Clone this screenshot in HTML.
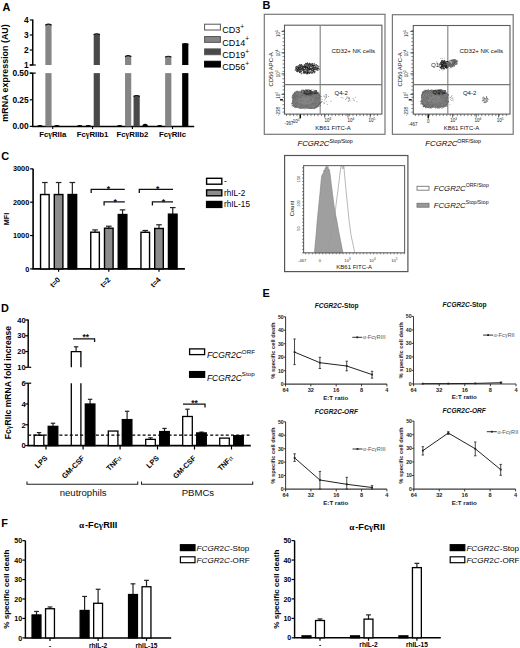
<!DOCTYPE html>
<html><head><meta charset="utf-8"><style>
html,body{margin:0;padding:0;background:#fff;}
svg{display:block;font-family:"Liberation Sans",sans-serif;}
</style></head><body>
<svg width="520" height="648" viewBox="0 0 520 648">
<defs><filter id="bl" x="-20%" y="-20%" width="140%" height="140%"><feGaussianBlur stdDeviation="0.6"/></filter></defs>
<rect width="520" height="648" fill="#fff"/>
<text x="2.4" y="10.6" font-size="10.9" font-weight="bold" font-style="normal" text-anchor="start" fill="#000" >A</text>
<text x="262.4" y="8.9" font-size="10.9" font-weight="bold" font-style="normal" text-anchor="start" fill="#000" >B</text>
<text x="1.2" y="159.8" font-size="10.9" font-weight="bold" font-style="normal" text-anchor="start" fill="#000" >C</text>
<text x="1" y="311.6" font-size="10.9" font-weight="bold" font-style="normal" text-anchor="start" fill="#000" >D</text>
<text x="262.5" y="296.6" font-size="10.9" font-weight="bold" font-style="normal" text-anchor="start" fill="#000" >E</text>
<text x="1.3" y="526.7" font-size="10.9" font-weight="bold" font-style="normal" text-anchor="start" fill="#000" >F</text>
<line x1="32.75" y1="19.5" x2="32.75" y2="65" stroke="#000" stroke-width="1.45" />
<line x1="32.75" y1="73.1" x2="32.75" y2="126.4" stroke="#000" stroke-width="1.45" />
<line x1="32.05" y1="126.4" x2="194.2" y2="126.4" stroke="#000" stroke-width="1.45" />
<line x1="29.75" y1="20" x2="32.75" y2="20" stroke="#000" stroke-width="1.2" />
<text x="28.7" y="23" font-size="8.4" font-weight="bold" font-style="normal" text-anchor="end" fill="#000" >4</text>
<line x1="29.75" y1="35" x2="32.75" y2="35" stroke="#000" stroke-width="1.2" />
<text x="28.7" y="38" font-size="8.4" font-weight="bold" font-style="normal" text-anchor="end" fill="#000" >3</text>
<line x1="29.75" y1="50" x2="32.75" y2="50" stroke="#000" stroke-width="1.2" />
<text x="28.7" y="53" font-size="8.4" font-weight="bold" font-style="normal" text-anchor="end" fill="#000" >2</text>
<line x1="29.75" y1="65" x2="32.75" y2="65" stroke="#000" stroke-width="1.2" />
<text x="28.7" y="68" font-size="8.4" font-weight="bold" font-style="normal" text-anchor="end" fill="#000" >1</text>
<line x1="29.75" y1="73.2" x2="32.75" y2="73.2" stroke="#000" stroke-width="1.2" />
<text x="28.7" y="76.2" font-size="8.4" font-weight="bold" font-style="normal" text-anchor="end" fill="#000" >0.50</text>
<line x1="29.75" y1="99.8" x2="32.75" y2="99.8" stroke="#000" stroke-width="1.2" />
<text x="28.7" y="102.8" font-size="8.4" font-weight="bold" font-style="normal" text-anchor="end" fill="#000" >0.25</text>
<line x1="29.75" y1="126.4" x2="32.75" y2="126.4" stroke="#000" stroke-width="1.2" />
<text x="28.7" y="129.4" font-size="8.4" font-weight="bold" font-style="normal" text-anchor="end" fill="#000" >0.00</text>
<line x1="29.75" y1="65" x2="35.75" y2="65" stroke="#000" stroke-width="1.2" />
<line x1="29.75" y1="73.1" x2="35.75" y2="73.1" stroke="#000" stroke-width="1.2" />
<line x1="52.7" y1="126.4" x2="52.7" y2="129" stroke="#000" stroke-width="1.1" />
<path d="M37.15,126.4 Q37.15,125.1 39.95,125.1 Q42.75,125.1 42.75,126.4 Z" fill="#000"/>
<rect x="45.35" y="24.2" width="6.2" height="40.8" fill="#858585" stroke="none" stroke-width="0" />
<rect x="45.35" y="73.1" width="6.2" height="53.3" fill="#858585" stroke="none" stroke-width="0" />
<path d="M45.35,25.2 Q48.45,23 51.55,25.2" stroke="#111" stroke-width="1.1" fill="none"/>
<path d="M54.15,126.4 Q54.15,125.1 56.95,125.1 Q59.75,125.1 59.75,126.4 Z" fill="#000"/>
<line x1="92.55" y1="126.4" x2="92.55" y2="129" stroke="#000" stroke-width="1.1" />
<path d="M77,126.4 Q77,125.1 79.8,125.1 Q82.6,125.1 82.6,126.4 Z" fill="#000"/>
<path d="M85.5,126.4 Q85.5,125.1 88.3,125.1 Q91.1,125.1 91.1,126.4 Z" fill="#000"/>
<rect x="93.7" y="33.8" width="6.2" height="31.2" fill="#494949" stroke="none" stroke-width="0" />
<rect x="93.7" y="73.1" width="6.2" height="53.3" fill="#494949" stroke="none" stroke-width="0" />
<path d="M93.7,34.8 Q96.8,32.6 99.9,34.8" stroke="#111" stroke-width="1.1" fill="none"/>
<line x1="132.4" y1="126.4" x2="132.4" y2="129" stroke="#000" stroke-width="1.1" />
<path d="M116.85,126.4 Q116.85,125.1 119.65,125.1 Q122.45,125.1 122.45,126.4 Z" fill="#000"/>
<rect x="125.05" y="55.7" width="6.2" height="9.3" fill="#858585" stroke="none" stroke-width="0" />
<rect x="125.05" y="73.1" width="6.2" height="53.3" fill="#858585" stroke="none" stroke-width="0" />
<path d="M125.05,56.7 Q128.15,54.5 131.25,56.7" stroke="#111" stroke-width="1.1" fill="none"/>
<rect x="133.55" y="95.54" width="6.2" height="30.86" fill="#494949" stroke="none" stroke-width="0" />
<path d="M133.55,96.54 Q136.65,94.34 139.75,96.54" stroke="#111" stroke-width="1.1" fill="none"/>
<path d="M142.35,126.4 Q142.35,123.67 145.15,123.67 Q147.95,123.67 147.95,126.4 Z" fill="#000"/>
<line x1="172.5" y1="126.4" x2="172.5" y2="129" stroke="#000" stroke-width="1.1" />
<path d="M156.95,126.4 Q156.95,125.1 159.75,125.1 Q162.55,125.1 162.55,126.4 Z" fill="#000"/>
<rect x="165.15" y="56.3" width="6.2" height="8.7" fill="#858585" stroke="none" stroke-width="0" />
<rect x="165.15" y="73.1" width="6.2" height="53.3" fill="#858585" stroke="none" stroke-width="0" />
<path d="M165.15,57.3 Q168.25,55.1 171.35,57.3" stroke="#111" stroke-width="1.1" fill="none"/>
<rect x="182.15" y="43.55" width="6.2" height="21.45" fill="#000" stroke="none" stroke-width="0" />
<rect x="182.15" y="73.1" width="6.2" height="53.3" fill="#000" stroke="none" stroke-width="0" />
<path d="M182.15,44.55 Q185.25,42.35 188.35,44.55" stroke="#111" stroke-width="1.1" fill="none"/>
<text x="52.7" y="137.2" font-size="7.8" font-weight="bold" font-style="normal" text-anchor="middle" fill="#000" >Fc<tspan font-family="Liberation Serif">&#947;</tspan>RIIa</text>
<text x="92.55" y="137.2" font-size="7.8" font-weight="bold" font-style="normal" text-anchor="middle" fill="#000" >Fc<tspan font-family="Liberation Serif">&#947;</tspan>RIIb1</text>
<text x="132.4" y="137.2" font-size="7.8" font-weight="bold" font-style="normal" text-anchor="middle" fill="#000" >Fc<tspan font-family="Liberation Serif">&#947;</tspan>RIIb2</text>
<text x="172.5" y="137.2" font-size="7.8" font-weight="bold" font-style="normal" text-anchor="middle" fill="#000" >Fc<tspan font-family="Liberation Serif">&#947;</tspan>RIIc</text>
<text x="0" y="0" font-size="8.9" font-weight="bold" font-style="normal" text-anchor="middle" fill="#000" transform="translate(8.2,73) rotate(-90)">mRNA expression (AU)</text>
<rect x="204.6" y="24.2" width="15.8" height="5.8" fill="#fff" stroke="#555" stroke-width="1.0" />
<text x="222.3" y="33.2" font-size="9.0" font-weight="normal" font-style="normal" text-anchor="start" fill="#000" >CD3<tspan font-size="6.6" dy="-4.4">+</tspan></text>
<rect x="204.6" y="36.55" width="15.8" height="5.8" fill="#858585" stroke="#555" stroke-width="1.0" />
<text x="222.3" y="45.55" font-size="9.0" font-weight="normal" font-style="normal" text-anchor="start" fill="#000" >CD14<tspan font-size="6.6" dy="-4.4">+</tspan></text>
<rect x="204.6" y="48.9" width="15.8" height="5.8" fill="#494949" stroke="#555" stroke-width="1.0" />
<text x="222.3" y="57.9" font-size="9.0" font-weight="normal" font-style="normal" text-anchor="start" fill="#000" >CD19<tspan font-size="6.6" dy="-4.4">+</tspan></text>
<rect x="204.6" y="61.25" width="15.8" height="5.8" fill="#000" stroke="#000" stroke-width="1.0" />
<text x="222.3" y="70.25" font-size="9.0" font-weight="normal" font-style="normal" text-anchor="start" fill="#000" >CD56<tspan font-size="6.6" dy="-4.4">+</tspan></text>
<rect x="264.3" y="14.3" width="120.7" height="120" fill="none" stroke="#777" stroke-width="1.2" />
<rect x="284.5" y="25.2" width="97.4" height="88.9" fill="none" stroke="#5c5c5c" stroke-width="1.1" />
<line x1="320.2" y1="25.2" x2="320.2" y2="114.1" stroke="#8a8a8a" stroke-width="1.2" />
<line x1="284.5" y1="84.6" x2="381.9" y2="84.6" stroke="#777" stroke-width="1.1" />
<line x1="282.5" y1="112.1" x2="284.5" y2="112.1" stroke="#333" stroke-width="0.6" />
<line x1="282.5" y1="108.4" x2="284.5" y2="108.4" stroke="#333" stroke-width="0.6" />
<line x1="282.5" y1="104.7" x2="284.5" y2="104.7" stroke="#333" stroke-width="0.6" />
<line x1="282.5" y1="101" x2="284.5" y2="101" stroke="#333" stroke-width="0.6" />
<line x1="282.5" y1="97.3" x2="284.5" y2="97.3" stroke="#333" stroke-width="0.6" />
<line x1="282.5" y1="93.6" x2="284.5" y2="93.6" stroke="#333" stroke-width="0.6" />
<line x1="282.5" y1="89.9" x2="284.5" y2="89.9" stroke="#333" stroke-width="0.6" />
<line x1="282.5" y1="86.2" x2="284.5" y2="86.2" stroke="#333" stroke-width="0.6" />
<line x1="282.5" y1="82.5" x2="284.5" y2="82.5" stroke="#333" stroke-width="0.6" />
<line x1="282.5" y1="78.8" x2="284.5" y2="78.8" stroke="#333" stroke-width="0.6" />
<line x1="282.5" y1="75.1" x2="284.5" y2="75.1" stroke="#333" stroke-width="0.6" />
<line x1="282.5" y1="71.4" x2="284.5" y2="71.4" stroke="#333" stroke-width="0.6" />
<line x1="282.5" y1="67.7" x2="284.5" y2="67.7" stroke="#333" stroke-width="0.6" />
<line x1="282.5" y1="64" x2="284.5" y2="64" stroke="#333" stroke-width="0.6" />
<line x1="282.5" y1="60.3" x2="284.5" y2="60.3" stroke="#333" stroke-width="0.6" />
<line x1="282.5" y1="56.6" x2="284.5" y2="56.6" stroke="#333" stroke-width="0.6" />
<line x1="282.5" y1="52.9" x2="284.5" y2="52.9" stroke="#333" stroke-width="0.6" />
<line x1="282.5" y1="49.2" x2="284.5" y2="49.2" stroke="#333" stroke-width="0.6" />
<line x1="282.5" y1="45.5" x2="284.5" y2="45.5" stroke="#333" stroke-width="0.6" />
<line x1="282.5" y1="41.8" x2="284.5" y2="41.8" stroke="#333" stroke-width="0.6" />
<line x1="282.5" y1="38.1" x2="284.5" y2="38.1" stroke="#333" stroke-width="0.6" />
<line x1="282.5" y1="34.4" x2="284.5" y2="34.4" stroke="#333" stroke-width="0.6" />
<line x1="282.5" y1="30.7" x2="284.5" y2="30.7" stroke="#333" stroke-width="0.6" />
<line x1="286.5" y1="114.1" x2="286.5" y2="116.1" stroke="#333" stroke-width="0.6" />
<line x1="290" y1="114.1" x2="290" y2="116.1" stroke="#333" stroke-width="0.6" />
<line x1="293.5" y1="114.1" x2="293.5" y2="116.1" stroke="#333" stroke-width="0.6" />
<line x1="297" y1="114.1" x2="297" y2="116.1" stroke="#333" stroke-width="0.6" />
<line x1="300.5" y1="114.1" x2="300.5" y2="116.1" stroke="#333" stroke-width="0.6" />
<line x1="304" y1="114.1" x2="304" y2="116.1" stroke="#333" stroke-width="0.6" />
<line x1="307.5" y1="114.1" x2="307.5" y2="116.1" stroke="#333" stroke-width="0.6" />
<line x1="311" y1="114.1" x2="311" y2="116.1" stroke="#333" stroke-width="0.6" />
<line x1="314.5" y1="114.1" x2="314.5" y2="116.1" stroke="#333" stroke-width="0.6" />
<line x1="318" y1="114.1" x2="318" y2="116.1" stroke="#333" stroke-width="0.6" />
<line x1="321.5" y1="114.1" x2="321.5" y2="116.1" stroke="#333" stroke-width="0.6" />
<line x1="325" y1="114.1" x2="325" y2="116.1" stroke="#333" stroke-width="0.6" />
<line x1="328.5" y1="114.1" x2="328.5" y2="116.1" stroke="#333" stroke-width="0.6" />
<line x1="332" y1="114.1" x2="332" y2="116.1" stroke="#333" stroke-width="0.6" />
<line x1="335.5" y1="114.1" x2="335.5" y2="116.1" stroke="#333" stroke-width="0.6" />
<line x1="339" y1="114.1" x2="339" y2="116.1" stroke="#333" stroke-width="0.6" />
<line x1="342.5" y1="114.1" x2="342.5" y2="116.1" stroke="#333" stroke-width="0.6" />
<line x1="346" y1="114.1" x2="346" y2="116.1" stroke="#333" stroke-width="0.6" />
<line x1="349.5" y1="114.1" x2="349.5" y2="116.1" stroke="#333" stroke-width="0.6" />
<line x1="353" y1="114.1" x2="353" y2="116.1" stroke="#333" stroke-width="0.6" />
<line x1="356.5" y1="114.1" x2="356.5" y2="116.1" stroke="#333" stroke-width="0.6" />
<line x1="360" y1="114.1" x2="360" y2="116.1" stroke="#333" stroke-width="0.6" />
<line x1="363.5" y1="114.1" x2="363.5" y2="116.1" stroke="#333" stroke-width="0.6" />
<line x1="367" y1="114.1" x2="367" y2="116.1" stroke="#333" stroke-width="0.6" />
<line x1="370.5" y1="114.1" x2="370.5" y2="116.1" stroke="#333" stroke-width="0.6" />
<line x1="374" y1="114.1" x2="374" y2="116.1" stroke="#333" stroke-width="0.6" />
<line x1="377.5" y1="114.1" x2="377.5" y2="116.1" stroke="#333" stroke-width="0.6" />
<rect x="392.4" y="14.7" width="120.8" height="119.6" fill="none" stroke="#777" stroke-width="1.2" />
<rect x="413.3" y="25.5" width="96.7" height="88.6" fill="none" stroke="#5c5c5c" stroke-width="1.1" />
<line x1="447.8" y1="25.5" x2="447.8" y2="114.1" stroke="#8a8a8a" stroke-width="1.2" />
<line x1="413.3" y1="84.6" x2="510" y2="84.6" stroke="#777" stroke-width="1.1" />
<line x1="411.3" y1="112.1" x2="413.3" y2="112.1" stroke="#333" stroke-width="0.6" />
<line x1="411.3" y1="108.4" x2="413.3" y2="108.4" stroke="#333" stroke-width="0.6" />
<line x1="411.3" y1="104.7" x2="413.3" y2="104.7" stroke="#333" stroke-width="0.6" />
<line x1="411.3" y1="101" x2="413.3" y2="101" stroke="#333" stroke-width="0.6" />
<line x1="411.3" y1="97.3" x2="413.3" y2="97.3" stroke="#333" stroke-width="0.6" />
<line x1="411.3" y1="93.6" x2="413.3" y2="93.6" stroke="#333" stroke-width="0.6" />
<line x1="411.3" y1="89.9" x2="413.3" y2="89.9" stroke="#333" stroke-width="0.6" />
<line x1="411.3" y1="86.2" x2="413.3" y2="86.2" stroke="#333" stroke-width="0.6" />
<line x1="411.3" y1="82.5" x2="413.3" y2="82.5" stroke="#333" stroke-width="0.6" />
<line x1="411.3" y1="78.8" x2="413.3" y2="78.8" stroke="#333" stroke-width="0.6" />
<line x1="411.3" y1="75.1" x2="413.3" y2="75.1" stroke="#333" stroke-width="0.6" />
<line x1="411.3" y1="71.4" x2="413.3" y2="71.4" stroke="#333" stroke-width="0.6" />
<line x1="411.3" y1="67.7" x2="413.3" y2="67.7" stroke="#333" stroke-width="0.6" />
<line x1="411.3" y1="64" x2="413.3" y2="64" stroke="#333" stroke-width="0.6" />
<line x1="411.3" y1="60.3" x2="413.3" y2="60.3" stroke="#333" stroke-width="0.6" />
<line x1="411.3" y1="56.6" x2="413.3" y2="56.6" stroke="#333" stroke-width="0.6" />
<line x1="411.3" y1="52.9" x2="413.3" y2="52.9" stroke="#333" stroke-width="0.6" />
<line x1="411.3" y1="49.2" x2="413.3" y2="49.2" stroke="#333" stroke-width="0.6" />
<line x1="411.3" y1="45.5" x2="413.3" y2="45.5" stroke="#333" stroke-width="0.6" />
<line x1="411.3" y1="41.8" x2="413.3" y2="41.8" stroke="#333" stroke-width="0.6" />
<line x1="411.3" y1="38.1" x2="413.3" y2="38.1" stroke="#333" stroke-width="0.6" />
<line x1="411.3" y1="34.4" x2="413.3" y2="34.4" stroke="#333" stroke-width="0.6" />
<line x1="411.3" y1="30.7" x2="413.3" y2="30.7" stroke="#333" stroke-width="0.6" />
<line x1="415.3" y1="114.1" x2="415.3" y2="116.1" stroke="#333" stroke-width="0.6" />
<line x1="418.8" y1="114.1" x2="418.8" y2="116.1" stroke="#333" stroke-width="0.6" />
<line x1="422.3" y1="114.1" x2="422.3" y2="116.1" stroke="#333" stroke-width="0.6" />
<line x1="425.8" y1="114.1" x2="425.8" y2="116.1" stroke="#333" stroke-width="0.6" />
<line x1="429.3" y1="114.1" x2="429.3" y2="116.1" stroke="#333" stroke-width="0.6" />
<line x1="432.8" y1="114.1" x2="432.8" y2="116.1" stroke="#333" stroke-width="0.6" />
<line x1="436.3" y1="114.1" x2="436.3" y2="116.1" stroke="#333" stroke-width="0.6" />
<line x1="439.8" y1="114.1" x2="439.8" y2="116.1" stroke="#333" stroke-width="0.6" />
<line x1="443.3" y1="114.1" x2="443.3" y2="116.1" stroke="#333" stroke-width="0.6" />
<line x1="446.8" y1="114.1" x2="446.8" y2="116.1" stroke="#333" stroke-width="0.6" />
<line x1="450.3" y1="114.1" x2="450.3" y2="116.1" stroke="#333" stroke-width="0.6" />
<line x1="453.8" y1="114.1" x2="453.8" y2="116.1" stroke="#333" stroke-width="0.6" />
<line x1="457.3" y1="114.1" x2="457.3" y2="116.1" stroke="#333" stroke-width="0.6" />
<line x1="460.8" y1="114.1" x2="460.8" y2="116.1" stroke="#333" stroke-width="0.6" />
<line x1="464.3" y1="114.1" x2="464.3" y2="116.1" stroke="#333" stroke-width="0.6" />
<line x1="467.8" y1="114.1" x2="467.8" y2="116.1" stroke="#333" stroke-width="0.6" />
<line x1="471.3" y1="114.1" x2="471.3" y2="116.1" stroke="#333" stroke-width="0.6" />
<line x1="474.8" y1="114.1" x2="474.8" y2="116.1" stroke="#333" stroke-width="0.6" />
<line x1="478.3" y1="114.1" x2="478.3" y2="116.1" stroke="#333" stroke-width="0.6" />
<line x1="481.8" y1="114.1" x2="481.8" y2="116.1" stroke="#333" stroke-width="0.6" />
<line x1="485.3" y1="114.1" x2="485.3" y2="116.1" stroke="#333" stroke-width="0.6" />
<line x1="488.8" y1="114.1" x2="488.8" y2="116.1" stroke="#333" stroke-width="0.6" />
<line x1="492.3" y1="114.1" x2="492.3" y2="116.1" stroke="#333" stroke-width="0.6" />
<line x1="495.8" y1="114.1" x2="495.8" y2="116.1" stroke="#333" stroke-width="0.6" />
<line x1="499.3" y1="114.1" x2="499.3" y2="116.1" stroke="#333" stroke-width="0.6" />
<line x1="502.8" y1="114.1" x2="502.8" y2="116.1" stroke="#333" stroke-width="0.6" />
<line x1="506.3" y1="114.1" x2="506.3" y2="116.1" stroke="#333" stroke-width="0.6" />
<circle cx="303.8" cy="66.5" r="0.55" fill="#111"/>
<circle cx="299.1" cy="66.8" r="0.55" fill="#666"/>
<circle cx="303.3" cy="69.6" r="0.55" fill="#222"/>
<circle cx="309.0" cy="67.0" r="0.55" fill="#111"/>
<circle cx="296.9" cy="66.4" r="0.55" fill="#111"/>
<circle cx="316.0" cy="67.4" r="0.55" fill="#111"/>
<circle cx="300.6" cy="70.4" r="0.55" fill="#666"/>
<circle cx="308.9" cy="66.8" r="0.55" fill="#222"/>
<circle cx="309.0" cy="69.8" r="0.55" fill="#111"/>
<circle cx="314.6" cy="69.2" r="0.55" fill="#222"/>
<circle cx="308.7" cy="64.8" r="0.55" fill="#444"/>
<circle cx="304.8" cy="72.1" r="0.55" fill="#222"/>
<circle cx="299.1" cy="67.1" r="0.55" fill="#666"/>
<circle cx="299.9" cy="69.8" r="0.55" fill="#666"/>
<circle cx="298.4" cy="71.0" r="0.55" fill="#333"/>
<circle cx="311.9" cy="68.6" r="0.55" fill="#111"/>
<circle cx="314.8" cy="64.9" r="0.55" fill="#333"/>
<circle cx="300.8" cy="68.8" r="0.55" fill="#444"/>
<circle cx="307.1" cy="69.6" r="0.55" fill="#111"/>
<circle cx="305.5" cy="67.5" r="0.55" fill="#444"/>
<circle cx="304.3" cy="66.3" r="0.55" fill="#111"/>
<circle cx="298.8" cy="65.8" r="0.55" fill="#444"/>
<circle cx="309.6" cy="69.2" r="0.55" fill="#222"/>
<circle cx="299.0" cy="68.9" r="0.55" fill="#222"/>
<circle cx="313.3" cy="65.8" r="0.55" fill="#444"/>
<circle cx="298.6" cy="71.0" r="0.55" fill="#333"/>
<circle cx="308.7" cy="72.3" r="0.55" fill="#111"/>
<circle cx="308.0" cy="70.3" r="0.55" fill="#444"/>
<circle cx="305.6" cy="72.5" r="0.55" fill="#222"/>
<circle cx="300.6" cy="67.5" r="0.55" fill="#222"/>
<circle cx="299.9" cy="66.0" r="0.55" fill="#111"/>
<circle cx="315.9" cy="66.9" r="0.55" fill="#666"/>
<circle cx="313.2" cy="69.9" r="0.55" fill="#444"/>
<circle cx="308.1" cy="69.4" r="0.55" fill="#222"/>
<circle cx="310.7" cy="69.3" r="0.55" fill="#666"/>
<circle cx="304.8" cy="69.8" r="0.55" fill="#111"/>
<circle cx="305.4" cy="69.4" r="0.55" fill="#333"/>
<circle cx="295.6" cy="69.8" r="0.55" fill="#111"/>
<circle cx="295.2" cy="70.1" r="0.55" fill="#444"/>
<circle cx="307.3" cy="65.9" r="0.55" fill="#333"/>
<circle cx="298.7" cy="68.5" r="0.55" fill="#222"/>
<circle cx="314.7" cy="72.0" r="0.55" fill="#666"/>
<circle cx="304.0" cy="73.5" r="0.55" fill="#111"/>
<circle cx="301.4" cy="71.6" r="0.55" fill="#222"/>
<circle cx="301.1" cy="68.0" r="0.55" fill="#666"/>
<circle cx="309.6" cy="65.8" r="0.55" fill="#222"/>
<circle cx="306.4" cy="63.5" r="0.55" fill="#222"/>
<circle cx="306.7" cy="66.2" r="0.55" fill="#111"/>
<circle cx="311.2" cy="72.3" r="0.55" fill="#666"/>
<circle cx="317.9" cy="66.0" r="0.55" fill="#333"/>
<circle cx="309.7" cy="72.9" r="0.55" fill="#222"/>
<circle cx="299.7" cy="69.1" r="0.55" fill="#666"/>
<circle cx="301.0" cy="65.0" r="0.55" fill="#111"/>
<circle cx="300.2" cy="71.4" r="0.55" fill="#222"/>
<circle cx="309.1" cy="65.3" r="0.55" fill="#333"/>
<circle cx="306.6" cy="66.8" r="0.55" fill="#444"/>
<circle cx="305.9" cy="64.9" r="0.55" fill="#222"/>
<circle cx="298.7" cy="66.5" r="0.55" fill="#444"/>
<circle cx="311.6" cy="64.6" r="0.55" fill="#444"/>
<circle cx="298.6" cy="67.7" r="0.55" fill="#222"/>
<circle cx="307.1" cy="67.6" r="0.55" fill="#111"/>
<circle cx="298.6" cy="70.5" r="0.55" fill="#222"/>
<circle cx="307.5" cy="72.6" r="0.55" fill="#333"/>
<circle cx="303.4" cy="72.0" r="0.55" fill="#666"/>
<circle cx="313.1" cy="66.6" r="0.55" fill="#333"/>
<circle cx="311.9" cy="63.6" r="0.55" fill="#666"/>
<circle cx="298.7" cy="68.8" r="0.55" fill="#666"/>
<circle cx="310.6" cy="66.8" r="0.55" fill="#222"/>
<circle cx="313.5" cy="71.5" r="0.55" fill="#222"/>
<circle cx="299.1" cy="67.5" r="0.55" fill="#333"/>
<circle cx="297.6" cy="69.3" r="0.55" fill="#111"/>
<circle cx="311.1" cy="72.0" r="0.55" fill="#111"/>
<circle cx="297.6" cy="67.2" r="0.55" fill="#111"/>
<circle cx="299.2" cy="68.7" r="0.55" fill="#666"/>
<circle cx="302.4" cy="68.5" r="0.55" fill="#444"/>
<circle cx="299.6" cy="68.3" r="0.55" fill="#333"/>
<circle cx="311.4" cy="73.3" r="0.55" fill="#444"/>
<circle cx="303.8" cy="69.2" r="0.55" fill="#111"/>
<circle cx="309.8" cy="72.2" r="0.55" fill="#333"/>
<circle cx="314.3" cy="72.1" r="0.55" fill="#333"/>
<circle cx="312.3" cy="67.7" r="0.55" fill="#222"/>
<circle cx="314.0" cy="65.6" r="0.55" fill="#222"/>
<circle cx="314.5" cy="72.7" r="0.55" fill="#444"/>
<circle cx="297.4" cy="71.2" r="0.55" fill="#333"/>
<circle cx="314.5" cy="68.4" r="0.55" fill="#666"/>
<circle cx="301.1" cy="71.1" r="0.55" fill="#666"/>
<circle cx="316.1" cy="69.5" r="0.55" fill="#222"/>
<circle cx="306.6" cy="72.8" r="0.55" fill="#111"/>
<circle cx="307.6" cy="64.1" r="0.55" fill="#444"/>
<circle cx="318.2" cy="66.2" r="0.55" fill="#444"/>
<circle cx="302.7" cy="67.7" r="0.55" fill="#333"/>
<circle cx="306.2" cy="67.3" r="0.55" fill="#444"/>
<circle cx="317.8" cy="68.3" r="0.55" fill="#111"/>
<circle cx="313.0" cy="65.0" r="0.55" fill="#111"/>
<circle cx="312.8" cy="68.3" r="0.55" fill="#666"/>
<circle cx="301.0" cy="66.2" r="0.55" fill="#111"/>
<circle cx="313.6" cy="70.2" r="0.55" fill="#222"/>
<circle cx="312.4" cy="67.2" r="0.55" fill="#333"/>
<circle cx="300.0" cy="69.9" r="0.55" fill="#222"/>
<circle cx="314.1" cy="68.0" r="0.55" fill="#111"/>
<circle cx="305.9" cy="68.3" r="0.55" fill="#222"/>
<circle cx="300.0" cy="69.9" r="0.55" fill="#444"/>
<circle cx="314.7" cy="65.4" r="0.55" fill="#666"/>
<circle cx="308.3" cy="70.9" r="0.55" fill="#222"/>
<circle cx="299.7" cy="65.1" r="0.55" fill="#444"/>
<circle cx="314.2" cy="63.2" r="0.55" fill="#111"/>
<circle cx="307.4" cy="69.8" r="0.55" fill="#222"/>
<circle cx="305.3" cy="69.3" r="0.55" fill="#666"/>
<circle cx="308.0" cy="72.2" r="0.55" fill="#333"/>
<circle cx="307.2" cy="69.4" r="0.55" fill="#111"/>
<circle cx="314.2" cy="67.6" r="0.55" fill="#666"/>
<circle cx="311.6" cy="66.5" r="0.55" fill="#222"/>
<circle cx="303.0" cy="70.3" r="0.55" fill="#444"/>
<circle cx="307.6" cy="71.2" r="0.55" fill="#111"/>
<circle cx="309.9" cy="69.6" r="0.55" fill="#666"/>
<circle cx="306.7" cy="69.3" r="0.55" fill="#222"/>
<circle cx="309.7" cy="67.0" r="0.55" fill="#222"/>
<circle cx="314.7" cy="65.1" r="0.55" fill="#444"/>
<circle cx="296.3" cy="69.1" r="0.55" fill="#333"/>
<circle cx="317.6" cy="69.1" r="0.55" fill="#666"/>
<circle cx="311.0" cy="64.3" r="0.55" fill="#222"/>
<circle cx="296.2" cy="66.8" r="0.55" fill="#111"/>
<circle cx="315.9" cy="65.1" r="0.55" fill="#222"/>
<circle cx="305.4" cy="67.5" r="0.55" fill="#111"/>
<circle cx="314.3" cy="69.0" r="0.55" fill="#111"/>
<circle cx="297.5" cy="69.2" r="0.55" fill="#111"/>
<circle cx="313.7" cy="66.9" r="0.55" fill="#666"/>
<circle cx="307.2" cy="66.9" r="0.55" fill="#444"/>
<circle cx="307.0" cy="70.6" r="0.55" fill="#222"/>
<circle cx="301.6" cy="69.3" r="0.55" fill="#444"/>
<circle cx="306.6" cy="70.0" r="0.55" fill="#111"/>
<circle cx="316.1" cy="69.9" r="0.55" fill="#222"/>
<circle cx="304.7" cy="65.7" r="0.55" fill="#666"/>
<circle cx="314.6" cy="69.2" r="0.55" fill="#333"/>
<circle cx="309.7" cy="72.5" r="0.55" fill="#444"/>
<circle cx="301.1" cy="69.3" r="0.55" fill="#444"/>
<circle cx="295.9" cy="67.4" r="0.55" fill="#333"/>
<circle cx="316.0" cy="67.2" r="0.55" fill="#444"/>
<circle cx="317.2" cy="65.5" r="0.55" fill="#222"/>
<circle cx="307.3" cy="67.2" r="0.55" fill="#333"/>
<circle cx="311.6" cy="64.3" r="0.55" fill="#666"/>
<circle cx="303.8" cy="70.3" r="0.55" fill="#444"/>
<circle cx="318.5" cy="68.6" r="0.55" fill="#111"/>
<circle cx="297.4" cy="71.8" r="0.55" fill="#222"/>
<circle cx="312.9" cy="70.3" r="0.55" fill="#333"/>
<circle cx="307.7" cy="68.2" r="0.55" fill="#111"/>
<circle cx="317.9" cy="68.2" r="0.55" fill="#333"/>
<circle cx="303.5" cy="70.0" r="0.55" fill="#666"/>
<circle cx="307.5" cy="66.8" r="0.55" fill="#111"/>
<circle cx="304.4" cy="66.6" r="0.55" fill="#222"/>
<circle cx="301.9" cy="68.5" r="0.55" fill="#222"/>
<circle cx="297.3" cy="71.0" r="0.55" fill="#111"/>
<circle cx="316.8" cy="65.5" r="0.55" fill="#666"/>
<circle cx="316.4" cy="69.2" r="0.55" fill="#444"/>
<circle cx="302.0" cy="65.8" r="0.55" fill="#333"/>
<circle cx="298.5" cy="67.6" r="0.55" fill="#222"/>
<circle cx="305.3" cy="71.6" r="0.55" fill="#333"/>
<circle cx="300.5" cy="69.1" r="0.55" fill="#444"/>
<circle cx="311.3" cy="69.0" r="0.55" fill="#666"/>
<circle cx="309.7" cy="73.0" r="0.55" fill="#333"/>
<circle cx="315.1" cy="71.8" r="0.55" fill="#222"/>
<circle cx="302.4" cy="67.9" r="0.55" fill="#333"/>
<circle cx="302.5" cy="67.7" r="0.55" fill="#111"/>
<circle cx="298.9" cy="71.0" r="0.55" fill="#666"/>
<circle cx="307.4" cy="66.3" r="0.55" fill="#444"/>
<circle cx="312.5" cy="70.3" r="0.55" fill="#666"/>
<circle cx="312.7" cy="64.9" r="0.55" fill="#111"/>
<circle cx="302.8" cy="70.0" r="0.55" fill="#444"/>
<circle cx="310.2" cy="65.4" r="0.55" fill="#111"/>
<circle cx="307.7" cy="66.6" r="0.55" fill="#444"/>
<circle cx="318.0" cy="70.0" r="0.55" fill="#666"/>
<circle cx="307.8" cy="73.7" r="0.55" fill="#111"/>
<circle cx="312.3" cy="67.8" r="0.55" fill="#111"/>
<circle cx="299.8" cy="64.6" r="0.55" fill="#444"/>
<circle cx="311.2" cy="68.2" r="0.55" fill="#222"/>
<circle cx="303.4" cy="66.4" r="0.55" fill="#333"/>
<circle cx="295.4" cy="68.1" r="0.55" fill="#444"/>
<circle cx="315.4" cy="69.6" r="0.55" fill="#666"/>
<circle cx="306.9" cy="72.8" r="0.55" fill="#666"/>
<circle cx="307.8" cy="68.4" r="0.55" fill="#333"/>
<circle cx="316.3" cy="64.5" r="0.55" fill="#444"/>
<circle cx="316.0" cy="68.6" r="0.55" fill="#444"/>
<circle cx="316.7" cy="68.5" r="0.55" fill="#444"/>
<circle cx="317.7" cy="70.3" r="0.55" fill="#222"/>
<circle cx="309.2" cy="72.9" r="0.55" fill="#111"/>
<circle cx="300.7" cy="72.1" r="0.55" fill="#444"/>
<circle cx="306.9" cy="66.0" r="0.55" fill="#666"/>
<circle cx="308.4" cy="69.6" r="0.55" fill="#222"/>
<circle cx="307.6" cy="66.2" r="0.55" fill="#333"/>
<circle cx="304.2" cy="67.5" r="0.55" fill="#222"/>
<circle cx="316.2" cy="69.3" r="0.55" fill="#666"/>
<circle cx="308.5" cy="70.1" r="0.55" fill="#666"/>
<circle cx="311.0" cy="68.8" r="0.55" fill="#444"/>
<circle cx="304.2" cy="71.8" r="0.55" fill="#111"/>
<circle cx="301.2" cy="73.7" r="0.55" fill="#222"/>
<circle cx="298.0" cy="69.7" r="0.55" fill="#333"/>
<circle cx="301.0" cy="71.5" r="0.55" fill="#333"/>
<circle cx="313.6" cy="69.5" r="0.55" fill="#111"/>
<circle cx="313.2" cy="70.5" r="0.55" fill="#222"/>
<circle cx="304.7" cy="71.6" r="0.55" fill="#444"/>
<circle cx="308.7" cy="69.8" r="0.55" fill="#666"/>
<circle cx="300.8" cy="72.0" r="0.55" fill="#444"/>
<circle cx="308.1" cy="67.6" r="0.55" fill="#444"/>
<circle cx="309.3" cy="68.6" r="0.55" fill="#111"/>
<circle cx="312.5" cy="66.5" r="0.55" fill="#333"/>
<circle cx="313.9" cy="67.3" r="0.55" fill="#111"/>
<circle cx="304.9" cy="71.0" r="0.55" fill="#333"/>
<circle cx="301.6" cy="67.0" r="0.55" fill="#111"/>
<circle cx="305.7" cy="68.6" r="0.55" fill="#444"/>
<circle cx="307.6" cy="73.1" r="0.55" fill="#444"/>
<circle cx="297.9" cy="69.0" r="0.55" fill="#111"/>
<circle cx="312.2" cy="63.8" r="0.55" fill="#222"/>
<circle cx="303.9" cy="71.9" r="0.55" fill="#333"/>
<circle cx="296.6" cy="68.6" r="0.55" fill="#444"/>
<circle cx="316.2" cy="69.5" r="0.55" fill="#111"/>
<circle cx="312.0" cy="71.2" r="0.55" fill="#444"/>
<circle cx="306.5" cy="73.8" r="0.55" fill="#111"/>
<circle cx="312.7" cy="68.0" r="0.55" fill="#444"/>
<circle cx="303.2" cy="69.1" r="0.55" fill="#222"/>
<circle cx="301.4" cy="64.6" r="0.55" fill="#111"/>
<circle cx="305.8" cy="72.6" r="0.55" fill="#333"/>
<circle cx="310.0" cy="71.4" r="0.55" fill="#222"/>
<circle cx="306.6" cy="70.4" r="0.55" fill="#666"/>
<circle cx="307.4" cy="70.3" r="0.55" fill="#222"/>
<circle cx="310.0" cy="65.2" r="0.55" fill="#444"/>
<circle cx="297.1" cy="69.6" r="0.55" fill="#222"/>
<circle cx="319.3" cy="69.1" r="0.55" fill="#333"/>
<circle cx="303.3" cy="67.4" r="0.55" fill="#666"/>
<circle cx="302.8" cy="68.5" r="0.55" fill="#222"/>
<circle cx="308.5" cy="65.3" r="0.55" fill="#111"/>
<circle cx="304.4" cy="67.4" r="0.55" fill="#222"/>
<circle cx="309.5" cy="68.5" r="0.55" fill="#333"/>
<circle cx="309.5" cy="67.8" r="0.55" fill="#111"/>
<circle cx="300.3" cy="71.9" r="0.55" fill="#666"/>
<circle cx="309.0" cy="65.9" r="0.55" fill="#666"/>
<circle cx="309.5" cy="65.0" r="0.55" fill="#666"/>
<circle cx="304.6" cy="66.9" r="0.55" fill="#444"/>
<circle cx="305.6" cy="72.5" r="0.55" fill="#333"/>
<circle cx="307.1" cy="65.6" r="0.55" fill="#333"/>
<circle cx="307.9" cy="65.6" r="0.55" fill="#333"/>
<circle cx="299.9" cy="71.0" r="0.55" fill="#111"/>
<circle cx="312.8" cy="70.1" r="0.55" fill="#111"/>
<circle cx="299.3" cy="69.7" r="0.55" fill="#222"/>
<circle cx="309.8" cy="69.5" r="0.55" fill="#444"/>
<circle cx="304.9" cy="69.6" r="0.55" fill="#666"/>
<circle cx="310.0" cy="70.0" r="0.55" fill="#222"/>
<circle cx="297.3" cy="69.2" r="0.55" fill="#222"/>
<circle cx="314.4" cy="68.9" r="0.55" fill="#444"/>
<circle cx="302.8" cy="66.4" r="0.55" fill="#111"/>
<circle cx="312.5" cy="63.7" r="0.55" fill="#222"/>
<circle cx="299.6" cy="65.7" r="0.55" fill="#666"/>
<circle cx="312.5" cy="72.8" r="0.55" fill="#222"/>
<circle cx="309.0" cy="69.3" r="0.55" fill="#333"/>
<circle cx="306.7" cy="66.8" r="0.55" fill="#222"/>
<circle cx="307.5" cy="67.4" r="0.55" fill="#111"/>
<circle cx="300.4" cy="71.2" r="0.55" fill="#444"/>
<circle cx="304.4" cy="72.2" r="0.55" fill="#444"/>
<circle cx="302.8" cy="70.3" r="0.55" fill="#333"/>
<circle cx="315.1" cy="68.5" r="0.55" fill="#666"/>
<circle cx="296.4" cy="70.6" r="0.55" fill="#666"/>
<circle cx="312.0" cy="72.1" r="0.55" fill="#444"/>
<circle cx="303.4" cy="70.7" r="0.55" fill="#333"/>
<circle cx="303.9" cy="68.5" r="0.55" fill="#111"/>
<circle cx="309.3" cy="67.9" r="0.55" fill="#333"/>
<circle cx="317.4" cy="69.4" r="0.55" fill="#666"/>
<circle cx="309.7" cy="63.4" r="0.55" fill="#111"/>
<circle cx="305.7" cy="63.2" r="0.55" fill="#111"/>
<circle cx="301.4" cy="68.8" r="0.55" fill="#222"/>
<circle cx="309.5" cy="72.6" r="0.55" fill="#333"/>
<circle cx="303.7" cy="71.8" r="0.55" fill="#666"/>
<circle cx="311.7" cy="70.4" r="0.55" fill="#666"/>
<circle cx="297.5" cy="66.2" r="0.55" fill="#666"/>
<circle cx="315.2" cy="68.8" r="0.55" fill="#222"/>
<circle cx="306.2" cy="71.7" r="0.55" fill="#333"/>
<circle cx="309.4" cy="64.1" r="0.55" fill="#111"/>
<circle cx="312.9" cy="65.2" r="0.55" fill="#444"/>
<circle cx="314.0" cy="65.5" r="0.55" fill="#111"/>
<circle cx="311.0" cy="66.2" r="0.55" fill="#333"/>
<circle cx="301.1" cy="67.3" r="0.55" fill="#333"/>
<circle cx="308.3" cy="70.9" r="0.55" fill="#666"/>
<circle cx="311.0" cy="64.8" r="0.55" fill="#333"/>
<circle cx="312.5" cy="65.8" r="0.55" fill="#333"/>
<circle cx="309.6" cy="72.8" r="0.55" fill="#333"/>
<circle cx="298.3" cy="68.6" r="0.55" fill="#111"/>
<circle cx="305.1" cy="67.1" r="0.55" fill="#111"/>
<circle cx="306.5" cy="69.6" r="0.55" fill="#666"/>
<circle cx="301.7" cy="67.3" r="0.55" fill="#666"/>
<circle cx="309.3" cy="66.8" r="0.55" fill="#222"/>
<circle cx="307.7" cy="70.5" r="0.55" fill="#222"/>
<circle cx="311.8" cy="70.5" r="0.55" fill="#333"/>
<circle cx="314.4" cy="68.3" r="0.55" fill="#666"/>
<circle cx="297.1" cy="66.6" r="0.55" fill="#666"/>
<circle cx="307.8" cy="73.6" r="0.55" fill="#111"/>
<circle cx="305.3" cy="69.1" r="0.55" fill="#222"/>
<circle cx="311.7" cy="69.6" r="0.55" fill="#666"/>
<circle cx="313.8" cy="71.4" r="0.55" fill="#222"/>
<circle cx="301.9" cy="65.7" r="0.55" fill="#444"/>
<circle cx="304.1" cy="72.4" r="0.55" fill="#333"/>
<circle cx="305.4" cy="64.0" r="0.55" fill="#444"/>
<circle cx="312.0" cy="65.2" r="0.55" fill="#444"/>
<circle cx="309.1" cy="69.6" r="0.55" fill="#111"/>
<circle cx="312.0" cy="70.0" r="0.55" fill="#333"/>
<circle cx="298.5" cy="67.5" r="0.55" fill="#444"/>
<circle cx="318.3" cy="67.0" r="0.55" fill="#333"/>
<circle cx="309.9" cy="72.8" r="0.55" fill="#666"/>
<circle cx="307.5" cy="69.0" r="0.55" fill="#222"/>
<circle cx="301.9" cy="73.3" r="0.55" fill="#444"/>
<circle cx="312.6" cy="66.7" r="0.55" fill="#666"/>
<circle cx="304.3" cy="65.0" r="0.55" fill="#111"/>
<circle cx="299.7" cy="67.3" r="0.55" fill="#333"/>
<circle cx="298.5" cy="66.6" r="0.55" fill="#666"/>
<circle cx="317.4" cy="68.6" r="0.55" fill="#111"/>
<circle cx="315.7" cy="67.5" r="0.55" fill="#111"/>
<circle cx="306.2" cy="67.8" r="0.55" fill="#111"/>
<circle cx="317.2" cy="69.7" r="0.55" fill="#666"/>
<circle cx="316.4" cy="66.8" r="0.55" fill="#666"/>
<circle cx="313.8" cy="65.0" r="0.55" fill="#444"/>
<circle cx="310.2" cy="69.2" r="0.55" fill="#111"/>
<circle cx="307.4" cy="62.9" r="0.55" fill="#111"/>
<circle cx="305.0" cy="73.1" r="0.55" fill="#111"/>
<circle cx="304.5" cy="67.0" r="0.55" fill="#333"/>
<circle cx="313.9" cy="68.4" r="0.55" fill="#333"/>
<circle cx="307.8" cy="64.2" r="0.55" fill="#333"/>
<circle cx="296.8" cy="69.6" r="0.55" fill="#333"/>
<circle cx="300.6" cy="70.5" r="0.55" fill="#444"/>
<circle cx="300.0" cy="69.4" r="0.55" fill="#111"/>
<circle cx="312.4" cy="65.6" r="0.55" fill="#111"/>
<circle cx="299.7" cy="70.2" r="0.55" fill="#666"/>
<circle cx="313.1" cy="67.8" r="0.55" fill="#111"/>
<circle cx="305.2" cy="66.1" r="0.55" fill="#222"/>
<circle cx="318.9" cy="66.5" r="0.55" fill="#666"/>
<circle cx="306.1" cy="71.3" r="0.55" fill="#222"/>
<circle cx="312.9" cy="72.0" r="0.55" fill="#111"/>
<circle cx="298.5" cy="67.3" r="0.55" fill="#111"/>
<circle cx="300.2" cy="71.0" r="0.55" fill="#444"/>
<circle cx="296.9" cy="71.3" r="0.55" fill="#111"/>
<circle cx="301.3" cy="70.0" r="0.55" fill="#666"/>
<circle cx="313.3" cy="65.8" r="0.55" fill="#222"/>
<circle cx="298.8" cy="66.4" r="0.55" fill="#666"/>
<circle cx="303.3" cy="72.0" r="0.55" fill="#222"/>
<circle cx="297.0" cy="67.4" r="0.55" fill="#333"/>
<circle cx="308.0" cy="66.4" r="0.55" fill="#666"/>
<circle cx="303.9" cy="66.8" r="0.55" fill="#222"/>
<circle cx="307.5" cy="65.1" r="0.55" fill="#666"/>
<circle cx="307.6" cy="70.2" r="0.55" fill="#333"/>
<circle cx="308.3" cy="72.0" r="0.55" fill="#222"/>
<circle cx="314.3" cy="68.0" r="0.55" fill="#222"/>
<circle cx="299.9" cy="71.7" r="0.55" fill="#222"/>
<circle cx="297.1" cy="70.8" r="0.55" fill="#222"/>
<circle cx="306.6" cy="70.3" r="0.55" fill="#444"/>
<circle cx="311.5" cy="65.9" r="0.55" fill="#444"/>
<circle cx="300.6" cy="65.7" r="0.55" fill="#444"/>
<circle cx="307.2" cy="67.7" r="0.55" fill="#111"/>
<circle cx="297.1" cy="71.0" r="0.55" fill="#666"/>
<circle cx="312.6" cy="64.8" r="0.55" fill="#666"/>
<circle cx="299.9" cy="65.0" r="0.55" fill="#444"/>
<circle cx="305.0" cy="65.6" r="0.55" fill="#444"/>
<circle cx="306.0" cy="66.1" r="0.55" fill="#222"/>
<circle cx="301.9" cy="69.4" r="0.55" fill="#666"/>
<circle cx="301.3" cy="64.7" r="0.55" fill="#222"/>
<circle cx="318.1" cy="68.2" r="0.55" fill="#444"/>
<circle cx="307.5" cy="72.6" r="0.55" fill="#222"/>
<circle cx="312.2" cy="67.4" r="0.55" fill="#666"/>
<circle cx="300.0" cy="69.6" r="0.55" fill="#222"/>
<circle cx="300.8" cy="65.5" r="0.55" fill="#333"/>
<circle cx="315.3" cy="66.9" r="0.55" fill="#222"/>
<circle cx="296.7" cy="68.5" r="0.55" fill="#111"/>
<circle cx="300.4" cy="65.4" r="0.55" fill="#333"/>
<circle cx="313.4" cy="68.3" r="0.55" fill="#444"/>
<circle cx="301.8" cy="64.2" r="0.55" fill="#666"/>
<circle cx="307.0" cy="66.1" r="0.55" fill="#666"/>
<circle cx="313.9" cy="66.8" r="0.55" fill="#111"/>
<circle cx="296.5" cy="69.8" r="0.55" fill="#666"/>
<circle cx="314.3" cy="71.8" r="0.55" fill="#444"/>
<circle cx="300.1" cy="67.8" r="0.55" fill="#222"/>
<circle cx="309.4" cy="64.0" r="0.55" fill="#222"/>
<circle cx="307.4" cy="70.9" r="0.55" fill="#444"/>
<circle cx="310.5" cy="64.4" r="0.55" fill="#333"/>
<circle cx="304.4" cy="71.4" r="0.55" fill="#444"/>
<circle cx="302.9" cy="65.8" r="0.55" fill="#333"/>
<circle cx="304.2" cy="69.8" r="0.55" fill="#111"/>
<circle cx="309.7" cy="63.3" r="0.55" fill="#222"/>
<circle cx="300.1" cy="67.0" r="0.55" fill="#111"/>
<circle cx="306.2" cy="70.4" r="0.55" fill="#666"/>
<circle cx="307.8" cy="69.8" r="0.55" fill="#444"/>
<circle cx="312.5" cy="66.6" r="0.55" fill="#666"/>
<circle cx="303.1" cy="67.2" r="0.55" fill="#111"/>
<circle cx="309.8" cy="63.8" r="0.55" fill="#333"/>
<circle cx="301.9" cy="68.2" r="0.55" fill="#444"/>
<circle cx="313.9" cy="70.5" r="0.55" fill="#444"/>
<circle cx="302.3" cy="68.8" r="0.55" fill="#111"/>
<circle cx="304.4" cy="64.8" r="0.55" fill="#222"/>
<circle cx="312.8" cy="65.4" r="0.55" fill="#111"/>
<circle cx="305.8" cy="66.7" r="0.55" fill="#444"/>
<circle cx="300.0" cy="72.0" r="0.55" fill="#444"/>
<circle cx="312.9" cy="72.9" r="0.55" fill="#333"/>
<circle cx="301.0" cy="66.5" r="0.55" fill="#333"/>
<circle cx="298.1" cy="69.3" r="0.55" fill="#222"/>
<circle cx="305.7" cy="67.8" r="0.55" fill="#333"/>
<circle cx="305.4" cy="69.9" r="0.55" fill="#666"/>
<circle cx="305.5" cy="72.6" r="0.55" fill="#333"/>
<circle cx="310.9" cy="65.3" r="0.55" fill="#333"/>
<circle cx="304.0" cy="71.1" r="0.55" fill="#333"/>
<circle cx="310.7" cy="72.5" r="0.55" fill="#444"/>
<circle cx="303.5" cy="72.5" r="0.55" fill="#333"/>
<circle cx="311.6" cy="69.3" r="0.55" fill="#111"/>
<circle cx="301.2" cy="70.5" r="0.55" fill="#666"/>
<circle cx="309.9" cy="68.3" r="0.55" fill="#222"/>
<circle cx="308.2" cy="63.9" r="0.55" fill="#111"/>
<circle cx="298.2" cy="65.6" r="0.55" fill="#666"/>
<circle cx="305.5" cy="66.6" r="0.55" fill="#111"/>
<circle cx="301.9" cy="69.3" r="0.55" fill="#222"/>
<circle cx="310.7" cy="68.6" r="0.55" fill="#111"/>
<circle cx="299.5" cy="72.5" r="0.55" fill="#222"/>
<circle cx="307.1" cy="72.9" r="0.55" fill="#333"/>
<circle cx="311.8" cy="68.4" r="0.55" fill="#666"/>
<circle cx="317.6" cy="69.4" r="0.55" fill="#666"/>
<circle cx="308.6" cy="64.4" r="0.55" fill="#444"/>
<circle cx="297.9" cy="70.3" r="0.55" fill="#111"/>
<circle cx="317.5" cy="67.7" r="0.55" fill="#222"/>
<circle cx="313.9" cy="70.1" r="0.55" fill="#444"/>
<circle cx="312.3" cy="68.4" r="0.55" fill="#111"/>
<circle cx="308.6" cy="68.3" r="0.55" fill="#111"/>
<circle cx="302.6" cy="69.0" r="0.55" fill="#333"/>
<circle cx="306.2" cy="64.6" r="0.55" fill="#222"/>
<circle cx="307.0" cy="63.8" r="0.55" fill="#222"/>
<circle cx="301.1" cy="66.0" r="0.55" fill="#444"/>
<circle cx="307.4" cy="72.2" r="0.55" fill="#111"/>
<g filter="url(#bl)"><polygon points="320.5,99.8 320.1,101.8 320.5,102.8 320.0,103.7 319.7,104.5 319.7,104.8 319.3,105.6 318.9,106.1 318.3,106.6 317.9,106.9 317.4,107.2 316.6,107.7 316.1,107.9 315.1,107.9 314.0,108.5 313.1,108.5 311.6,108.5 310.1,108.7 306.3,108.4 302.6,108.7 300.9,108.5 299.6,108.6 298.4,108.1 297.7,107.9 296.7,107.8 295.8,107.7 295.4,107.4 294.5,107.0 294.1,106.4 293.5,106.2 293.2,105.7 293.0,104.8 292.6,104.5 292.6,103.7 292.1,102.8 292.2,101.8 292.2,99.8 292.4,97.8 292.2,96.8 292.7,95.9 292.5,95.3 292.9,94.5 293.1,94.1 293.7,93.5 294.3,93.3 294.8,92.6 295.3,92.4 296.0,92.1 296.8,92.1 297.3,91.7 298.6,91.3 299.5,91.5 300.9,91.3 302.6,91.4 306.3,90.8 310.0,91.1 311.7,91.3 313.1,91.3 314.3,91.3 315.2,91.3 315.8,92.1 316.6,92.3 317.2,92.6 318.0,92.6 318.5,92.9 319.1,93.8 319.4,94.1 319.5,94.4 319.8,95.2 320.2,95.8 320.4,96.8 320.3,97.8" fill="#787878"/>
<ellipse cx="306.3" cy="100.6" rx="7.8" ry="3.9" fill="#848484"/></g>
<circle cx="298.5" cy="91.8" r="0.5" fill="#6e6e6e"/>
<circle cx="307.8" cy="91.6" r="0.5" fill="#666"/>
<circle cx="299.5" cy="100.0" r="0.5" fill="#8a8a8a"/>
<circle cx="310.4" cy="108.2" r="0.5" fill="#666"/>
<circle cx="295.0" cy="96.6" r="0.5" fill="#666"/>
<circle cx="318.7" cy="102.9" r="0.5" fill="#6e6e6e"/>
<circle cx="308.8" cy="98.8" r="0.5" fill="#8a8a8a"/>
<circle cx="295.2" cy="96.7" r="0.5" fill="#6e6e6e"/>
<circle cx="303.2" cy="97.6" r="0.5" fill="#6e6e6e"/>
<circle cx="297.0" cy="95.2" r="0.5" fill="#666"/>
<circle cx="318.0" cy="106.6" r="0.5" fill="#6e6e6e"/>
<circle cx="312.4" cy="94.5" r="0.5" fill="#666"/>
<circle cx="296.6" cy="105.6" r="0.5" fill="#666"/>
<circle cx="318.5" cy="106.2" r="0.5" fill="#8a8a8a"/>
<circle cx="296.1" cy="98.9" r="0.5" fill="#666"/>
<circle cx="318.3" cy="97.8" r="0.5" fill="#666"/>
<circle cx="309.9" cy="99.0" r="0.5" fill="#6e6e6e"/>
<circle cx="301.3" cy="95.2" r="0.5" fill="#666"/>
<circle cx="309.9" cy="93.6" r="0.5" fill="#666"/>
<circle cx="313.0" cy="94.2" r="0.5" fill="#6e6e6e"/>
<circle cx="307.8" cy="93.6" r="0.5" fill="#666"/>
<circle cx="299.7" cy="98.3" r="0.5" fill="#666"/>
<circle cx="292.9" cy="101.0" r="0.5" fill="#6e6e6e"/>
<circle cx="301.6" cy="94.0" r="0.5" fill="#6e6e6e"/>
<circle cx="295.3" cy="99.0" r="0.5" fill="#6e6e6e"/>
<circle cx="311.0" cy="94.8" r="0.5" fill="#6e6e6e"/>
<circle cx="315.8" cy="93.2" r="0.5" fill="#666"/>
<circle cx="319.6" cy="98.6" r="0.5" fill="#6e6e6e"/>
<circle cx="295.0" cy="96.1" r="0.5" fill="#666"/>
<circle cx="293.8" cy="103.7" r="0.5" fill="#6e6e6e"/>
<circle cx="296.3" cy="102.2" r="0.5" fill="#6e6e6e"/>
<circle cx="315.0" cy="97.0" r="0.5" fill="#666"/>
<circle cx="304.7" cy="104.8" r="0.5" fill="#8a8a8a"/>
<circle cx="300.3" cy="97.4" r="0.5" fill="#666"/>
<circle cx="317.9" cy="94.9" r="0.5" fill="#8a8a8a"/>
<circle cx="297.3" cy="105.8" r="0.5" fill="#8a8a8a"/>
<circle cx="313.9" cy="103.5" r="0.5" fill="#666"/>
<circle cx="309.1" cy="105.5" r="0.5" fill="#8a8a8a"/>
<circle cx="312.8" cy="104.3" r="0.5" fill="#666"/>
<circle cx="298.0" cy="101.8" r="0.5" fill="#8a8a8a"/>
<circle cx="309.9" cy="94.4" r="0.5" fill="#6e6e6e"/>
<circle cx="297.9" cy="92.2" r="0.5" fill="#8a8a8a"/>
<circle cx="306.9" cy="105.7" r="0.5" fill="#666"/>
<circle cx="306.8" cy="97.1" r="0.5" fill="#6e6e6e"/>
<circle cx="315.9" cy="106.1" r="0.5" fill="#6e6e6e"/>
<circle cx="294.7" cy="98.2" r="0.5" fill="#6e6e6e"/>
<circle cx="296.0" cy="102.7" r="0.5" fill="#666"/>
<circle cx="297.4" cy="105.6" r="0.5" fill="#6e6e6e"/>
<circle cx="293.2" cy="103.3" r="0.5" fill="#8a8a8a"/>
<circle cx="309.0" cy="91.2" r="0.5" fill="#8a8a8a"/>
<circle cx="294.2" cy="97.3" r="0.5" fill="#666"/>
<circle cx="315.2" cy="106.2" r="0.5" fill="#6e6e6e"/>
<circle cx="314.2" cy="106.2" r="0.5" fill="#8a8a8a"/>
<circle cx="313.4" cy="92.2" r="0.5" fill="#666"/>
<circle cx="319.1" cy="99.7" r="0.5" fill="#8a8a8a"/>
<circle cx="296.0" cy="95.3" r="0.5" fill="#666"/>
<circle cx="298.5" cy="94.3" r="0.5" fill="#666"/>
<circle cx="301.0" cy="100.8" r="0.5" fill="#666"/>
<circle cx="313.0" cy="95.6" r="0.5" fill="#8a8a8a"/>
<circle cx="310.2" cy="99.2" r="0.5" fill="#666"/>
<circle cx="312.0" cy="92.9" r="0.5" fill="#666"/>
<circle cx="312.4" cy="91.9" r="0.5" fill="#666"/>
<circle cx="305.3" cy="101.3" r="0.5" fill="#6e6e6e"/>
<circle cx="295.3" cy="93.2" r="0.5" fill="#666"/>
<circle cx="307.5" cy="95.1" r="0.5" fill="#666"/>
<circle cx="296.4" cy="101.1" r="0.5" fill="#8a8a8a"/>
<circle cx="303.4" cy="107.6" r="0.5" fill="#666"/>
<circle cx="318.6" cy="97.9" r="0.5" fill="#6e6e6e"/>
<circle cx="309.0" cy="101.6" r="0.5" fill="#666"/>
<circle cx="303.4" cy="107.5" r="0.5" fill="#6e6e6e"/>
<circle cx="301.7" cy="95.3" r="0.5" fill="#6e6e6e"/>
<circle cx="312.4" cy="105.8" r="0.5" fill="#8a8a8a"/>
<circle cx="314.9" cy="107.0" r="0.5" fill="#6e6e6e"/>
<circle cx="316.1" cy="92.0" r="0.5" fill="#8a8a8a"/>
<circle cx="296.3" cy="102.9" r="0.5" fill="#6e6e6e"/>
<circle cx="299.2" cy="98.4" r="0.5" fill="#8a8a8a"/>
<circle cx="297.5" cy="96.7" r="0.5" fill="#666"/>
<circle cx="306.4" cy="91.5" r="0.5" fill="#666"/>
<circle cx="304.1" cy="98.0" r="0.5" fill="#6e6e6e"/>
<circle cx="310.1" cy="105.2" r="0.5" fill="#666"/>
<circle cx="293.2" cy="102.3" r="0.5" fill="#6e6e6e"/>
<circle cx="318.1" cy="101.9" r="0.5" fill="#8a8a8a"/>
<circle cx="307.5" cy="107.2" r="0.5" fill="#8a8a8a"/>
<circle cx="295.0" cy="93.2" r="0.5" fill="#666"/>
<circle cx="304.4" cy="107.6" r="0.5" fill="#6e6e6e"/>
<circle cx="295.4" cy="97.1" r="0.5" fill="#666"/>
<circle cx="295.6" cy="101.4" r="0.5" fill="#8a8a8a"/>
<circle cx="317.6" cy="92.6" r="0.5" fill="#8a8a8a"/>
<circle cx="307.3" cy="93.7" r="0.5" fill="#666"/>
<circle cx="306.6" cy="106.5" r="0.5" fill="#6e6e6e"/>
<circle cx="308.5" cy="95.9" r="0.5" fill="#8a8a8a"/>
<circle cx="294.7" cy="100.6" r="0.5" fill="#6e6e6e"/>
<circle cx="309.4" cy="101.0" r="0.5" fill="#8a8a8a"/>
<circle cx="303.1" cy="100.6" r="0.5" fill="#6e6e6e"/>
<circle cx="305.2" cy="100.6" r="0.5" fill="#8a8a8a"/>
<circle cx="305.7" cy="105.3" r="0.5" fill="#666"/>
<circle cx="299.0" cy="95.0" r="0.5" fill="#8a8a8a"/>
<circle cx="307.6" cy="108.0" r="0.5" fill="#6e6e6e"/>
<circle cx="292.5" cy="97.2" r="0.5" fill="#666"/>
<circle cx="301.3" cy="96.8" r="0.5" fill="#6e6e6e"/>
<circle cx="300.2" cy="108.3" r="0.5" fill="#6e6e6e"/>
<circle cx="307.7" cy="101.6" r="0.5" fill="#6e6e6e"/>
<circle cx="304.6" cy="92.2" r="0.5" fill="#6e6e6e"/>
<circle cx="315.7" cy="97.3" r="0.5" fill="#666"/>
<circle cx="306.9" cy="108.3" r="0.5" fill="#8a8a8a"/>
<circle cx="313.0" cy="93.8" r="0.5" fill="#6e6e6e"/>
<circle cx="311.0" cy="93.5" r="0.5" fill="#666"/>
<circle cx="309.6" cy="105.9" r="0.5" fill="#8a8a8a"/>
<circle cx="294.9" cy="106.0" r="0.5" fill="#6e6e6e"/>
<circle cx="299.8" cy="102.1" r="0.5" fill="#8a8a8a"/>
<circle cx="318.0" cy="93.3" r="0.5" fill="#666"/>
<circle cx="308.7" cy="99.8" r="0.5" fill="#8a8a8a"/>
<circle cx="296.4" cy="105.9" r="0.5" fill="#6e6e6e"/>
<circle cx="316.8" cy="101.7" r="0.5" fill="#6e6e6e"/>
<circle cx="316.2" cy="103.2" r="0.5" fill="#6e6e6e"/>
<circle cx="312.6" cy="96.2" r="0.5" fill="#6e6e6e"/>
<circle cx="307.0" cy="101.5" r="0.5" fill="#8a8a8a"/>
<circle cx="301.3" cy="104.8" r="0.5" fill="#6e6e6e"/>
<circle cx="302.9" cy="96.3" r="0.5" fill="#8a8a8a"/>
<circle cx="300.8" cy="93.6" r="0.5" fill="#8a8a8a"/>
<circle cx="302.8" cy="95.1" r="0.5" fill="#6e6e6e"/>
<circle cx="301.3" cy="105.8" r="0.5" fill="#666"/>
<circle cx="319.2" cy="94.7" r="0.5" fill="#6e6e6e"/>
<circle cx="292.9" cy="95.6" r="0.5" fill="#6e6e6e"/>
<circle cx="300.7" cy="100.4" r="0.5" fill="#6e6e6e"/>
<circle cx="307.4" cy="108.5" r="0.5" fill="#8a8a8a"/>
<circle cx="315.5" cy="103.8" r="0.5" fill="#6e6e6e"/>
<circle cx="303.2" cy="97.3" r="0.5" fill="#8a8a8a"/>
<circle cx="311.3" cy="99.0" r="0.5" fill="#666"/>
<circle cx="311.3" cy="100.2" r="0.5" fill="#666"/>
<circle cx="303.7" cy="99.8" r="0.5" fill="#8a8a8a"/>
<circle cx="308.0" cy="101.1" r="0.5" fill="#666"/>
<circle cx="319.4" cy="99.6" r="0.5" fill="#6e6e6e"/>
<circle cx="313.8" cy="106.7" r="0.5" fill="#8a8a8a"/>
<circle cx="301.9" cy="100.3" r="0.5" fill="#666"/>
<circle cx="297.0" cy="96.6" r="0.5" fill="#666"/>
<circle cx="315.5" cy="100.0" r="0.5" fill="#666"/>
<circle cx="310.7" cy="96.2" r="0.5" fill="#6e6e6e"/>
<circle cx="317.2" cy="98.4" r="0.5" fill="#666"/>
<circle cx="307.0" cy="105.3" r="0.5" fill="#666"/>
<circle cx="306.4" cy="94.4" r="0.5" fill="#666"/>
<circle cx="293.9" cy="100.9" r="0.5" fill="#666"/>
<circle cx="302.2" cy="108.4" r="0.5" fill="#8a8a8a"/>
<circle cx="312.6" cy="103.1" r="0.5" fill="#666"/>
<circle cx="314.4" cy="96.4" r="0.5" fill="#8a8a8a"/>
<circle cx="307.8" cy="107.1" r="0.5" fill="#6e6e6e"/>
<circle cx="315.9" cy="101.3" r="0.5" fill="#8a8a8a"/>
<circle cx="319.5" cy="102.8" r="0.45" fill="#5a5a5a"/>
<circle cx="310.7" cy="91.1" r="0.45" fill="#5a5a5a"/>
<circle cx="318.4" cy="92.2" r="0.45" fill="#5a5a5a"/>
<circle cx="293.1" cy="97.9" r="0.45" fill="#5a5a5a"/>
<circle cx="313.9" cy="108.3" r="0.45" fill="#5a5a5a"/>
<circle cx="317.0" cy="107.3" r="0.45" fill="#5a5a5a"/>
<circle cx="293.3" cy="98.3" r="0.45" fill="#5a5a5a"/>
<circle cx="320.3" cy="105.6" r="0.45" fill="#5a5a5a"/>
<circle cx="292.4" cy="101.4" r="0.45" fill="#5a5a5a"/>
<circle cx="292.4" cy="105.2" r="0.45" fill="#5a5a5a"/>
<circle cx="295.5" cy="92.0" r="0.45" fill="#5a5a5a"/>
<circle cx="293.9" cy="94.6" r="0.45" fill="#5a5a5a"/>
<circle cx="309.5" cy="108.1" r="0.45" fill="#5a5a5a"/>
<circle cx="320.4" cy="103.2" r="0.45" fill="#5a5a5a"/>
<circle cx="318.0" cy="91.9" r="0.45" fill="#5a5a5a"/>
<circle cx="319.1" cy="104.5" r="0.45" fill="#5a5a5a"/>
<circle cx="295.5" cy="93.3" r="0.45" fill="#5a5a5a"/>
<circle cx="311.8" cy="108.2" r="0.45" fill="#5a5a5a"/>
<circle cx="309.7" cy="91.8" r="0.45" fill="#5a5a5a"/>
<circle cx="319.3" cy="104.1" r="0.45" fill="#5a5a5a"/>
<circle cx="311.3" cy="107.9" r="0.45" fill="#5a5a5a"/>
<circle cx="294.1" cy="94.2" r="0.45" fill="#5a5a5a"/>
<circle cx="321.1" cy="101.1" r="0.45" fill="#5a5a5a"/>
<circle cx="292.7" cy="103.8" r="0.45" fill="#5a5a5a"/>
<circle cx="305.0" cy="109.0" r="0.45" fill="#5a5a5a"/>
<circle cx="319.4" cy="97.4" r="0.45" fill="#5a5a5a"/>
<circle cx="297.1" cy="91.5" r="0.45" fill="#5a5a5a"/>
<circle cx="293.5" cy="94.1" r="0.45" fill="#5a5a5a"/>
<circle cx="293.5" cy="106.3" r="0.45" fill="#5a5a5a"/>
<circle cx="321.0" cy="102.6" r="0.45" fill="#5a5a5a"/>
<circle cx="318.5" cy="105.4" r="0.45" fill="#5a5a5a"/>
<circle cx="295.4" cy="106.2" r="0.45" fill="#5a5a5a"/>
<circle cx="318.0" cy="93.1" r="0.45" fill="#5a5a5a"/>
<circle cx="295.5" cy="107.0" r="0.45" fill="#5a5a5a"/>
<circle cx="317.5" cy="92.9" r="0.45" fill="#5a5a5a"/>
<circle cx="295.2" cy="91.6" r="0.45" fill="#5a5a5a"/>
<circle cx="292.4" cy="105.6" r="0.45" fill="#5a5a5a"/>
<circle cx="292.9" cy="95.4" r="0.45" fill="#5a5a5a"/>
<circle cx="292.8" cy="103.1" r="0.45" fill="#5a5a5a"/>
<circle cx="293.4" cy="104.6" r="0.45" fill="#5a5a5a"/>
<circle cx="320.9" cy="102.8" r="0.45" fill="#5a5a5a"/>
<circle cx="308.9" cy="108.0" r="0.45" fill="#5a5a5a"/>
<circle cx="314.0" cy="108.2" r="0.45" fill="#5a5a5a"/>
<circle cx="312.7" cy="91.2" r="0.45" fill="#5a5a5a"/>
<circle cx="291.8" cy="103.3" r="0.45" fill="#5a5a5a"/>
<circle cx="309.3" cy="108.3" r="0.45" fill="#5a5a5a"/>
<circle cx="312.1" cy="108.2" r="0.45" fill="#5a5a5a"/>
<circle cx="294.7" cy="92.6" r="0.45" fill="#5a5a5a"/>
<circle cx="299.2" cy="108.2" r="0.45" fill="#5a5a5a"/>
<circle cx="313.7" cy="108.7" r="0.45" fill="#5a5a5a"/>
<circle cx="296.6" cy="91.2" r="0.45" fill="#5a5a5a"/>
<circle cx="320.5" cy="99.1" r="0.45" fill="#5a5a5a"/>
<circle cx="291.8" cy="104.9" r="0.45" fill="#5a5a5a"/>
<circle cx="292.7" cy="96.4" r="0.45" fill="#5a5a5a"/>
<circle cx="293.1" cy="98.2" r="0.45" fill="#5a5a5a"/>
<circle cx="307.0" cy="90.9" r="0.45" fill="#5a5a5a"/>
<circle cx="319.7" cy="106.1" r="0.45" fill="#5a5a5a"/>
<circle cx="302.5" cy="90.8" r="0.45" fill="#5a5a5a"/>
<circle cx="320.7" cy="103.0" r="0.45" fill="#5a5a5a"/>
<circle cx="316.2" cy="106.8" r="0.45" fill="#5a5a5a"/>
<circle cx="299.6" cy="91.1" r="0.45" fill="#5a5a5a"/>
<circle cx="311.3" cy="91.6" r="0.45" fill="#5a5a5a"/>
<circle cx="315.0" cy="108.6" r="0.45" fill="#5a5a5a"/>
<circle cx="320.5" cy="105.2" r="0.45" fill="#5a5a5a"/>
<circle cx="314.4" cy="91.1" r="0.45" fill="#5a5a5a"/>
<circle cx="314.5" cy="108.4" r="0.45" fill="#5a5a5a"/>
<circle cx="318.7" cy="105.5" r="0.45" fill="#5a5a5a"/>
<circle cx="314.7" cy="91.7" r="0.45" fill="#5a5a5a"/>
<circle cx="295.0" cy="107.7" r="0.45" fill="#5a5a5a"/>
<circle cx="292.2" cy="103.4" r="0.45" fill="#5a5a5a"/>
<circle cx="294.2" cy="92.3" r="0.45" fill="#5a5a5a"/>
<circle cx="319.1" cy="95.1" r="0.45" fill="#5a5a5a"/>
<circle cx="294.5" cy="107.4" r="0.45" fill="#5a5a5a"/>
<circle cx="297.8" cy="91.0" r="0.45" fill="#5a5a5a"/>
<circle cx="320.7" cy="102.7" r="0.45" fill="#5a5a5a"/>
<circle cx="291.4" cy="103.7" r="0.45" fill="#5a5a5a"/>
<circle cx="293.0" cy="106.5" r="0.45" fill="#5a5a5a"/>
<circle cx="318.5" cy="105.8" r="0.45" fill="#5a5a5a"/>
<circle cx="301.6" cy="108.6" r="0.45" fill="#5a5a5a"/>
<circle cx="312.1" cy="108.6" r="0.45" fill="#5a5a5a"/>
<circle cx="293.5" cy="106.0" r="0.45" fill="#5a5a5a"/>
<circle cx="292.5" cy="105.2" r="0.45" fill="#5a5a5a"/>
<circle cx="316.8" cy="107.8" r="0.45" fill="#5a5a5a"/>
<circle cx="292.4" cy="95.3" r="0.45" fill="#5a5a5a"/>
<circle cx="319.9" cy="95.1" r="0.45" fill="#5a5a5a"/>
<circle cx="311.1" cy="108.4" r="0.45" fill="#5a5a5a"/>
<circle cx="291.4" cy="97.1" r="0.45" fill="#5a5a5a"/>
<circle cx="296.8" cy="91.7" r="0.45" fill="#5a5a5a"/>
<circle cx="318.9" cy="95.1" r="0.45" fill="#5a5a5a"/>
<circle cx="310.0" cy="91.0" r="0.45" fill="#5a5a5a"/>
<circle cx="319.5" cy="93.2" r="0.45" fill="#5a5a5a"/>
<circle cx="293.0" cy="93.9" r="0.45" fill="#5a5a5a"/>
<circle cx="320.6" cy="96.8" r="0.45" fill="#5a5a5a"/>
<circle cx="319.7" cy="103.3" r="0.45" fill="#5a5a5a"/>
<circle cx="311.5" cy="91.4" r="0.45" fill="#5a5a5a"/>
<circle cx="319.0" cy="94.1" r="0.45" fill="#5a5a5a"/>
<circle cx="303.8" cy="90.5" r="0.45" fill="#5a5a5a"/>
<circle cx="294.8" cy="93.3" r="0.45" fill="#5a5a5a"/>
<circle cx="292.7" cy="96.9" r="0.45" fill="#5a5a5a"/>
<circle cx="319.8" cy="95.5" r="0.45" fill="#5a5a5a"/>
<circle cx="296.3" cy="107.6" r="0.45" fill="#5a5a5a"/>
<circle cx="297.7" cy="91.1" r="0.45" fill="#5a5a5a"/>
<circle cx="294.7" cy="92.7" r="0.45" fill="#5a5a5a"/>
<circle cx="297.7" cy="92.1" r="0.45" fill="#5a5a5a"/>
<circle cx="296.6" cy="91.3" r="0.45" fill="#5a5a5a"/>
<circle cx="311.7" cy="91.2" r="0.45" fill="#5a5a5a"/>
<circle cx="315.0" cy="108.6" r="0.45" fill="#5a5a5a"/>
<circle cx="315.5" cy="91.7" r="0.45" fill="#5a5a5a"/>
<circle cx="315.0" cy="107.5" r="0.45" fill="#5a5a5a"/>
<circle cx="311.7" cy="91.6" r="0.45" fill="#5a5a5a"/>
<circle cx="311.7" cy="93.6" r="0.45" fill="#444"/>
<circle cx="306.9" cy="93.7" r="0.45" fill="#555"/>
<circle cx="301.2" cy="92.4" r="0.45" fill="#555"/>
<circle cx="309.5" cy="92.4" r="0.45" fill="#444"/>
<circle cx="307.1" cy="90.2" r="0.45" fill="#555"/>
<circle cx="303.3" cy="91.7" r="0.45" fill="#555"/>
<circle cx="315.9" cy="91.9" r="0.45" fill="#666"/>
<circle cx="307.1" cy="94.4" r="0.45" fill="#444"/>
<circle cx="313.5" cy="91.2" r="0.45" fill="#444"/>
<circle cx="304.8" cy="92.6" r="0.45" fill="#333"/>
<circle cx="305.6" cy="91.7" r="0.45" fill="#444"/>
<circle cx="312.4" cy="92.3" r="0.45" fill="#666"/>
<circle cx="311.9" cy="92.1" r="0.45" fill="#444"/>
<circle cx="306.1" cy="92.6" r="0.45" fill="#555"/>
<circle cx="304.0" cy="94.0" r="0.45" fill="#333"/>
<circle cx="316.3" cy="91.3" r="0.45" fill="#444"/>
<circle cx="308.9" cy="90.2" r="0.45" fill="#333"/>
<circle cx="306.4" cy="94.8" r="0.45" fill="#555"/>
<circle cx="316.4" cy="90.5" r="0.45" fill="#555"/>
<circle cx="307.8" cy="93.1" r="0.45" fill="#444"/>
<circle cx="305.2" cy="93.6" r="0.45" fill="#555"/>
<circle cx="305.0" cy="93.5" r="0.45" fill="#444"/>
<circle cx="305.3" cy="91.7" r="0.45" fill="#666"/>
<circle cx="298.8" cy="92.3" r="0.45" fill="#666"/>
<circle cx="301.5" cy="90.5" r="0.45" fill="#333"/>
<circle cx="311.1" cy="92.9" r="0.45" fill="#666"/>
<circle cx="306.7" cy="92.5" r="0.45" fill="#555"/>
<circle cx="313.2" cy="92.5" r="0.45" fill="#666"/>
<circle cx="311.9" cy="92.5" r="0.45" fill="#666"/>
<circle cx="316.8" cy="92.3" r="0.45" fill="#555"/>
<circle cx="306.7" cy="94.5" r="0.45" fill="#666"/>
<circle cx="300.8" cy="91.1" r="0.45" fill="#666"/>
<circle cx="306.5" cy="92.4" r="0.45" fill="#555"/>
<circle cx="301.2" cy="90.0" r="0.45" fill="#333"/>
<circle cx="304.8" cy="90.3" r="0.45" fill="#666"/>
<circle cx="303.5" cy="90.0" r="0.45" fill="#444"/>
<circle cx="303.1" cy="90.2" r="0.45" fill="#555"/>
<circle cx="307.3" cy="90.9" r="0.45" fill="#555"/>
<circle cx="302.5" cy="91.1" r="0.45" fill="#666"/>
<circle cx="304.1" cy="92.8" r="0.45" fill="#444"/>
<circle cx="311.2" cy="91.7" r="0.45" fill="#333"/>
<circle cx="306.1" cy="91.0" r="0.45" fill="#555"/>
<circle cx="302.6" cy="92.3" r="0.45" fill="#666"/>
<circle cx="312.5" cy="93.1" r="0.45" fill="#333"/>
<circle cx="311.9" cy="89.6" r="0.45" fill="#555"/>
<circle cx="307.0" cy="89.6" r="0.45" fill="#333"/>
<circle cx="300.5" cy="92.0" r="0.45" fill="#666"/>
<circle cx="313.0" cy="94.4" r="0.45" fill="#555"/>
<circle cx="314.0" cy="93.9" r="0.45" fill="#333"/>
<circle cx="314.0" cy="92.6" r="0.45" fill="#555"/>
<circle cx="312.8" cy="93.5" r="0.45" fill="#333"/>
<circle cx="301.3" cy="91.3" r="0.45" fill="#444"/>
<circle cx="306.7" cy="93.2" r="0.45" fill="#333"/>
<circle cx="303.7" cy="93.8" r="0.45" fill="#444"/>
<circle cx="303.5" cy="91.0" r="0.45" fill="#333"/>
<circle cx="304.7" cy="91.2" r="0.45" fill="#333"/>
<circle cx="308.7" cy="95.0" r="0.45" fill="#555"/>
<circle cx="315.8" cy="92.1" r="0.45" fill="#666"/>
<circle cx="311.1" cy="92.7" r="0.45" fill="#444"/>
<circle cx="308.0" cy="93.4" r="0.45" fill="#666"/>
<circle cx="309.0" cy="94.8" r="0.45" fill="#444"/>
<circle cx="304.7" cy="94.1" r="0.45" fill="#555"/>
<circle cx="315.5" cy="92.6" r="0.45" fill="#333"/>
<circle cx="307.3" cy="91.6" r="0.45" fill="#666"/>
<circle cx="305.5" cy="89.5" r="0.45" fill="#666"/>
<circle cx="303.9" cy="90.9" r="0.45" fill="#333"/>
<circle cx="306.8" cy="93.8" r="0.45" fill="#555"/>
<circle cx="312.0" cy="93.8" r="0.45" fill="#444"/>
<circle cx="301.5" cy="92.6" r="0.45" fill="#444"/>
<circle cx="304.0" cy="92.4" r="0.45" fill="#555"/>
<circle cx="310.3" cy="92.2" r="0.45" fill="#333"/>
<circle cx="314.0" cy="94.1" r="0.45" fill="#666"/>
<circle cx="308.6" cy="93.7" r="0.45" fill="#555"/>
<circle cx="301.4" cy="91.3" r="0.45" fill="#333"/>
<circle cx="302.6" cy="90.1" r="0.45" fill="#333"/>
<circle cx="310.5" cy="90.7" r="0.45" fill="#555"/>
<circle cx="309.6" cy="90.0" r="0.45" fill="#444"/>
<circle cx="304.8" cy="93.9" r="0.45" fill="#666"/>
<circle cx="306.2" cy="90.7" r="0.45" fill="#666"/>
<circle cx="311.7" cy="90.1" r="0.45" fill="#444"/>
<circle cx="311.6" cy="91.6" r="0.45" fill="#666"/>
<circle cx="309.8" cy="90.5" r="0.45" fill="#555"/>
<circle cx="307.8" cy="90.3" r="0.45" fill="#444"/>
<circle cx="316.6" cy="91.3" r="0.45" fill="#444"/>
<circle cx="311.1" cy="91.9" r="0.45" fill="#555"/>
<circle cx="304.1" cy="92.5" r="0.45" fill="#666"/>
<circle cx="313.8" cy="89.9" r="0.45" fill="#444"/>
<circle cx="308.6" cy="94.7" r="0.45" fill="#333"/>
<circle cx="309.7" cy="94.7" r="0.45" fill="#333"/>
<circle cx="310.3" cy="93.4" r="0.45" fill="#444"/>
<circle cx="312.0" cy="94.8" r="0.45" fill="#333"/>
<circle cx="317.4" cy="93.6" r="0.45" fill="#444"/>
<circle cx="308.1" cy="94.2" r="0.45" fill="#333"/>
<circle cx="311.0" cy="94.7" r="0.45" fill="#444"/>
<circle cx="301.4" cy="92.4" r="0.45" fill="#444"/>
<circle cx="310.3" cy="91.0" r="0.45" fill="#333"/>
<circle cx="301.9" cy="92.3" r="0.45" fill="#666"/>
<circle cx="313.7" cy="92.3" r="0.45" fill="#444"/>
<circle cx="316.7" cy="93.0" r="0.45" fill="#444"/>
<circle cx="309.8" cy="93.1" r="0.45" fill="#333"/>
<circle cx="306.0" cy="93.5" r="0.45" fill="#555"/>
<circle cx="305.1" cy="94.2" r="0.45" fill="#444"/>
<circle cx="317.3" cy="92.7" r="0.45" fill="#444"/>
<circle cx="306.9" cy="90.0" r="0.45" fill="#444"/>
<circle cx="308.1" cy="93.9" r="0.45" fill="#444"/>
<circle cx="308.5" cy="92.0" r="0.45" fill="#444"/>
<circle cx="305.9" cy="92.9" r="0.45" fill="#333"/>
<circle cx="315.9" cy="94.2" r="0.45" fill="#555"/>
<circle cx="314.9" cy="91.5" r="0.45" fill="#444"/>
<circle cx="315.3" cy="90.2" r="0.45" fill="#555"/>
<circle cx="307.3" cy="90.3" r="0.45" fill="#666"/>
<circle cx="302.8" cy="90.1" r="0.45" fill="#444"/>
<circle cx="311.1" cy="94.7" r="0.45" fill="#333"/>
<circle cx="312.1" cy="92.6" r="0.45" fill="#666"/>
<circle cx="310.0" cy="94.4" r="0.45" fill="#666"/>
<circle cx="315.4" cy="91.5" r="0.45" fill="#555"/>
<circle cx="308.6" cy="91.8" r="0.45" fill="#555"/>
<circle cx="309.2" cy="91.0" r="0.45" fill="#444"/>
<circle cx="310.2" cy="93.9" r="0.45" fill="#555"/>
<circle cx="309.9" cy="90.0" r="0.45" fill="#555"/>
<circle cx="305.1" cy="94.3" r="0.45" fill="#666"/>
<circle cx="305.5" cy="94.4" r="0.45" fill="#666"/>
<circle cx="309.8" cy="91.1" r="0.45" fill="#444"/>
<circle cx="307.0" cy="92.4" r="0.45" fill="#666"/>
<circle cx="306.0" cy="95.1" r="0.45" fill="#333"/>
<circle cx="315.5" cy="91.0" r="0.45" fill="#555"/>
<circle cx="308.3" cy="89.8" r="0.45" fill="#333"/>
<circle cx="302.5" cy="93.6" r="0.45" fill="#666"/>
<circle cx="307.7" cy="90.4" r="0.45" fill="#444"/>
<circle cx="309.8" cy="94.6" r="0.45" fill="#333"/>
<circle cx="309.2" cy="92.7" r="0.45" fill="#666"/>
<circle cx="317.1" cy="92.9" r="0.45" fill="#444"/>
<circle cx="311.1" cy="92.0" r="0.45" fill="#555"/>
<circle cx="310.0" cy="93.9" r="0.45" fill="#555"/>
<circle cx="316.7" cy="92.1" r="0.45" fill="#444"/>
<circle cx="317.8" cy="93.6" r="0.45" fill="#555"/>
<circle cx="310.6" cy="95.1" r="0.45" fill="#333"/>
<circle cx="308.6" cy="93.5" r="0.45" fill="#333"/>
<circle cx="317.1" cy="92.9" r="0.45" fill="#444"/>
<circle cx="313.5" cy="92.6" r="0.45" fill="#666"/>
<circle cx="306.4" cy="90.3" r="0.45" fill="#444"/>
<circle cx="304.0" cy="93.0" r="0.45" fill="#555"/>
<circle cx="304.2" cy="93.1" r="0.45" fill="#555"/>
<circle cx="309.6" cy="95.0" r="0.45" fill="#444"/>
<circle cx="317.4" cy="92.1" r="0.45" fill="#555"/>
<circle cx="304.1" cy="90.8" r="0.45" fill="#333"/>
<circle cx="306.3" cy="90.0" r="0.45" fill="#444"/>
<circle cx="305.2" cy="90.2" r="0.45" fill="#666"/>
<circle cx="308.8" cy="89.9" r="0.45" fill="#666"/>
<circle cx="316.0" cy="92.1" r="0.45" fill="#555"/>
<circle cx="326.6" cy="94.4" r="0.45" fill="#555"/>
<circle cx="326.2" cy="96.7" r="0.45" fill="#555"/>
<circle cx="331.0" cy="101.3" r="0.45" fill="#555"/>
<circle cx="324.1" cy="102.3" r="0.45" fill="#555"/>
<circle cx="325.0" cy="97.6" r="0.45" fill="#555"/>
<circle cx="325.6" cy="94.8" r="0.45" fill="#555"/>
<circle cx="328.4" cy="96.5" r="0.45" fill="#555"/>
<circle cx="324.1" cy="103.5" r="0.45" fill="#555"/>
<circle cx="326.0" cy="96.6" r="0.45" fill="#555"/>
<circle cx="321.6" cy="96.7" r="0.45" fill="#555"/>
<circle cx="325.5" cy="98.5" r="0.45" fill="#555"/>
<circle cx="324.6" cy="96.0" r="0.45" fill="#555"/>
<circle cx="324.9" cy="100.0" r="0.45" fill="#555"/>
<circle cx="321.9" cy="101.4" r="0.45" fill="#555"/>
<circle cx="326.7" cy="101.6" r="0.45" fill="#555"/>
<circle cx="327.3" cy="104.2" r="0.45" fill="#555"/>
<circle cx="326.8" cy="95.5" r="0.45" fill="#555"/>
<circle cx="326.4" cy="97.3" r="0.45" fill="#555"/>
<circle cx="321.1" cy="102.5" r="0.45" fill="#555"/>
<circle cx="322.1" cy="99.7" r="0.45" fill="#555"/>
<circle cx="323.8" cy="96.1" r="0.45" fill="#555"/>
<circle cx="322.0" cy="101.4" r="0.45" fill="#555"/>
<circle cx="346.6" cy="98.3" r="0.45" fill="#555"/>
<circle cx="348.3" cy="97.3" r="0.45" fill="#555"/>
<circle cx="348.9" cy="100.4" r="0.45" fill="#555"/>
<circle cx="354.3" cy="100.2" r="0.45" fill="#555"/>
<circle cx="349.7" cy="97.4" r="0.45" fill="#555"/>
<circle cx="349.6" cy="98.5" r="0.45" fill="#555"/>
<circle cx="353.2" cy="100.0" r="0.45" fill="#555"/>
<circle cx="347.0" cy="96.4" r="0.45" fill="#555"/>
<circle cx="342.9" cy="98.0" r="0.45" fill="#555"/>
<circle cx="349.9" cy="100.8" r="0.45" fill="#555"/>
<circle cx="353.1" cy="98.5" r="0.45" fill="#555"/>
<circle cx="347.1" cy="97.7" r="0.45" fill="#555"/>
<circle cx="341.4" cy="97.4" r="0.45" fill="#555"/>
<circle cx="349.9" cy="99.9" r="0.45" fill="#555"/>
<circle cx="345.5" cy="99.3" r="0.45" fill="#555"/>
<circle cx="348.3" cy="98.5" r="0.45" fill="#555"/>
<circle cx="357.0" cy="101.8" r="0.45" fill="#555"/>
<circle cx="348.2" cy="101.5" r="0.45" fill="#555"/>
<circle cx="355.6" cy="97.1" r="0.45" fill="#555"/>
<circle cx="349.2" cy="98.9" r="0.45" fill="#555"/>
<circle cx="441.0" cy="67.9" r="0.5" fill="#333"/>
<circle cx="441.7" cy="64.5" r="0.5" fill="#111"/>
<circle cx="439.4" cy="64.1" r="0.5" fill="#000"/>
<circle cx="447.8" cy="65.1" r="0.5" fill="#444"/>
<circle cx="441.6" cy="65.8" r="0.5" fill="#000"/>
<circle cx="445.4" cy="63.8" r="0.5" fill="#444"/>
<circle cx="445.8" cy="62.3" r="0.5" fill="#444"/>
<circle cx="443.5" cy="62.5" r="0.5" fill="#000"/>
<circle cx="442.0" cy="68.0" r="0.5" fill="#000"/>
<circle cx="443.6" cy="68.8" r="0.5" fill="#444"/>
<circle cx="446.1" cy="67.7" r="0.5" fill="#000"/>
<circle cx="441.5" cy="65.9" r="0.5" fill="#111"/>
<circle cx="442.2" cy="62.8" r="0.5" fill="#333"/>
<circle cx="442.5" cy="62.8" r="0.5" fill="#444"/>
<circle cx="442.0" cy="67.7" r="0.5" fill="#000"/>
<circle cx="443.6" cy="68.4" r="0.5" fill="#000"/>
<circle cx="442.3" cy="65.3" r="0.5" fill="#000"/>
<circle cx="445.1" cy="62.6" r="0.5" fill="#444"/>
<circle cx="447.5" cy="64.7" r="0.5" fill="#333"/>
<circle cx="442.7" cy="66.3" r="0.5" fill="#333"/>
<circle cx="445.6" cy="66.6" r="0.5" fill="#333"/>
<circle cx="441.7" cy="61.2" r="0.5" fill="#111"/>
<circle cx="446.1" cy="67.1" r="0.5" fill="#000"/>
<circle cx="447.6" cy="65.0" r="0.5" fill="#333"/>
<circle cx="443.7" cy="65.3" r="0.5" fill="#111"/>
<circle cx="440.2" cy="63.9" r="0.5" fill="#444"/>
<circle cx="446.1" cy="67.2" r="0.5" fill="#111"/>
<circle cx="443.4" cy="64.3" r="0.5" fill="#000"/>
<circle cx="444.4" cy="63.0" r="0.5" fill="#444"/>
<circle cx="442.1" cy="64.8" r="0.5" fill="#111"/>
<circle cx="441.8" cy="62.6" r="0.5" fill="#333"/>
<circle cx="447.6" cy="67.2" r="0.5" fill="#111"/>
<circle cx="446.2" cy="67.3" r="0.5" fill="#000"/>
<circle cx="440.9" cy="62.3" r="0.5" fill="#333"/>
<circle cx="441.7" cy="67.5" r="0.5" fill="#000"/>
<circle cx="447.4" cy="67.1" r="0.5" fill="#444"/>
<circle cx="442.1" cy="64.5" r="0.5" fill="#333"/>
<circle cx="444.1" cy="68.8" r="0.5" fill="#333"/>
<circle cx="446.6" cy="66.3" r="0.5" fill="#111"/>
<circle cx="443.2" cy="66.9" r="0.5" fill="#333"/>
<circle cx="446.4" cy="65.3" r="0.5" fill="#444"/>
<circle cx="444.0" cy="66.3" r="0.5" fill="#444"/>
<circle cx="445.8" cy="65.4" r="0.5" fill="#111"/>
<circle cx="439.2" cy="65.8" r="0.5" fill="#333"/>
<circle cx="443.9" cy="62.2" r="0.5" fill="#000"/>
<circle cx="444.3" cy="66.6" r="0.5" fill="#000"/>
<circle cx="443.8" cy="62.9" r="0.5" fill="#111"/>
<circle cx="441.1" cy="64.4" r="0.5" fill="#000"/>
<circle cx="447.6" cy="62.1" r="0.5" fill="#333"/>
<circle cx="443.5" cy="65.4" r="0.5" fill="#111"/>
<circle cx="446.7" cy="65.6" r="0.5" fill="#333"/>
<circle cx="440.7" cy="67.4" r="0.5" fill="#000"/>
<circle cx="440.8" cy="67.1" r="0.5" fill="#000"/>
<circle cx="443.7" cy="65.5" r="0.5" fill="#111"/>
<circle cx="447.5" cy="65.2" r="0.5" fill="#111"/>
<circle cx="447.1" cy="65.4" r="0.5" fill="#000"/>
<circle cx="440.1" cy="66.9" r="0.5" fill="#111"/>
<circle cx="445.1" cy="66.6" r="0.5" fill="#111"/>
<circle cx="447.3" cy="66.0" r="0.5" fill="#444"/>
<circle cx="446.6" cy="64.6" r="0.5" fill="#333"/>
<circle cx="442.8" cy="66.8" r="0.5" fill="#111"/>
<circle cx="441.9" cy="60.5" r="0.5" fill="#111"/>
<circle cx="447.1" cy="62.4" r="0.5" fill="#444"/>
<circle cx="446.7" cy="68.2" r="0.5" fill="#111"/>
<circle cx="444.6" cy="63.6" r="0.5" fill="#000"/>
<circle cx="447.2" cy="65.8" r="0.5" fill="#000"/>
<circle cx="444.9" cy="66.0" r="0.5" fill="#000"/>
<circle cx="443.5" cy="68.2" r="0.5" fill="#000"/>
<circle cx="443.7" cy="64.1" r="0.5" fill="#333"/>
<circle cx="441.8" cy="66.4" r="0.5" fill="#111"/>
<circle cx="444.0" cy="65.2" r="0.5" fill="#444"/>
<circle cx="445.0" cy="65.3" r="0.5" fill="#111"/>
<circle cx="445.8" cy="65.6" r="0.5" fill="#111"/>
<circle cx="441.7" cy="61.2" r="0.5" fill="#000"/>
<circle cx="439.9" cy="67.1" r="0.5" fill="#444"/>
<circle cx="447.4" cy="65.0" r="0.5" fill="#000"/>
<circle cx="444.9" cy="62.8" r="0.5" fill="#444"/>
<circle cx="443.9" cy="66.2" r="0.5" fill="#111"/>
<circle cx="443.5" cy="60.9" r="0.5" fill="#444"/>
<circle cx="445.7" cy="63.6" r="0.5" fill="#000"/>
<circle cx="444.3" cy="60.6" r="0.5" fill="#111"/>
<circle cx="443.9" cy="61.6" r="0.5" fill="#333"/>
<circle cx="441.0" cy="62.5" r="0.5" fill="#000"/>
<circle cx="444.3" cy="63.5" r="0.5" fill="#111"/>
<circle cx="442.0" cy="64.7" r="0.5" fill="#444"/>
<circle cx="446.3" cy="61.5" r="0.5" fill="#000"/>
<circle cx="444.1" cy="61.8" r="0.5" fill="#333"/>
<circle cx="448.3" cy="65.5" r="0.5" fill="#333"/>
<circle cx="441.4" cy="67.8" r="0.5" fill="#333"/>
<circle cx="444.6" cy="64.7" r="0.5" fill="#000"/>
<circle cx="441.6" cy="68.1" r="0.5" fill="#333"/>
<circle cx="445.9" cy="67.2" r="0.5" fill="#333"/>
<circle cx="447.1" cy="64.4" r="0.5" fill="#333"/>
<circle cx="443.5" cy="63.8" r="0.5" fill="#444"/>
<circle cx="445.4" cy="67.4" r="0.5" fill="#111"/>
<circle cx="444.7" cy="61.7" r="0.5" fill="#111"/>
<circle cx="446.5" cy="66.2" r="0.5" fill="#111"/>
<circle cx="442.0" cy="64.0" r="0.5" fill="#444"/>
<circle cx="445.4" cy="62.7" r="0.5" fill="#111"/>
<circle cx="441.8" cy="68.9" r="0.5" fill="#000"/>
<circle cx="444.4" cy="64.8" r="0.5" fill="#444"/>
<circle cx="442.8" cy="61.7" r="0.5" fill="#000"/>
<circle cx="442.8" cy="60.4" r="0.5" fill="#444"/>
<circle cx="444.9" cy="66.4" r="0.5" fill="#444"/>
<circle cx="443.3" cy="65.6" r="0.5" fill="#333"/>
<circle cx="441.8" cy="63.6" r="0.5" fill="#444"/>
<circle cx="449.1" cy="64.8" r="0.5" fill="#444"/>
<circle cx="447.6" cy="64.0" r="0.5" fill="#000"/>
<circle cx="443.2" cy="61.8" r="0.5" fill="#111"/>
<circle cx="448.5" cy="64.2" r="0.5" fill="#333"/>
<circle cx="446.3" cy="63.0" r="0.5" fill="#333"/>
<circle cx="442.5" cy="64.6" r="0.5" fill="#000"/>
<circle cx="440.3" cy="64.0" r="0.5" fill="#333"/>
<circle cx="443.7" cy="61.6" r="0.5" fill="#000"/>
<circle cx="441.5" cy="63.0" r="0.5" fill="#444"/>
<circle cx="443.0" cy="68.2" r="0.5" fill="#333"/>
<circle cx="441.6" cy="65.9" r="0.5" fill="#000"/>
<circle cx="447.6" cy="66.7" r="0.5" fill="#000"/>
<circle cx="445.8" cy="66.0" r="0.5" fill="#333"/>
<circle cx="448.2" cy="62.6" r="0.5" fill="#333"/>
<circle cx="444.1" cy="68.7" r="0.5" fill="#444"/>
<circle cx="442.9" cy="66.1" r="0.5" fill="#000"/>
<circle cx="443.9" cy="68.3" r="0.5" fill="#444"/>
<circle cx="445.6" cy="63.1" r="0.5" fill="#444"/>
<circle cx="446.8" cy="66.6" r="0.5" fill="#333"/>
<circle cx="443.4" cy="64.9" r="0.5" fill="#444"/>
<circle cx="443.0" cy="68.2" r="0.5" fill="#444"/>
<circle cx="441.5" cy="63.5" r="0.5" fill="#333"/>
<circle cx="441.7" cy="65.2" r="0.5" fill="#333"/>
<circle cx="445.0" cy="67.7" r="0.5" fill="#111"/>
<circle cx="448.9" cy="65.9" r="0.5" fill="#444"/>
<circle cx="447.5" cy="61.7" r="0.5" fill="#111"/>
<circle cx="440.6" cy="62.9" r="0.5" fill="#000"/>
<circle cx="447.3" cy="62.3" r="0.5" fill="#333"/>
<circle cx="443.7" cy="67.6" r="0.5" fill="#111"/>
<circle cx="442.9" cy="61.8" r="0.5" fill="#444"/>
<circle cx="448.0" cy="66.7" r="0.5" fill="#333"/>
<circle cx="448.5" cy="65.0" r="0.5" fill="#000"/>
<circle cx="439.9" cy="64.3" r="0.5" fill="#444"/>
<circle cx="444.0" cy="62.6" r="0.5" fill="#111"/>
<circle cx="443.7" cy="63.1" r="0.5" fill="#000"/>
<circle cx="442.5" cy="60.5" r="0.5" fill="#444"/>
<circle cx="442.1" cy="61.9" r="0.5" fill="#444"/>
<circle cx="447.6" cy="65.0" r="0.5" fill="#333"/>
<circle cx="444.2" cy="68.7" r="0.5" fill="#333"/>
<circle cx="444.3" cy="60.6" r="0.5" fill="#333"/>
<circle cx="444.9" cy="65.1" r="0.5" fill="#333"/>
<circle cx="443.8" cy="62.8" r="0.5" fill="#444"/>
<circle cx="442.7" cy="66.1" r="0.5" fill="#000"/>
<circle cx="445.2" cy="65.1" r="0.5" fill="#111"/>
<circle cx="446.7" cy="63.3" r="0.5" fill="#111"/>
<circle cx="445.6" cy="66.6" r="0.5" fill="#000"/>
<circle cx="444.4" cy="62.9" r="0.5" fill="#333"/>
<circle cx="442.0" cy="63.7" r="0.5" fill="#000"/>
<circle cx="441.0" cy="65.7" r="0.5" fill="#444"/>
<circle cx="446.6" cy="63.9" r="0.5" fill="#333"/>
<circle cx="448.2" cy="63.0" r="0.5" fill="#000"/>
<circle cx="441.6" cy="67.4" r="0.5" fill="#444"/>
<circle cx="446.2" cy="65.5" r="0.5" fill="#111"/>
<circle cx="443.4" cy="62.9" r="0.5" fill="#000"/>
<circle cx="442.7" cy="62.7" r="0.5" fill="#111"/>
<circle cx="443.2" cy="61.4" r="0.5" fill="#333"/>
<circle cx="447.3" cy="61.5" r="0.5" fill="#000"/>
<circle cx="445.3" cy="64.5" r="0.5" fill="#333"/>
<circle cx="440.8" cy="64.6" r="0.5" fill="#333"/>
<circle cx="448.6" cy="64.4" r="0.5" fill="#111"/>
<circle cx="448.0" cy="64.2" r="0.5" fill="#444"/>
<circle cx="445.6" cy="61.3" r="0.5" fill="#333"/>
<circle cx="448.0" cy="63.2" r="0.5" fill="#333"/>
<circle cx="444.8" cy="60.9" r="0.5" fill="#111"/>
<circle cx="446.5" cy="61.8" r="0.4" fill="#555"/>
<circle cx="444.0" cy="68.2" r="0.4" fill="#555"/>
<circle cx="440.9" cy="68.7" r="0.4" fill="#555"/>
<circle cx="446.1" cy="64.2" r="0.4" fill="#555"/>
<circle cx="442.9" cy="70.8" r="0.4" fill="#555"/>
<circle cx="438.0" cy="64.3" r="0.4" fill="#555"/>
<circle cx="443.7" cy="63.1" r="0.4" fill="#555"/>
<circle cx="447.0" cy="62.9" r="0.4" fill="#555"/>
<circle cx="445.1" cy="66.2" r="0.4" fill="#555"/>
<circle cx="443.4" cy="61.1" r="0.4" fill="#555"/>
<circle cx="450.3" cy="66.0" r="0.4" fill="#555"/>
<circle cx="445.5" cy="64.8" r="0.4" fill="#555"/>
<circle cx="444.4" cy="62.9" r="0.4" fill="#555"/>
<circle cx="437.0" cy="61.9" r="0.4" fill="#555"/>
<circle cx="446.0" cy="62.7" r="0.4" fill="#555"/>
<circle cx="440.4" cy="63.7" r="0.4" fill="#555"/>
<circle cx="444.9" cy="58.1" r="0.4" fill="#555"/>
<circle cx="446.4" cy="65.1" r="0.4" fill="#555"/>
<circle cx="439.6" cy="70.2" r="0.4" fill="#555"/>
<circle cx="449.9" cy="68.8" r="0.4" fill="#555"/>
<circle cx="447.5" cy="63.8" r="0.4" fill="#555"/>
<circle cx="436.9" cy="61.9" r="0.4" fill="#555"/>
<circle cx="440.9" cy="58.5" r="0.4" fill="#555"/>
<circle cx="444.3" cy="60.9" r="0.4" fill="#555"/>
<circle cx="442.7" cy="58.8" r="0.4" fill="#555"/>
<circle cx="453.0" cy="61.6" r="0.5" fill="#666"/>
<circle cx="454.5" cy="59.9" r="0.5" fill="#888"/>
<circle cx="449.8" cy="63.4" r="0.5" fill="#555"/>
<circle cx="454.9" cy="59.7" r="0.5" fill="#555"/>
<circle cx="452.7" cy="60.6" r="0.5" fill="#555"/>
<circle cx="453.7" cy="64.5" r="0.5" fill="#555"/>
<circle cx="452.3" cy="63.8" r="0.5" fill="#666"/>
<circle cx="447.8" cy="64.4" r="0.5" fill="#888"/>
<circle cx="455.8" cy="64.2" r="0.5" fill="#555"/>
<circle cx="451.1" cy="60.8" r="0.5" fill="#555"/>
<circle cx="453.9" cy="63.9" r="0.5" fill="#888"/>
<circle cx="454.7" cy="61.4" r="0.5" fill="#5a5a5a"/>
<circle cx="453.6" cy="60.0" r="0.5" fill="#888"/>
<circle cx="448.1" cy="64.2" r="0.5" fill="#888"/>
<circle cx="456.6" cy="62.6" r="0.5" fill="#555"/>
<circle cx="448.0" cy="66.1" r="0.5" fill="#555"/>
<circle cx="454.3" cy="64.5" r="0.5" fill="#888"/>
<circle cx="456.4" cy="63.5" r="0.5" fill="#666"/>
<circle cx="450.9" cy="62.8" r="0.5" fill="#555"/>
<circle cx="453.8" cy="59.5" r="0.5" fill="#555"/>
<circle cx="451.8" cy="64.4" r="0.5" fill="#777"/>
<circle cx="454.0" cy="62.1" r="0.5" fill="#666"/>
<circle cx="452.4" cy="63.3" r="0.5" fill="#888"/>
<circle cx="454.3" cy="62.0" r="0.5" fill="#888"/>
<circle cx="451.2" cy="61.1" r="0.5" fill="#555"/>
<circle cx="449.3" cy="60.7" r="0.5" fill="#555"/>
<circle cx="454.8" cy="60.5" r="0.5" fill="#555"/>
<circle cx="449.8" cy="65.0" r="0.5" fill="#666"/>
<circle cx="451.1" cy="65.2" r="0.5" fill="#777"/>
<circle cx="454.3" cy="64.0" r="0.5" fill="#5a5a5a"/>
<circle cx="457.1" cy="60.7" r="0.5" fill="#777"/>
<circle cx="450.1" cy="65.2" r="0.5" fill="#555"/>
<circle cx="450.7" cy="65.7" r="0.5" fill="#777"/>
<circle cx="452.1" cy="63.4" r="0.5" fill="#777"/>
<circle cx="456.7" cy="63.1" r="0.5" fill="#777"/>
<circle cx="455.4" cy="62.6" r="0.5" fill="#555"/>
<circle cx="455.6" cy="60.4" r="0.5" fill="#5a5a5a"/>
<circle cx="451.4" cy="60.0" r="0.5" fill="#555"/>
<circle cx="451.0" cy="61.0" r="0.5" fill="#555"/>
<circle cx="456.1" cy="63.4" r="0.5" fill="#666"/>
<circle cx="455.2" cy="64.4" r="0.5" fill="#777"/>
<circle cx="453.0" cy="65.8" r="0.5" fill="#555"/>
<circle cx="450.5" cy="63.1" r="0.5" fill="#888"/>
<circle cx="449.3" cy="61.6" r="0.5" fill="#777"/>
<circle cx="450.3" cy="63.9" r="0.5" fill="#555"/>
<circle cx="454.7" cy="63.3" r="0.5" fill="#5a5a5a"/>
<circle cx="454.3" cy="60.1" r="0.5" fill="#5a5a5a"/>
<circle cx="451.9" cy="64.7" r="0.5" fill="#5a5a5a"/>
<circle cx="456.0" cy="61.2" r="0.5" fill="#555"/>
<circle cx="451.0" cy="66.9" r="0.5" fill="#666"/>
<circle cx="452.4" cy="63.8" r="0.5" fill="#666"/>
<circle cx="452.5" cy="66.6" r="0.5" fill="#555"/>
<circle cx="456.3" cy="62.8" r="0.5" fill="#888"/>
<circle cx="454.9" cy="62.5" r="0.5" fill="#5a5a5a"/>
<circle cx="450.9" cy="64.7" r="0.5" fill="#555"/>
<circle cx="455.8" cy="62.5" r="0.5" fill="#555"/>
<circle cx="454.6" cy="61.2" r="0.5" fill="#777"/>
<circle cx="455.0" cy="63.7" r="0.5" fill="#777"/>
<circle cx="449.8" cy="62.6" r="0.5" fill="#666"/>
<circle cx="451.0" cy="60.5" r="0.5" fill="#555"/>
<circle cx="453.1" cy="64.4" r="0.5" fill="#5a5a5a"/>
<circle cx="454.8" cy="59.9" r="0.5" fill="#777"/>
<circle cx="448.7" cy="62.3" r="0.5" fill="#777"/>
<circle cx="450.2" cy="64.8" r="0.5" fill="#555"/>
<circle cx="450.2" cy="64.2" r="0.5" fill="#5a5a5a"/>
<circle cx="453.3" cy="63.8" r="0.5" fill="#666"/>
<circle cx="453.9" cy="64.4" r="0.5" fill="#777"/>
<circle cx="454.6" cy="61.2" r="0.5" fill="#888"/>
<circle cx="450.7" cy="64.0" r="0.5" fill="#666"/>
<circle cx="456.1" cy="60.6" r="0.5" fill="#5a5a5a"/>
<circle cx="449.9" cy="64.1" r="0.5" fill="#666"/>
<circle cx="451.4" cy="66.1" r="0.5" fill="#555"/>
<circle cx="453.1" cy="62.3" r="0.5" fill="#5a5a5a"/>
<circle cx="452.4" cy="60.3" r="0.5" fill="#777"/>
<circle cx="452.0" cy="62.2" r="0.5" fill="#555"/>
<circle cx="449.9" cy="64.5" r="0.5" fill="#666"/>
<circle cx="452.5" cy="60.5" r="0.5" fill="#555"/>
<circle cx="456.7" cy="61.7" r="0.5" fill="#666"/>
<circle cx="456.2" cy="63.9" r="0.5" fill="#777"/>
<circle cx="453.9" cy="61.9" r="0.5" fill="#555"/>
<circle cx="455.2" cy="59.8" r="0.5" fill="#666"/>
<circle cx="448.5" cy="65.7" r="0.5" fill="#555"/>
<circle cx="452.2" cy="65.9" r="0.5" fill="#666"/>
<circle cx="451.3" cy="66.6" r="0.5" fill="#666"/>
<circle cx="448.6" cy="61.8" r="0.5" fill="#555"/>
<circle cx="455.3" cy="62.6" r="0.5" fill="#777"/>
<circle cx="447.7" cy="65.5" r="0.5" fill="#666"/>
<circle cx="453.0" cy="60.4" r="0.5" fill="#666"/>
<circle cx="452.5" cy="65.3" r="0.5" fill="#777"/>
<circle cx="451.4" cy="63.9" r="0.5" fill="#555"/>
<circle cx="453.5" cy="65.6" r="0.5" fill="#555"/>
<circle cx="449.8" cy="63.4" r="0.5" fill="#5a5a5a"/>
<circle cx="455.7" cy="63.8" r="0.5" fill="#666"/>
<circle cx="449.3" cy="66.0" r="0.5" fill="#666"/>
<circle cx="451.1" cy="66.8" r="0.5" fill="#555"/>
<circle cx="454.2" cy="63.0" r="0.5" fill="#5a5a5a"/>
<circle cx="447.5" cy="64.2" r="0.5" fill="#666"/>
<circle cx="452.9" cy="66.8" r="0.5" fill="#5a5a5a"/>
<circle cx="452.3" cy="62.1" r="0.5" fill="#555"/>
<circle cx="450.9" cy="60.7" r="0.5" fill="#666"/>
<circle cx="447.7" cy="62.3" r="0.5" fill="#888"/>
<circle cx="447.9" cy="65.3" r="0.5" fill="#888"/>
<circle cx="454.9" cy="60.0" r="0.5" fill="#888"/>
<circle cx="453.3" cy="61.8" r="0.5" fill="#888"/>
<circle cx="455.3" cy="61.0" r="0.5" fill="#666"/>
<circle cx="452.9" cy="65.6" r="0.5" fill="#555"/>
<circle cx="449.4" cy="62.1" r="0.5" fill="#666"/>
<circle cx="456.9" cy="61.1" r="0.5" fill="#5a5a5a"/>
<circle cx="455.0" cy="61.2" r="0.5" fill="#666"/>
<circle cx="455.3" cy="61.3" r="0.5" fill="#5a5a5a"/>
<circle cx="450.1" cy="63.9" r="0.5" fill="#5a5a5a"/>
<circle cx="454.3" cy="66.3" r="0.5" fill="#777"/>
<circle cx="450.5" cy="65.8" r="0.5" fill="#666"/>
<circle cx="456.5" cy="63.3" r="0.5" fill="#888"/>
<circle cx="450.6" cy="64.6" r="0.5" fill="#555"/>
<circle cx="451.1" cy="66.0" r="0.5" fill="#888"/>
<circle cx="449.2" cy="65.6" r="0.5" fill="#666"/>
<circle cx="448.4" cy="61.8" r="0.5" fill="#666"/>
<circle cx="449.3" cy="63.1" r="0.5" fill="#777"/>
<circle cx="447.5" cy="62.8" r="0.5" fill="#888"/>
<circle cx="451.2" cy="60.3" r="0.5" fill="#777"/>
<circle cx="456.0" cy="62.4" r="0.5" fill="#5a5a5a"/>
<circle cx="449.9" cy="64.0" r="0.5" fill="#888"/>
<circle cx="454.5" cy="62.2" r="0.5" fill="#666"/>
<circle cx="453.0" cy="63.7" r="0.5" fill="#666"/>
<circle cx="454.9" cy="61.7" r="0.5" fill="#555"/>
<circle cx="452.7" cy="63.2" r="0.5" fill="#666"/>
<circle cx="450.0" cy="64.1" r="0.5" fill="#777"/>
<circle cx="453.6" cy="61.0" r="0.5" fill="#777"/>
<circle cx="452.8" cy="63.6" r="0.5" fill="#555"/>
<circle cx="453.1" cy="62.6" r="0.5" fill="#666"/>
<circle cx="450.4" cy="67.1" r="0.5" fill="#5a5a5a"/>
<circle cx="454.1" cy="62.2" r="0.5" fill="#555"/>
<circle cx="448.1" cy="66.9" r="0.5" fill="#777"/>
<circle cx="452.1" cy="60.4" r="0.5" fill="#5a5a5a"/>
<circle cx="453.0" cy="63.9" r="0.5" fill="#5a5a5a"/>
<circle cx="454.1" cy="66.0" r="0.5" fill="#555"/>
<circle cx="448.1" cy="66.5" r="0.5" fill="#555"/>
<circle cx="454.3" cy="63.2" r="0.5" fill="#5a5a5a"/>
<circle cx="450.1" cy="65.0" r="0.5" fill="#888"/>
<circle cx="453.1" cy="64.6" r="0.5" fill="#555"/>
<circle cx="450.0" cy="63.0" r="0.5" fill="#5a5a5a"/>
<circle cx="454.6" cy="65.2" r="0.5" fill="#777"/>
<circle cx="457.3" cy="63.8" r="0.5" fill="#555"/>
<circle cx="452.6" cy="61.3" r="0.5" fill="#777"/>
<circle cx="451.7" cy="65.7" r="0.5" fill="#888"/>
<circle cx="451.4" cy="65.4" r="0.5" fill="#666"/>
<circle cx="453.2" cy="61.5" r="0.5" fill="#5a5a5a"/>
<circle cx="452.0" cy="62.7" r="0.5" fill="#888"/>
<circle cx="450.0" cy="62.7" r="0.5" fill="#888"/>
<circle cx="452.9" cy="65.2" r="0.5" fill="#888"/>
<circle cx="449.7" cy="64.6" r="0.5" fill="#5a5a5a"/>
<circle cx="448.1" cy="66.2" r="0.5" fill="#777"/>
<circle cx="448.7" cy="65.6" r="0.5" fill="#777"/>
<circle cx="453.8" cy="61.9" r="0.5" fill="#888"/>
<circle cx="450.2" cy="63.2" r="0.5" fill="#777"/>
<circle cx="448.3" cy="62.2" r="0.5" fill="#777"/>
<circle cx="450.1" cy="65.6" r="0.5" fill="#555"/>
<circle cx="457.1" cy="61.5" r="0.5" fill="#666"/>
<circle cx="451.4" cy="66.3" r="0.5" fill="#888"/>
<circle cx="453.4" cy="65.5" r="0.5" fill="#5a5a5a"/>
<circle cx="450.6" cy="66.7" r="0.5" fill="#555"/>
<circle cx="453.5" cy="62.1" r="0.5" fill="#5a5a5a"/>
<circle cx="447.9" cy="63.5" r="0.5" fill="#777"/>
<circle cx="454.5" cy="65.1" r="0.5" fill="#666"/>
<circle cx="452.3" cy="59.8" r="0.5" fill="#555"/>
<circle cx="454.7" cy="61.9" r="0.5" fill="#666"/>
<circle cx="451.2" cy="67.2" r="0.5" fill="#777"/>
<circle cx="456.8" cy="62.1" r="0.5" fill="#555"/>
<circle cx="457.2" cy="61.0" r="0.5" fill="#777"/>
<circle cx="456.1" cy="60.3" r="0.5" fill="#777"/>
<circle cx="453.3" cy="61.5" r="0.5" fill="#777"/>
<circle cx="450.1" cy="65.5" r="0.5" fill="#777"/>
<circle cx="453.1" cy="62.1" r="0.5" fill="#5a5a5a"/>
<circle cx="453.0" cy="63.7" r="0.5" fill="#666"/>
<circle cx="448.5" cy="62.4" r="0.5" fill="#5a5a5a"/>
<circle cx="453.1" cy="65.1" r="0.5" fill="#777"/>
<circle cx="454.4" cy="60.5" r="0.5" fill="#666"/>
<circle cx="456.7" cy="64.0" r="0.5" fill="#888"/>
<circle cx="453.8" cy="60.5" r="0.5" fill="#888"/>
<circle cx="453.1" cy="60.4" r="0.5" fill="#777"/>
<circle cx="454.6" cy="63.4" r="0.5" fill="#555"/>
<circle cx="449.9" cy="66.6" r="0.5" fill="#888"/>
<circle cx="452.9" cy="63.9" r="0.5" fill="#5a5a5a"/>
<circle cx="448.1" cy="65.6" r="0.5" fill="#5a5a5a"/>
<circle cx="453.9" cy="61.0" r="0.5" fill="#5a5a5a"/>
<circle cx="452.9" cy="61.2" r="0.5" fill="#777"/>
<circle cx="448.4" cy="63.7" r="0.5" fill="#888"/>
<circle cx="453.4" cy="62.7" r="0.5" fill="#666"/>
<circle cx="450.9" cy="65.1" r="0.5" fill="#555"/>
<circle cx="448.0" cy="66.0" r="0.5" fill="#888"/>
<circle cx="449.0" cy="65.9" r="0.5" fill="#555"/>
<circle cx="449.8" cy="64.2" r="0.5" fill="#777"/>
<circle cx="450.2" cy="63.4" r="0.5" fill="#555"/>
<circle cx="454.8" cy="61.9" r="0.5" fill="#5a5a5a"/>
<circle cx="454.3" cy="62.9" r="0.5" fill="#5a5a5a"/>
<circle cx="451.5" cy="65.0" r="0.5" fill="#666"/>
<circle cx="456.1" cy="61.5" r="0.5" fill="#666"/>
<circle cx="453.0" cy="60.3" r="0.5" fill="#666"/>
<circle cx="449.3" cy="64.0" r="0.5" fill="#555"/>
<circle cx="455.7" cy="60.0" r="0.5" fill="#666"/>
<circle cx="453.6" cy="60.1" r="0.5" fill="#666"/>
<circle cx="447.5" cy="64.3" r="0.5" fill="#666"/>
<circle cx="454.1" cy="62.5" r="0.5" fill="#666"/>
<circle cx="452.4" cy="65.8" r="0.5" fill="#5a5a5a"/>
<circle cx="454.7" cy="62.6" r="0.5" fill="#555"/>
<circle cx="456.0" cy="64.6" r="0.5" fill="#666"/>
<circle cx="452.7" cy="60.7" r="0.5" fill="#666"/>
<circle cx="454.6" cy="65.2" r="0.5" fill="#888"/>
<g filter="url(#bl)"><polygon points="448.5,98.8 448.4,100.9 448.1,102.0 448.1,102.8 447.9,103.4 447.9,104.3 447.6,104.8 446.9,105.2 446.4,105.6 446.1,106.1 445.6,106.7 444.7,107.0 444.0,107.0 443.2,107.4 442.3,107.3 441.3,107.4 439.9,107.7 438.4,107.9 434.8,107.8 431.3,107.8 429.6,107.7 428.3,107.4 427.3,107.4 426.5,107.0 425.4,107.0 424.7,107.0 424.1,106.5 423.4,106.1 423.3,105.8 422.6,105.3 422.1,104.8 421.7,104.2 421.8,103.6 421.3,102.7 421.2,102.0 421.1,100.9 421.3,98.8 421.4,96.7 421.5,95.6 421.4,94.9 421.8,93.9 421.7,93.4 422.1,92.9 422.7,92.3 423.3,91.9 423.4,91.6 423.9,91.3 424.9,90.8 425.5,90.3 426.5,90.1 427.4,89.9 428.3,90.3 429.5,90.0 431.2,89.5 434.8,90.1 438.3,89.7 439.9,90.0 441.2,90.0 442.2,89.8 443.4,90.5 444.0,90.5 445.0,90.7 445.3,90.9 445.8,91.5 446.7,91.9 447.0,92.3 447.2,93.0 447.6,93.6 447.8,94.2 448.1,94.7 448.1,95.7 448.2,96.8" fill="#787878"/>
<ellipse cx="434.8" cy="99.6" rx="7.5" ry="4.0" fill="#848484"/></g>
<circle cx="430.9" cy="106.7" r="0.5" fill="#666"/>
<circle cx="431.0" cy="107.4" r="0.5" fill="#6e6e6e"/>
<circle cx="430.0" cy="97.2" r="0.5" fill="#6e6e6e"/>
<circle cx="427.5" cy="107.3" r="0.5" fill="#8a8a8a"/>
<circle cx="440.4" cy="93.0" r="0.5" fill="#666"/>
<circle cx="445.5" cy="104.1" r="0.5" fill="#8a8a8a"/>
<circle cx="441.3" cy="90.9" r="0.5" fill="#8a8a8a"/>
<circle cx="438.1" cy="106.1" r="0.5" fill="#6e6e6e"/>
<circle cx="436.1" cy="105.7" r="0.5" fill="#666"/>
<circle cx="433.5" cy="105.7" r="0.5" fill="#8a8a8a"/>
<circle cx="438.4" cy="101.7" r="0.5" fill="#8a8a8a"/>
<circle cx="446.9" cy="105.3" r="0.5" fill="#8a8a8a"/>
<circle cx="435.2" cy="98.7" r="0.5" fill="#8a8a8a"/>
<circle cx="431.6" cy="102.2" r="0.5" fill="#666"/>
<circle cx="434.8" cy="106.4" r="0.5" fill="#8a8a8a"/>
<circle cx="435.2" cy="89.9" r="0.5" fill="#6e6e6e"/>
<circle cx="432.5" cy="101.8" r="0.5" fill="#8a8a8a"/>
<circle cx="431.6" cy="101.7" r="0.5" fill="#6e6e6e"/>
<circle cx="446.5" cy="100.9" r="0.5" fill="#6e6e6e"/>
<circle cx="445.5" cy="93.2" r="0.5" fill="#666"/>
<circle cx="442.7" cy="104.0" r="0.5" fill="#666"/>
<circle cx="448.1" cy="102.2" r="0.5" fill="#6e6e6e"/>
<circle cx="438.7" cy="99.9" r="0.5" fill="#8a8a8a"/>
<circle cx="430.4" cy="100.1" r="0.5" fill="#8a8a8a"/>
<circle cx="434.5" cy="94.8" r="0.5" fill="#666"/>
<circle cx="434.6" cy="104.7" r="0.5" fill="#666"/>
<circle cx="425.3" cy="103.5" r="0.5" fill="#8a8a8a"/>
<circle cx="432.5" cy="95.1" r="0.5" fill="#8a8a8a"/>
<circle cx="432.8" cy="106.6" r="0.5" fill="#666"/>
<circle cx="437.2" cy="92.2" r="0.5" fill="#6e6e6e"/>
<circle cx="428.7" cy="91.8" r="0.5" fill="#6e6e6e"/>
<circle cx="433.2" cy="102.9" r="0.5" fill="#6e6e6e"/>
<circle cx="423.4" cy="97.9" r="0.5" fill="#6e6e6e"/>
<circle cx="423.9" cy="98.7" r="0.5" fill="#8a8a8a"/>
<circle cx="429.3" cy="91.0" r="0.5" fill="#6e6e6e"/>
<circle cx="428.8" cy="96.5" r="0.5" fill="#8a8a8a"/>
<circle cx="432.8" cy="100.1" r="0.5" fill="#8a8a8a"/>
<circle cx="441.8" cy="98.0" r="0.5" fill="#6e6e6e"/>
<circle cx="432.1" cy="106.9" r="0.5" fill="#6e6e6e"/>
<circle cx="443.9" cy="104.4" r="0.5" fill="#6e6e6e"/>
<circle cx="435.9" cy="103.1" r="0.5" fill="#666"/>
<circle cx="430.8" cy="105.1" r="0.5" fill="#666"/>
<circle cx="428.3" cy="98.9" r="0.5" fill="#6e6e6e"/>
<circle cx="434.2" cy="91.4" r="0.5" fill="#666"/>
<circle cx="427.1" cy="100.6" r="0.5" fill="#8a8a8a"/>
<circle cx="423.4" cy="95.0" r="0.5" fill="#8a8a8a"/>
<circle cx="426.2" cy="92.3" r="0.5" fill="#666"/>
<circle cx="438.7" cy="104.9" r="0.5" fill="#6e6e6e"/>
<circle cx="430.3" cy="92.7" r="0.5" fill="#666"/>
<circle cx="434.1" cy="103.9" r="0.5" fill="#6e6e6e"/>
<circle cx="428.3" cy="90.9" r="0.5" fill="#666"/>
<circle cx="445.9" cy="100.8" r="0.5" fill="#666"/>
<circle cx="438.4" cy="99.4" r="0.5" fill="#6e6e6e"/>
<circle cx="427.0" cy="97.3" r="0.5" fill="#6e6e6e"/>
<circle cx="443.1" cy="102.1" r="0.5" fill="#8a8a8a"/>
<circle cx="431.6" cy="101.5" r="0.5" fill="#6e6e6e"/>
<circle cx="443.6" cy="107.1" r="0.5" fill="#6e6e6e"/>
<circle cx="425.6" cy="102.1" r="0.5" fill="#8a8a8a"/>
<circle cx="429.9" cy="105.8" r="0.5" fill="#666"/>
<circle cx="445.6" cy="98.3" r="0.5" fill="#6e6e6e"/>
<circle cx="436.5" cy="91.6" r="0.5" fill="#6e6e6e"/>
<circle cx="441.9" cy="100.4" r="0.5" fill="#666"/>
<circle cx="430.5" cy="91.5" r="0.5" fill="#6e6e6e"/>
<circle cx="425.0" cy="100.3" r="0.5" fill="#6e6e6e"/>
<circle cx="431.7" cy="99.7" r="0.5" fill="#6e6e6e"/>
<circle cx="442.2" cy="95.5" r="0.5" fill="#6e6e6e"/>
<circle cx="424.6" cy="94.9" r="0.5" fill="#8a8a8a"/>
<circle cx="431.2" cy="103.8" r="0.5" fill="#8a8a8a"/>
<circle cx="440.1" cy="98.5" r="0.5" fill="#8a8a8a"/>
<circle cx="426.6" cy="107.0" r="0.5" fill="#8a8a8a"/>
<circle cx="439.4" cy="96.3" r="0.5" fill="#8a8a8a"/>
<circle cx="426.4" cy="95.1" r="0.5" fill="#8a8a8a"/>
<circle cx="427.8" cy="107.3" r="0.5" fill="#666"/>
<circle cx="432.6" cy="93.6" r="0.5" fill="#666"/>
<circle cx="426.8" cy="98.9" r="0.5" fill="#666"/>
<circle cx="441.7" cy="94.1" r="0.5" fill="#666"/>
<circle cx="439.8" cy="106.5" r="0.5" fill="#666"/>
<circle cx="439.6" cy="102.6" r="0.5" fill="#666"/>
<circle cx="428.5" cy="107.3" r="0.5" fill="#666"/>
<circle cx="447.6" cy="95.4" r="0.5" fill="#8a8a8a"/>
<circle cx="440.1" cy="99.1" r="0.5" fill="#6e6e6e"/>
<circle cx="445.7" cy="100.4" r="0.5" fill="#666"/>
<circle cx="426.1" cy="104.8" r="0.5" fill="#666"/>
<circle cx="426.9" cy="92.0" r="0.5" fill="#8a8a8a"/>
<circle cx="445.1" cy="99.1" r="0.5" fill="#6e6e6e"/>
<circle cx="439.6" cy="96.7" r="0.5" fill="#8a8a8a"/>
<circle cx="421.9" cy="100.5" r="0.5" fill="#8a8a8a"/>
<circle cx="441.5" cy="94.7" r="0.5" fill="#666"/>
<circle cx="432.8" cy="105.5" r="0.5" fill="#666"/>
<circle cx="448.2" cy="101.0" r="0.5" fill="#8a8a8a"/>
<circle cx="431.7" cy="96.5" r="0.5" fill="#6e6e6e"/>
<circle cx="436.2" cy="96.3" r="0.5" fill="#6e6e6e"/>
<circle cx="428.1" cy="92.3" r="0.5" fill="#666"/>
<circle cx="425.3" cy="91.8" r="0.5" fill="#666"/>
<circle cx="425.6" cy="98.9" r="0.5" fill="#8a8a8a"/>
<circle cx="423.8" cy="98.7" r="0.5" fill="#6e6e6e"/>
<circle cx="436.0" cy="90.1" r="0.5" fill="#666"/>
<circle cx="427.6" cy="92.3" r="0.5" fill="#666"/>
<circle cx="427.8" cy="104.6" r="0.5" fill="#666"/>
<circle cx="442.2" cy="104.8" r="0.5" fill="#8a8a8a"/>
<circle cx="431.7" cy="95.8" r="0.5" fill="#666"/>
<circle cx="427.2" cy="101.9" r="0.5" fill="#666"/>
<circle cx="433.5" cy="98.9" r="0.5" fill="#666"/>
<circle cx="437.6" cy="93.1" r="0.5" fill="#666"/>
<circle cx="428.3" cy="103.7" r="0.5" fill="#666"/>
<circle cx="430.4" cy="91.2" r="0.5" fill="#6e6e6e"/>
<circle cx="423.2" cy="103.8" r="0.5" fill="#6e6e6e"/>
<circle cx="427.8" cy="92.6" r="0.5" fill="#6e6e6e"/>
<circle cx="432.9" cy="106.6" r="0.5" fill="#666"/>
<circle cx="440.4" cy="97.5" r="0.5" fill="#666"/>
<circle cx="437.2" cy="98.8" r="0.5" fill="#8a8a8a"/>
<circle cx="438.8" cy="92.6" r="0.5" fill="#8a8a8a"/>
<circle cx="442.7" cy="94.9" r="0.5" fill="#666"/>
<circle cx="430.3" cy="91.6" r="0.5" fill="#8a8a8a"/>
<circle cx="441.5" cy="93.2" r="0.5" fill="#6e6e6e"/>
<circle cx="425.8" cy="101.9" r="0.5" fill="#6e6e6e"/>
<circle cx="428.2" cy="98.0" r="0.5" fill="#666"/>
<circle cx="427.3" cy="97.0" r="0.5" fill="#666"/>
<circle cx="432.3" cy="99.5" r="0.5" fill="#6e6e6e"/>
<circle cx="448.2" cy="95.8" r="0.5" fill="#6e6e6e"/>
<circle cx="439.2" cy="95.7" r="0.5" fill="#666"/>
<circle cx="432.1" cy="102.2" r="0.5" fill="#6e6e6e"/>
<circle cx="422.7" cy="93.3" r="0.5" fill="#6e6e6e"/>
<circle cx="434.9" cy="98.6" r="0.5" fill="#666"/>
<circle cx="436.5" cy="97.9" r="0.5" fill="#666"/>
<circle cx="446.6" cy="104.5" r="0.5" fill="#6e6e6e"/>
<circle cx="424.7" cy="91.0" r="0.5" fill="#6e6e6e"/>
<circle cx="424.7" cy="102.1" r="0.5" fill="#8a8a8a"/>
<circle cx="440.8" cy="104.0" r="0.5" fill="#666"/>
<circle cx="424.3" cy="95.6" r="0.5" fill="#666"/>
<circle cx="427.2" cy="106.9" r="0.5" fill="#6e6e6e"/>
<circle cx="430.7" cy="102.3" r="0.5" fill="#6e6e6e"/>
<circle cx="432.3" cy="104.7" r="0.5" fill="#666"/>
<circle cx="447.8" cy="97.7" r="0.5" fill="#666"/>
<circle cx="424.8" cy="99.6" r="0.5" fill="#6e6e6e"/>
<circle cx="444.7" cy="101.3" r="0.5" fill="#666"/>
<circle cx="439.1" cy="94.5" r="0.5" fill="#666"/>
<circle cx="424.3" cy="96.7" r="0.5" fill="#8a8a8a"/>
<circle cx="427.2" cy="92.6" r="0.5" fill="#6e6e6e"/>
<circle cx="423.5" cy="95.3" r="0.5" fill="#8a8a8a"/>
<circle cx="429.9" cy="106.2" r="0.5" fill="#8a8a8a"/>
<circle cx="444.7" cy="100.4" r="0.5" fill="#8a8a8a"/>
<circle cx="442.6" cy="104.9" r="0.5" fill="#8a8a8a"/>
<circle cx="426.5" cy="99.1" r="0.5" fill="#6e6e6e"/>
<circle cx="441.0" cy="92.1" r="0.5" fill="#6e6e6e"/>
<circle cx="435.1" cy="100.4" r="0.5" fill="#666"/>
<circle cx="438.1" cy="101.7" r="0.5" fill="#666"/>
<circle cx="421.4" cy="97.8" r="0.45" fill="#5a5a5a"/>
<circle cx="425.9" cy="91.0" r="0.45" fill="#5a5a5a"/>
<circle cx="421.9" cy="95.5" r="0.45" fill="#5a5a5a"/>
<circle cx="439.3" cy="89.6" r="0.45" fill="#5a5a5a"/>
<circle cx="440.3" cy="89.9" r="0.45" fill="#5a5a5a"/>
<circle cx="435.7" cy="108.3" r="0.45" fill="#5a5a5a"/>
<circle cx="421.5" cy="97.0" r="0.45" fill="#5a5a5a"/>
<circle cx="428.6" cy="107.5" r="0.45" fill="#5a5a5a"/>
<circle cx="428.1" cy="89.6" r="0.45" fill="#5a5a5a"/>
<circle cx="420.8" cy="101.3" r="0.45" fill="#5a5a5a"/>
<circle cx="440.8" cy="107.5" r="0.45" fill="#5a5a5a"/>
<circle cx="424.6" cy="106.3" r="0.45" fill="#5a5a5a"/>
<circle cx="423.9" cy="106.8" r="0.45" fill="#5a5a5a"/>
<circle cx="431.1" cy="90.3" r="0.45" fill="#5a5a5a"/>
<circle cx="438.8" cy="108.1" r="0.45" fill="#5a5a5a"/>
<circle cx="424.7" cy="90.6" r="0.45" fill="#5a5a5a"/>
<circle cx="423.7" cy="91.0" r="0.45" fill="#5a5a5a"/>
<circle cx="430.5" cy="107.1" r="0.45" fill="#5a5a5a"/>
<circle cx="425.0" cy="105.9" r="0.45" fill="#5a5a5a"/>
<circle cx="448.2" cy="95.0" r="0.45" fill="#5a5a5a"/>
<circle cx="425.1" cy="89.9" r="0.45" fill="#5a5a5a"/>
<circle cx="441.9" cy="90.5" r="0.45" fill="#5a5a5a"/>
<circle cx="425.9" cy="106.5" r="0.45" fill="#5a5a5a"/>
<circle cx="441.8" cy="89.8" r="0.45" fill="#5a5a5a"/>
<circle cx="421.6" cy="100.7" r="0.45" fill="#5a5a5a"/>
<circle cx="430.5" cy="107.7" r="0.45" fill="#5a5a5a"/>
<circle cx="428.3" cy="89.5" r="0.45" fill="#5a5a5a"/>
<circle cx="445.4" cy="90.5" r="0.45" fill="#5a5a5a"/>
<circle cx="422.0" cy="103.7" r="0.45" fill="#5a5a5a"/>
<circle cx="426.1" cy="107.9" r="0.45" fill="#5a5a5a"/>
<circle cx="442.6" cy="106.8" r="0.45" fill="#5a5a5a"/>
<circle cx="429.0" cy="108.2" r="0.45" fill="#5a5a5a"/>
<circle cx="444.8" cy="91.2" r="0.45" fill="#5a5a5a"/>
<circle cx="445.6" cy="90.5" r="0.45" fill="#5a5a5a"/>
<circle cx="422.6" cy="104.0" r="0.45" fill="#5a5a5a"/>
<circle cx="439.3" cy="90.1" r="0.45" fill="#5a5a5a"/>
<circle cx="446.9" cy="106.3" r="0.45" fill="#5a5a5a"/>
<circle cx="422.0" cy="103.7" r="0.45" fill="#5a5a5a"/>
<circle cx="423.1" cy="92.7" r="0.45" fill="#5a5a5a"/>
<circle cx="448.0" cy="101.4" r="0.45" fill="#5a5a5a"/>
<circle cx="424.3" cy="105.4" r="0.45" fill="#5a5a5a"/>
<circle cx="423.3" cy="106.5" r="0.45" fill="#5a5a5a"/>
<circle cx="425.3" cy="107.2" r="0.45" fill="#5a5a5a"/>
<circle cx="424.1" cy="91.9" r="0.45" fill="#5a5a5a"/>
<circle cx="448.6" cy="101.5" r="0.45" fill="#5a5a5a"/>
<circle cx="423.5" cy="92.1" r="0.45" fill="#5a5a5a"/>
<circle cx="442.3" cy="108.0" r="0.45" fill="#5a5a5a"/>
<circle cx="446.6" cy="92.9" r="0.45" fill="#5a5a5a"/>
<circle cx="422.2" cy="92.7" r="0.45" fill="#5a5a5a"/>
<circle cx="426.8" cy="106.6" r="0.45" fill="#5a5a5a"/>
<circle cx="425.8" cy="107.3" r="0.45" fill="#5a5a5a"/>
<circle cx="422.8" cy="92.2" r="0.45" fill="#5a5a5a"/>
<circle cx="445.6" cy="105.7" r="0.45" fill="#5a5a5a"/>
<circle cx="427.0" cy="107.2" r="0.45" fill="#5a5a5a"/>
<circle cx="423.4" cy="106.8" r="0.45" fill="#5a5a5a"/>
<circle cx="447.2" cy="106.3" r="0.45" fill="#5a5a5a"/>
<circle cx="437.8" cy="108.2" r="0.45" fill="#5a5a5a"/>
<circle cx="437.1" cy="107.9" r="0.45" fill="#5a5a5a"/>
<circle cx="424.3" cy="105.5" r="0.45" fill="#5a5a5a"/>
<circle cx="441.9" cy="89.7" r="0.45" fill="#5a5a5a"/>
<circle cx="430.4" cy="108.1" r="0.45" fill="#5a5a5a"/>
<circle cx="420.3" cy="101.6" r="0.45" fill="#5a5a5a"/>
<circle cx="447.7" cy="103.4" r="0.45" fill="#5a5a5a"/>
<circle cx="439.5" cy="107.9" r="0.45" fill="#5a5a5a"/>
<circle cx="440.2" cy="89.5" r="0.45" fill="#5a5a5a"/>
<circle cx="421.8" cy="94.5" r="0.45" fill="#5a5a5a"/>
<circle cx="441.4" cy="90.6" r="0.45" fill="#5a5a5a"/>
<circle cx="431.7" cy="108.1" r="0.45" fill="#5a5a5a"/>
<circle cx="420.8" cy="104.1" r="0.45" fill="#5a5a5a"/>
<circle cx="447.0" cy="105.0" r="0.45" fill="#5a5a5a"/>
<circle cx="440.4" cy="106.9" r="0.45" fill="#5a5a5a"/>
<circle cx="446.3" cy="104.7" r="0.45" fill="#5a5a5a"/>
<circle cx="424.0" cy="106.2" r="0.45" fill="#5a5a5a"/>
<circle cx="421.7" cy="97.4" r="0.45" fill="#5a5a5a"/>
<circle cx="427.8" cy="90.1" r="0.45" fill="#5a5a5a"/>
<circle cx="447.6" cy="96.5" r="0.45" fill="#5a5a5a"/>
<circle cx="421.3" cy="97.0" r="0.45" fill="#5a5a5a"/>
<circle cx="423.1" cy="106.6" r="0.45" fill="#5a5a5a"/>
<circle cx="441.5" cy="108.1" r="0.45" fill="#5a5a5a"/>
<circle cx="424.6" cy="106.3" r="0.45" fill="#5a5a5a"/>
<circle cx="423.1" cy="91.8" r="0.45" fill="#5a5a5a"/>
<circle cx="429.4" cy="107.1" r="0.45" fill="#5a5a5a"/>
<circle cx="447.8" cy="94.7" r="0.45" fill="#5a5a5a"/>
<circle cx="446.6" cy="105.9" r="0.45" fill="#5a5a5a"/>
<circle cx="421.8" cy="95.5" r="0.45" fill="#5a5a5a"/>
<circle cx="425.4" cy="107.5" r="0.45" fill="#5a5a5a"/>
<circle cx="425.4" cy="106.8" r="0.45" fill="#5a5a5a"/>
<circle cx="447.8" cy="94.8" r="0.45" fill="#5a5a5a"/>
<circle cx="423.3" cy="104.9" r="0.45" fill="#5a5a5a"/>
<circle cx="425.1" cy="90.5" r="0.45" fill="#5a5a5a"/>
<circle cx="421.9" cy="103.3" r="0.45" fill="#5a5a5a"/>
<circle cx="439.0" cy="108.1" r="0.45" fill="#5a5a5a"/>
<circle cx="420.9" cy="103.0" r="0.45" fill="#5a5a5a"/>
<circle cx="423.2" cy="106.3" r="0.45" fill="#5a5a5a"/>
<circle cx="447.6" cy="101.9" r="0.45" fill="#5a5a5a"/>
<circle cx="448.5" cy="94.8" r="0.45" fill="#5a5a5a"/>
<circle cx="426.1" cy="90.4" r="0.45" fill="#5a5a5a"/>
<circle cx="422.0" cy="101.8" r="0.45" fill="#5a5a5a"/>
<circle cx="443.9" cy="107.3" r="0.45" fill="#5a5a5a"/>
<circle cx="427.5" cy="90.5" r="0.45" fill="#5a5a5a"/>
<circle cx="425.0" cy="91.5" r="0.45" fill="#5a5a5a"/>
<circle cx="423.8" cy="92.2" r="0.45" fill="#5a5a5a"/>
<circle cx="421.7" cy="97.2" r="0.45" fill="#5a5a5a"/>
<circle cx="422.4" cy="94.6" r="0.45" fill="#5a5a5a"/>
<circle cx="421.1" cy="101.1" r="0.45" fill="#5a5a5a"/>
<circle cx="445.3" cy="106.1" r="0.45" fill="#5a5a5a"/>
<circle cx="426.2" cy="90.3" r="0.45" fill="#5a5a5a"/>
<circle cx="422.8" cy="91.5" r="0.45" fill="#5a5a5a"/>
<circle cx="422.6" cy="93.6" r="0.45" fill="#5a5a5a"/>
<circle cx="421.1" cy="103.8" r="0.45" fill="#5a5a5a"/>
<circle cx="435.5" cy="93.6" r="0.45" fill="#555"/>
<circle cx="443.0" cy="92.6" r="0.45" fill="#333"/>
<circle cx="437.4" cy="91.6" r="0.45" fill="#444"/>
<circle cx="438.2" cy="94.7" r="0.45" fill="#333"/>
<circle cx="436.0" cy="91.8" r="0.45" fill="#333"/>
<circle cx="443.0" cy="93.0" r="0.45" fill="#444"/>
<circle cx="440.7" cy="93.5" r="0.45" fill="#555"/>
<circle cx="444.8" cy="92.4" r="0.45" fill="#555"/>
<circle cx="443.4" cy="92.3" r="0.45" fill="#444"/>
<circle cx="438.5" cy="92.8" r="0.45" fill="#555"/>
<circle cx="442.3" cy="92.8" r="0.45" fill="#333"/>
<circle cx="440.8" cy="89.6" r="0.45" fill="#555"/>
<circle cx="442.8" cy="92.6" r="0.45" fill="#555"/>
<circle cx="441.4" cy="91.5" r="0.45" fill="#444"/>
<circle cx="442.5" cy="90.8" r="0.45" fill="#555"/>
<circle cx="440.2" cy="89.9" r="0.45" fill="#555"/>
<circle cx="440.2" cy="94.6" r="0.45" fill="#555"/>
<circle cx="439.1" cy="94.5" r="0.45" fill="#444"/>
<circle cx="441.6" cy="92.7" r="0.45" fill="#555"/>
<circle cx="432.9" cy="91.8" r="0.45" fill="#444"/>
<circle cx="439.5" cy="90.1" r="0.45" fill="#444"/>
<circle cx="437.0" cy="93.2" r="0.45" fill="#444"/>
<circle cx="442.9" cy="94.3" r="0.45" fill="#333"/>
<circle cx="442.8" cy="91.7" r="0.45" fill="#333"/>
<circle cx="438.1" cy="89.9" r="0.45" fill="#555"/>
<circle cx="438.5" cy="94.2" r="0.45" fill="#555"/>
<circle cx="435.3" cy="93.4" r="0.45" fill="#444"/>
<circle cx="441.0" cy="89.9" r="0.45" fill="#555"/>
<circle cx="435.6" cy="91.5" r="0.45" fill="#444"/>
<circle cx="437.3" cy="89.9" r="0.45" fill="#333"/>
<circle cx="439.9" cy="90.5" r="0.45" fill="#444"/>
<circle cx="441.1" cy="90.5" r="0.45" fill="#444"/>
<circle cx="443.6" cy="93.4" r="0.45" fill="#555"/>
<circle cx="437.8" cy="93.1" r="0.45" fill="#444"/>
<circle cx="442.5" cy="93.9" r="0.45" fill="#333"/>
<circle cx="442.2" cy="94.1" r="0.45" fill="#444"/>
<circle cx="434.3" cy="92.0" r="0.45" fill="#333"/>
<circle cx="439.3" cy="92.4" r="0.45" fill="#333"/>
<circle cx="444.1" cy="93.5" r="0.45" fill="#555"/>
<circle cx="437.9" cy="93.2" r="0.45" fill="#444"/>
<circle cx="441.7" cy="94.0" r="0.45" fill="#555"/>
<circle cx="442.6" cy="92.6" r="0.45" fill="#444"/>
<circle cx="439.0" cy="93.0" r="0.45" fill="#444"/>
<circle cx="434.5" cy="91.1" r="0.45" fill="#333"/>
<circle cx="438.9" cy="93.1" r="0.45" fill="#333"/>
<circle cx="442.0" cy="92.0" r="0.45" fill="#555"/>
<circle cx="441.0" cy="91.2" r="0.45" fill="#555"/>
<circle cx="441.0" cy="92.0" r="0.45" fill="#555"/>
<circle cx="433.5" cy="92.1" r="0.45" fill="#333"/>
<circle cx="444.8" cy="92.5" r="0.45" fill="#555"/>
<circle cx="435.3" cy="93.2" r="0.45" fill="#555"/>
<circle cx="440.6" cy="90.4" r="0.45" fill="#444"/>
<circle cx="439.5" cy="90.3" r="0.45" fill="#555"/>
<circle cx="442.1" cy="91.2" r="0.45" fill="#555"/>
<circle cx="439.6" cy="93.0" r="0.45" fill="#444"/>
<circle cx="431.9" cy="91.8" r="0.45" fill="#333"/>
<circle cx="440.3" cy="91.5" r="0.45" fill="#333"/>
<circle cx="438.5" cy="91.8" r="0.45" fill="#333"/>
<circle cx="437.8" cy="93.5" r="0.45" fill="#444"/>
<circle cx="442.7" cy="93.8" r="0.45" fill="#555"/>
<circle cx="444.5" cy="92.3" r="0.45" fill="#555"/>
<circle cx="439.6" cy="94.2" r="0.45" fill="#333"/>
<circle cx="438.4" cy="93.0" r="0.45" fill="#555"/>
<circle cx="440.3" cy="90.6" r="0.45" fill="#333"/>
<circle cx="441.1" cy="92.0" r="0.45" fill="#555"/>
<circle cx="438.3" cy="92.3" r="0.45" fill="#333"/>
<circle cx="438.7" cy="89.9" r="0.45" fill="#333"/>
<circle cx="436.8" cy="92.1" r="0.45" fill="#555"/>
<circle cx="439.5" cy="93.6" r="0.45" fill="#333"/>
<circle cx="440.9" cy="90.7" r="0.45" fill="#555"/>
<circle cx="447.7" cy="98.5" r="0.4" fill="#666"/>
<circle cx="452.0" cy="95.6" r="0.4" fill="#666"/>
<circle cx="449.5" cy="97.1" r="0.4" fill="#666"/>
<circle cx="451.6" cy="98.2" r="0.4" fill="#666"/>
<circle cx="448.2" cy="101.6" r="0.4" fill="#666"/>
<circle cx="448.6" cy="102.1" r="0.4" fill="#666"/>
<circle cx="451.1" cy="100.5" r="0.4" fill="#666"/>
<circle cx="449.9" cy="104.7" r="0.4" fill="#666"/>
<circle cx="450.8" cy="99.4" r="0.4" fill="#666"/>
<circle cx="453.1" cy="101.0" r="0.4" fill="#666"/>
<circle cx="448.5" cy="94.5" r="0.4" fill="#666"/>
<circle cx="452.5" cy="97.3" r="0.4" fill="#666"/>
<circle cx="450.6" cy="97.6" r="0.4" fill="#666"/>
<circle cx="451.2" cy="96.1" r="0.4" fill="#666"/>
<circle cx="446.4" cy="98.8" r="0.4" fill="#666"/>
<circle cx="451.3" cy="96.3" r="0.4" fill="#666"/>
<circle cx="450.8" cy="97.8" r="0.4" fill="#666"/>
<circle cx="453.1" cy="99.6" r="0.4" fill="#666"/>
<circle cx="447.9" cy="94.8" r="0.4" fill="#666"/>
<circle cx="447.7" cy="97.7" r="0.4" fill="#666"/>
<circle cx="452.1" cy="100.1" r="0.4" fill="#666"/>
<circle cx="452.8" cy="98.4" r="0.4" fill="#666"/>
<circle cx="487.4" cy="98.9" r="0.4" fill="#666"/>
<circle cx="487.4" cy="98.6" r="0.4" fill="#777"/>
<circle cx="486.4" cy="100.6" r="0.4" fill="#777"/>
<circle cx="484.6" cy="99.0" r="0.4" fill="#666"/>
<circle cx="484.6" cy="102.9" r="0.4" fill="#666"/>
<circle cx="483.7" cy="98.4" r="0.4" fill="#777"/>
<circle cx="483.0" cy="99.3" r="0.4" fill="#555"/>
<circle cx="485.7" cy="102.7" r="0.4" fill="#555"/>
<circle cx="484.8" cy="101.7" r="0.4" fill="#777"/>
<circle cx="486.7" cy="98.2" r="0.4" fill="#777"/>
<circle cx="485.4" cy="102.4" r="0.4" fill="#777"/>
<circle cx="486.4" cy="96.5" r="0.4" fill="#666"/>
<circle cx="483.0" cy="98.7" r="0.4" fill="#555"/>
<circle cx="487.7" cy="101.1" r="0.4" fill="#666"/>
<circle cx="484.4" cy="98.6" r="0.4" fill="#555"/>
<circle cx="484.3" cy="97.8" r="0.4" fill="#777"/>
<circle cx="483.2" cy="99.9" r="0.4" fill="#666"/>
<circle cx="487.0" cy="97.9" r="0.4" fill="#777"/>
<circle cx="484.0" cy="101.1" r="0.4" fill="#666"/>
<circle cx="484.7" cy="102.5" r="0.4" fill="#666"/>
<circle cx="486.2" cy="102.0" r="0.4" fill="#555"/>
<circle cx="488.5" cy="99.3" r="0.4" fill="#777"/>
<circle cx="485.1" cy="99.0" r="0.4" fill="#555"/>
<circle cx="486.7" cy="96.5" r="0.4" fill="#777"/>
<circle cx="483.9" cy="102.4" r="0.4" fill="#666"/>
<circle cx="486.4" cy="97.5" r="0.4" fill="#666"/>
<circle cx="486.5" cy="101.7" r="0.4" fill="#666"/>
<circle cx="486.7" cy="97.5" r="0.4" fill="#666"/>
<circle cx="485.5" cy="101.0" r="0.4" fill="#777"/>
<circle cx="487.7" cy="101.1" r="0.4" fill="#555"/>
<circle cx="483.8" cy="100.3" r="0.4" fill="#777"/>
<circle cx="483.9" cy="97.7" r="0.4" fill="#555"/>
<circle cx="484.4" cy="100.2" r="0.4" fill="#555"/>
<circle cx="485.2" cy="99.0" r="0.4" fill="#666"/>
<circle cx="483.3" cy="100.3" r="0.4" fill="#555"/>
<circle cx="488.1" cy="99.3" r="0.4" fill="#555"/>
<circle cx="483.4" cy="97.2" r="0.4" fill="#666"/>
<circle cx="482.6" cy="98.4" r="0.4" fill="#777"/>
<circle cx="485.2" cy="100.9" r="0.4" fill="#777"/>
<circle cx="486.3" cy="99.4" r="0.4" fill="#666"/>
<circle cx="487.5" cy="98.1" r="0.4" fill="#777"/>
<circle cx="487.2" cy="98.4" r="0.4" fill="#777"/>
<circle cx="485.3" cy="101.7" r="0.4" fill="#666"/>
<circle cx="483.7" cy="96.4" r="0.4" fill="#777"/>
<circle cx="482.8" cy="100.2" r="0.4" fill="#666"/>
<circle cx="484.2" cy="98.3" r="0.4" fill="#555"/>
<circle cx="486.5" cy="98.3" r="0.4" fill="#555"/>
<circle cx="484.7" cy="98.2" r="0.4" fill="#555"/>
<circle cx="482.1" cy="100.9" r="0.4" fill="#555"/>
<circle cx="487.4" cy="99.0" r="0.4" fill="#555"/>
<circle cx="487.0" cy="99.9" r="0.4" fill="#777"/>
<circle cx="487.5" cy="101.1" r="0.4" fill="#555"/>
<circle cx="482.7" cy="97.6" r="0.4" fill="#555"/>
<circle cx="483.7" cy="100.6" r="0.4" fill="#555"/>
<circle cx="484.2" cy="102.1" r="0.4" fill="#666"/>
<circle cx="485.8" cy="102.6" r="0.4" fill="#555"/>
<circle cx="485.6" cy="99.0" r="0.4" fill="#777"/>
<circle cx="486.8" cy="96.6" r="0.4" fill="#666"/>
<circle cx="487.0" cy="99.0" r="0.4" fill="#666"/>
<circle cx="486.8" cy="100.3" r="0.4" fill="#666"/>
<circle cx="486.9" cy="100.8" r="0.4" fill="#666"/>
<circle cx="485.6" cy="98.3" r="0.4" fill="#666"/>
<circle cx="484.8" cy="99.6" r="0.4" fill="#777"/>
<circle cx="484.9" cy="98.8" r="0.4" fill="#777"/>
<circle cx="483.2" cy="99.9" r="0.4" fill="#555"/>
<circle cx="486.7" cy="100.8" r="0.4" fill="#666"/>
<circle cx="484.0" cy="102.3" r="0.4" fill="#666"/>
<circle cx="484.0" cy="100.6" r="0.4" fill="#666"/>
<circle cx="482.8" cy="100.9" r="0.4" fill="#666"/>
<circle cx="486.8" cy="101.8" r="0.4" fill="#666"/>
<text x="331.6" y="52.8" font-size="6.15" font-weight="normal" font-style="normal" text-anchor="start" fill="#111" >CD32+ NK cells</text>
<text x="459.6" y="52.8" font-size="6.15" font-weight="normal" font-style="normal" text-anchor="start" fill="#111" >CD32+ NK cells</text>
<text x="334.6" y="94.5" font-size="6.0" font-weight="normal" font-style="normal" text-anchor="start" fill="#111" >Q4-2</text>
<text x="462.9" y="94.8" font-size="6.0" font-weight="normal" font-style="normal" text-anchor="start" fill="#111" >Q4-2</text>
<text x="310.5" y="94.4" font-size="6.0" font-weight="normal" font-style="normal" text-anchor="middle" fill="#111" >Q3-2</text>
<text x="439.2" y="94.2" font-size="6.0" font-weight="normal" font-style="normal" text-anchor="middle" fill="#111" >Q3-2</text>
<text x="431.1" y="67.4" font-size="6.15" font-weight="normal" font-style="normal" text-anchor="start" fill="#222" >Q1</text>
<text x="333" y="130.4" font-size="6.0" font-weight="normal" font-style="normal" text-anchor="middle" fill="#111" >KB61 FITC-A</text>
<text x="461.5" y="130.4" font-size="6.0" font-weight="normal" font-style="normal" text-anchor="middle" fill="#111" >KB61 FITC-A</text>
<text x="0" y="0" font-size="5.9" font-weight="normal" font-style="normal" text-anchor="middle" fill="#111" transform="translate(272.7,69.4) rotate(-90)">CD56 APC-A</text>
<text x="0" y="0" font-size="5.9" font-weight="normal" font-style="normal" text-anchor="middle" fill="#111" transform="translate(401.6,69.4) rotate(-90)">CD56 APC-A</text>
<text x="0" y="0" font-size="4.5" font-weight="normal" font-style="normal" text-anchor="middle" fill="#222" transform="translate(279.6,33.5) rotate(-90)">10<tspan font-size="3.2" dy="-2.1">5</tspan></text>
<text x="0" y="0" font-size="4.5" font-weight="normal" font-style="normal" text-anchor="middle" fill="#222" transform="translate(279.6,52.8) rotate(-90)">10<tspan font-size="3.2" dy="-2.1">4</tspan></text>
<text x="0" y="0" font-size="4.5" font-weight="normal" font-style="normal" text-anchor="middle" fill="#222" transform="translate(279.6,73.8) rotate(-90)">10<tspan font-size="3.2" dy="-2.1">3</tspan></text>
<text x="0" y="0" font-size="4.5" font-weight="normal" font-style="normal" text-anchor="middle" fill="#222" transform="translate(279.6,95.3) rotate(-90)">10<tspan font-size="3.2" dy="-2.1">2</tspan></text>
<text x="0" y="0" font-size="4.5" font-weight="normal" font-style="normal" text-anchor="middle" fill="#222" transform="translate(279.6,111.4) rotate(-90)">-238</text>
<line x1="281.5" y1="31.5" x2="284.5" y2="31.5" stroke="#222" stroke-width="0.7" />
<line x1="281.5" y1="52.8" x2="284.5" y2="52.8" stroke="#222" stroke-width="0.7" />
<line x1="281.5" y1="73.8" x2="284.5" y2="73.8" stroke="#222" stroke-width="0.7" />
<line x1="281.5" y1="94.5" x2="284.5" y2="94.5" stroke="#222" stroke-width="0.7" />
<line x1="280" y1="99.8" x2="283" y2="99.8" stroke="#111" stroke-width="1.4" />
<text x="0" y="0" font-size="4.5" font-weight="normal" font-style="normal" text-anchor="middle" fill="#222" transform="translate(408.4,33.5) rotate(-90)">10<tspan font-size="3.2" dy="-2.1">5</tspan></text>
<text x="0" y="0" font-size="4.5" font-weight="normal" font-style="normal" text-anchor="middle" fill="#222" transform="translate(408.4,52.8) rotate(-90)">10<tspan font-size="3.2" dy="-2.1">4</tspan></text>
<text x="0" y="0" font-size="4.5" font-weight="normal" font-style="normal" text-anchor="middle" fill="#222" transform="translate(408.4,73.8) rotate(-90)">10<tspan font-size="3.2" dy="-2.1">3</tspan></text>
<text x="0" y="0" font-size="4.5" font-weight="normal" font-style="normal" text-anchor="middle" fill="#222" transform="translate(408.4,95.3) rotate(-90)">10<tspan font-size="3.2" dy="-2.1">2</tspan></text>
<text x="0" y="0" font-size="4.5" font-weight="normal" font-style="normal" text-anchor="middle" fill="#222" transform="translate(408.4,111.4) rotate(-90)">-238</text>
<line x1="410.3" y1="31.5" x2="413.3" y2="31.5" stroke="#222" stroke-width="0.7" />
<line x1="410.3" y1="52.8" x2="413.3" y2="52.8" stroke="#222" stroke-width="0.7" />
<line x1="410.3" y1="73.8" x2="413.3" y2="73.8" stroke="#222" stroke-width="0.7" />
<line x1="410.3" y1="94.5" x2="413.3" y2="94.5" stroke="#222" stroke-width="0.7" />
<line x1="408.8" y1="99.8" x2="411.8" y2="99.8" stroke="#111" stroke-width="1.4" />
<text x="289" y="124.9" font-size="4.5" font-weight="normal" font-style="normal" text-anchor="middle" fill="#222" >-367</text>
<text x="295.5" y="123.4" font-size="4.5" font-weight="normal" font-style="normal" text-anchor="middle" fill="#222" >-10<tspan font-size="3.2" dy="-2.1">0</tspan></text>
<text x="327.8" y="122.1" font-size="4.5" font-weight="normal" font-style="normal" text-anchor="middle" fill="#222" >10<tspan font-size="3.2" dy="-2.1">3</tspan></text>
<text x="351" y="122.1" font-size="4.5" font-weight="normal" font-style="normal" text-anchor="middle" fill="#222" >10<tspan font-size="3.2" dy="-2.1">4</tspan></text>
<text x="372" y="122.1" font-size="4.5" font-weight="normal" font-style="normal" text-anchor="middle" fill="#222" >10<tspan font-size="3.2" dy="-2.1">5</tspan></text>
<text x="412.9" y="126.2" font-size="4.5" font-weight="normal" font-style="normal" text-anchor="middle" fill="#222" >-467</text>
<text x="428.3" y="122.9" font-size="4.5" font-weight="normal" font-style="normal" text-anchor="middle" fill="#222" >0</text>
<text x="453.7" y="122.1" font-size="4.5" font-weight="normal" font-style="normal" text-anchor="middle" fill="#222" >10<tspan font-size="3.2" dy="-2.1">3</tspan></text>
<text x="478" y="122.1" font-size="4.5" font-weight="normal" font-style="normal" text-anchor="middle" fill="#222" >10<tspan font-size="3.2" dy="-2.1">4</tspan></text>
<text x="500.2" y="122.1" font-size="4.5" font-weight="normal" font-style="normal" text-anchor="middle" fill="#222" >10<tspan font-size="3.2" dy="-2.1">5</tspan></text>
<line x1="300.3" y1="114.1" x2="300.3" y2="117.6" stroke="#222" stroke-width="0.7" />
<line x1="324.7" y1="114.1" x2="324.7" y2="117.6" stroke="#222" stroke-width="0.7" />
<line x1="348" y1="114.1" x2="348" y2="117.6" stroke="#222" stroke-width="0.7" />
<line x1="370.2" y1="114.1" x2="370.2" y2="117.6" stroke="#222" stroke-width="0.7" />
<line x1="300.3" y1="114.6" x2="300.3" y2="118.4" stroke="#111" stroke-width="1.5" />
<line x1="428.3" y1="114.1" x2="428.3" y2="117.6" stroke="#222" stroke-width="0.7" />
<line x1="452.6" y1="114.1" x2="452.6" y2="117.6" stroke="#222" stroke-width="0.7" />
<line x1="476.2" y1="114.1" x2="476.2" y2="117.6" stroke="#222" stroke-width="0.7" />
<line x1="498.6" y1="114.1" x2="498.6" y2="117.6" stroke="#222" stroke-width="0.7" />
<line x1="428.3" y1="114.6" x2="428.3" y2="118.4" stroke="#111" stroke-width="1.5" />
<text x="297.4" y="146.2" font-size="7.8" font-weight="normal" font-style="italic" text-anchor="start" fill="#000" >FCGR2C<tspan font-size="5.3" font-style="normal" dy="-3.3">Stop/Stop</tspan></text>
<text x="425.3" y="146.2" font-size="7.8" font-weight="normal" font-style="italic" text-anchor="start" fill="#000" >FCGR2C<tspan font-size="5.3" font-style="normal" dy="-3.3">ORF/Stop</tspan></text>
<rect x="284.6" y="155.5" width="123.3" height="116.1" fill="none" stroke="#555" stroke-width="1.2" />
<polygon points="314.4,252.8 316,236 317.3,220 319,203 320.3,190 321.2,180 321.8,175.5 322.8,174 323.5,172.5 324,170 324.6,171.2 325.3,167.5 326,169 326.5,165.6 327.3,168 328,166.5 328.6,170.5 329.3,169.5 330.2,175 331,182 332,190 333.3,200 334.6,210 336.9,221 339,233 341,243 342.9,252.8" fill="#9f9f9f" stroke="#808080" stroke-width="0.6"/>
<polyline points="327.7,252.8 330,240 333,225 334.6,218 336,205 338,190 339.8,175 340.8,167 341.8,165.6 342.8,169 343.8,165.6 344.6,175 346,190 347.5,205 349,220 351,235 354.8,252.8" fill="none" stroke="#999" stroke-width="0.7"/>
<rect x="303.6" y="165.6" width="101" height="87.2" fill="none" stroke="#666" stroke-width="1.1" />
<line x1="302.1" y1="252.8" x2="303.6" y2="252.8" stroke="#333" stroke-width="0.6" />
<line x1="302.1" y1="249.4" x2="303.6" y2="249.4" stroke="#333" stroke-width="0.6" />
<line x1="302.1" y1="246" x2="303.6" y2="246" stroke="#333" stroke-width="0.6" />
<line x1="302.1" y1="242.6" x2="303.6" y2="242.6" stroke="#333" stroke-width="0.6" />
<line x1="302.1" y1="239.2" x2="303.6" y2="239.2" stroke="#333" stroke-width="0.6" />
<line x1="302.1" y1="235.8" x2="303.6" y2="235.8" stroke="#333" stroke-width="0.6" />
<line x1="302.1" y1="232.4" x2="303.6" y2="232.4" stroke="#333" stroke-width="0.6" />
<line x1="302.1" y1="229" x2="303.6" y2="229" stroke="#333" stroke-width="0.6" />
<line x1="302.1" y1="225.6" x2="303.6" y2="225.6" stroke="#333" stroke-width="0.6" />
<line x1="302.1" y1="222.2" x2="303.6" y2="222.2" stroke="#333" stroke-width="0.6" />
<line x1="302.1" y1="218.8" x2="303.6" y2="218.8" stroke="#333" stroke-width="0.6" />
<line x1="302.1" y1="215.4" x2="303.6" y2="215.4" stroke="#333" stroke-width="0.6" />
<line x1="302.1" y1="212" x2="303.6" y2="212" stroke="#333" stroke-width="0.6" />
<line x1="302.1" y1="208.6" x2="303.6" y2="208.6" stroke="#333" stroke-width="0.6" />
<line x1="302.1" y1="205.2" x2="303.6" y2="205.2" stroke="#333" stroke-width="0.6" />
<line x1="302.1" y1="201.8" x2="303.6" y2="201.8" stroke="#333" stroke-width="0.6" />
<line x1="302.1" y1="198.4" x2="303.6" y2="198.4" stroke="#333" stroke-width="0.6" />
<line x1="302.1" y1="195" x2="303.6" y2="195" stroke="#333" stroke-width="0.6" />
<line x1="302.1" y1="191.6" x2="303.6" y2="191.6" stroke="#333" stroke-width="0.6" />
<line x1="302.1" y1="188.2" x2="303.6" y2="188.2" stroke="#333" stroke-width="0.6" />
<line x1="302.1" y1="184.8" x2="303.6" y2="184.8" stroke="#333" stroke-width="0.6" />
<line x1="302.1" y1="181.4" x2="303.6" y2="181.4" stroke="#333" stroke-width="0.6" />
<line x1="302.1" y1="178" x2="303.6" y2="178" stroke="#333" stroke-width="0.6" />
<line x1="302.1" y1="174.6" x2="303.6" y2="174.6" stroke="#333" stroke-width="0.6" />
<line x1="302.1" y1="171.2" x2="303.6" y2="171.2" stroke="#333" stroke-width="0.6" />
<line x1="302.1" y1="167.8" x2="303.6" y2="167.8" stroke="#333" stroke-width="0.6" />
<line x1="305.6" y1="252.8" x2="305.6" y2="254.3" stroke="#333" stroke-width="0.6" />
<line x1="309" y1="252.8" x2="309" y2="254.3" stroke="#333" stroke-width="0.6" />
<line x1="312.4" y1="252.8" x2="312.4" y2="254.3" stroke="#333" stroke-width="0.6" />
<line x1="315.8" y1="252.8" x2="315.8" y2="254.3" stroke="#333" stroke-width="0.6" />
<line x1="319.2" y1="252.8" x2="319.2" y2="254.3" stroke="#333" stroke-width="0.6" />
<line x1="322.6" y1="252.8" x2="322.6" y2="254.3" stroke="#333" stroke-width="0.6" />
<line x1="326" y1="252.8" x2="326" y2="254.3" stroke="#333" stroke-width="0.6" />
<line x1="329.4" y1="252.8" x2="329.4" y2="254.3" stroke="#333" stroke-width="0.6" />
<line x1="332.8" y1="252.8" x2="332.8" y2="254.3" stroke="#333" stroke-width="0.6" />
<line x1="336.2" y1="252.8" x2="336.2" y2="254.3" stroke="#333" stroke-width="0.6" />
<line x1="339.6" y1="252.8" x2="339.6" y2="254.3" stroke="#333" stroke-width="0.6" />
<line x1="343" y1="252.8" x2="343" y2="254.3" stroke="#333" stroke-width="0.6" />
<line x1="346.4" y1="252.8" x2="346.4" y2="254.3" stroke="#333" stroke-width="0.6" />
<line x1="349.8" y1="252.8" x2="349.8" y2="254.3" stroke="#333" stroke-width="0.6" />
<line x1="353.2" y1="252.8" x2="353.2" y2="254.3" stroke="#333" stroke-width="0.6" />
<line x1="356.6" y1="252.8" x2="356.6" y2="254.3" stroke="#333" stroke-width="0.6" />
<line x1="360" y1="252.8" x2="360" y2="254.3" stroke="#333" stroke-width="0.6" />
<line x1="363.4" y1="252.8" x2="363.4" y2="254.3" stroke="#333" stroke-width="0.6" />
<line x1="366.8" y1="252.8" x2="366.8" y2="254.3" stroke="#333" stroke-width="0.6" />
<line x1="370.2" y1="252.8" x2="370.2" y2="254.3" stroke="#333" stroke-width="0.6" />
<line x1="373.6" y1="252.8" x2="373.6" y2="254.3" stroke="#333" stroke-width="0.6" />
<line x1="377" y1="252.8" x2="377" y2="254.3" stroke="#333" stroke-width="0.6" />
<line x1="380.4" y1="252.8" x2="380.4" y2="254.3" stroke="#333" stroke-width="0.6" />
<line x1="383.8" y1="252.8" x2="383.8" y2="254.3" stroke="#333" stroke-width="0.6" />
<line x1="387.2" y1="252.8" x2="387.2" y2="254.3" stroke="#333" stroke-width="0.6" />
<line x1="390.6" y1="252.8" x2="390.6" y2="254.3" stroke="#333" stroke-width="0.6" />
<line x1="394" y1="252.8" x2="394" y2="254.3" stroke="#333" stroke-width="0.6" />
<line x1="397.4" y1="252.8" x2="397.4" y2="254.3" stroke="#333" stroke-width="0.6" />
<line x1="400.8" y1="252.8" x2="400.8" y2="254.3" stroke="#333" stroke-width="0.6" />
<line x1="404.2" y1="252.8" x2="404.2" y2="254.3" stroke="#333" stroke-width="0.6" />
<text x="0" y="0" font-size="5.8" font-weight="normal" font-style="normal" text-anchor="middle" fill="#111" transform="translate(294.2,208.5) rotate(-90)">Count</text>
<text x="0" y="0" font-size="4" font-weight="normal" font-style="normal" text-anchor="middle" fill="#333" transform="translate(300.2,179) rotate(-90)">150</text>
<text x="0" y="0" font-size="4" font-weight="normal" font-style="normal" text-anchor="middle" fill="#333" transform="translate(300.2,203.5) rotate(-90)">100</text>
<text x="0" y="0" font-size="4" font-weight="normal" font-style="normal" text-anchor="middle" fill="#333" transform="translate(300.2,228.5) rotate(-90)">50</text>
<text x="354.2" y="268.6" font-size="6.0" font-weight="normal" font-style="normal" text-anchor="middle" fill="#111" >KB61 FITC-A</text>
<text x="302.2" y="262.2" font-size="4.2" font-weight="normal" font-style="normal" text-anchor="middle" fill="#333" >-467</text>
<text x="319.9" y="262.2" font-size="4.2" font-weight="normal" font-style="normal" text-anchor="middle" fill="#333" >0</text>
<text x="347.5" y="262.2" font-size="4.2" font-weight="normal" font-style="normal" text-anchor="middle" fill="#333" >10<tspan font-size="3" dy="-2">3</tspan></text>
<text x="372.4" y="262.2" font-size="4.2" font-weight="normal" font-style="normal" text-anchor="middle" fill="#333" >10<tspan font-size="3" dy="-2">4</tspan></text>
<text x="394.3" y="262.2" font-size="4.2" font-weight="normal" font-style="normal" text-anchor="middle" fill="#333" >10<tspan font-size="3" dy="-2">5</tspan></text>
<rect x="417" y="186.3" width="12" height="3.9" fill="#fff" stroke="#777" stroke-width="0.9" />
<rect x="417" y="203.3" width="12" height="3.9" fill="#999" stroke="#777" stroke-width="0.9" />
<text x="433.7" y="190.6" font-size="7.8" font-weight="normal" font-style="italic" text-anchor="start" fill="#111" >FCGR2C<tspan font-size="5.2" font-style="normal" dy="-3.2">ORF/Stop</tspan></text>
<text x="433.7" y="207.5" font-size="7.8" font-weight="normal" font-style="italic" text-anchor="start" fill="#111" >FCGR2C<tspan font-size="5.2" font-style="normal" dy="-3.2">Stop/Stop</tspan></text>
<line x1="33.1" y1="168.8" x2="33.1" y2="268.9" stroke="#000" stroke-width="1.6" />
<line x1="32.45" y1="268.9" x2="184.9" y2="268.9" stroke="#000" stroke-width="1.6" />
<line x1="30.1" y1="168.85" x2="33.1" y2="168.85" stroke="#000" stroke-width="1.2" />
<text x="29.2" y="171.45" font-size="7.3" font-weight="bold" font-style="normal" text-anchor="end" fill="#000" >3000</text>
<line x1="30.1" y1="202.2" x2="33.1" y2="202.2" stroke="#000" stroke-width="1.2" />
<text x="29.2" y="204.8" font-size="7.3" font-weight="bold" font-style="normal" text-anchor="end" fill="#000" >2000</text>
<line x1="30.1" y1="235.55" x2="33.1" y2="235.55" stroke="#000" stroke-width="1.2" />
<text x="29.2" y="238.15" font-size="7.3" font-weight="bold" font-style="normal" text-anchor="end" fill="#000" >1000</text>
<line x1="30.1" y1="268.9" x2="33.1" y2="268.9" stroke="#000" stroke-width="1.2" />
<text x="29.2" y="271.5" font-size="7.3" font-weight="bold" font-style="normal" text-anchor="end" fill="#000" >0</text>
<text x="0" y="0" font-size="7.2" font-weight="bold" font-style="normal" text-anchor="middle" fill="#000" transform="translate(8.7,219) rotate(-90)">MFI</text>
<line x1="58.6" y1="268.9" x2="58.6" y2="271.8" stroke="#000" stroke-width="1.2" />
<line x1="44.85" y1="182.52" x2="44.85" y2="194.53" stroke="#222" stroke-width="1.2" />
<line x1="42.05" y1="182.52" x2="47.65" y2="182.52" stroke="#222" stroke-width="1.2" />
<rect x="40.55" y="194.53" width="8.6" height="74.37" fill="#fff" stroke="#000" stroke-width="1.4" />
<line x1="58.6" y1="182.52" x2="58.6" y2="194.53" stroke="#222" stroke-width="1.2" />
<line x1="55.8" y1="182.52" x2="61.4" y2="182.52" stroke="#222" stroke-width="1.2" />
<rect x="54.3" y="194.53" width="8.6" height="74.37" fill="#8c8c8c" stroke="#000" stroke-width="1.4" />
<line x1="72.35" y1="182.52" x2="72.35" y2="194.53" stroke="#222" stroke-width="1.2" />
<line x1="69.55" y1="182.52" x2="75.15" y2="182.52" stroke="#222" stroke-width="1.2" />
<rect x="68.05" y="194.53" width="8.6" height="74.37" fill="#000" stroke="#000" stroke-width="1.4" />
<line x1="108.8" y1="268.9" x2="108.8" y2="271.8" stroke="#000" stroke-width="1.2" />
<line x1="95.05" y1="229.88" x2="95.05" y2="232.21" stroke="#222" stroke-width="1.2" />
<line x1="92.25" y1="229.88" x2="97.85" y2="229.88" stroke="#222" stroke-width="1.2" />
<rect x="90.75" y="232.21" width="8.6" height="36.69" fill="#fff" stroke="#000" stroke-width="1.4" />
<line x1="108.8" y1="226.21" x2="108.8" y2="228.21" stroke="#222" stroke-width="1.2" />
<line x1="106" y1="226.21" x2="111.6" y2="226.21" stroke="#222" stroke-width="1.2" />
<rect x="104.5" y="228.21" width="8.6" height="40.69" fill="#8c8c8c" stroke="#000" stroke-width="1.4" />
<line x1="122.55" y1="209.87" x2="122.55" y2="214.54" stroke="#222" stroke-width="1.2" />
<line x1="119.75" y1="209.87" x2="125.35" y2="209.87" stroke="#222" stroke-width="1.2" />
<rect x="118.25" y="214.54" width="8.6" height="54.36" fill="#000" stroke="#000" stroke-width="1.4" />
<line x1="159" y1="268.9" x2="159" y2="271.8" stroke="#000" stroke-width="1.2" />
<line x1="145.25" y1="230.48" x2="145.25" y2="232.28" stroke="#222" stroke-width="1.2" />
<line x1="142.45" y1="230.48" x2="148.05" y2="230.48" stroke="#222" stroke-width="1.2" />
<rect x="140.95" y="232.28" width="8.6" height="36.62" fill="#fff" stroke="#000" stroke-width="1.4" />
<line x1="159" y1="224.78" x2="159" y2="228.48" stroke="#222" stroke-width="1.2" />
<line x1="156.2" y1="224.78" x2="161.8" y2="224.78" stroke="#222" stroke-width="1.2" />
<rect x="154.7" y="228.48" width="8.6" height="40.42" fill="#8c8c8c" stroke="#000" stroke-width="1.4" />
<line x1="172.75" y1="207.57" x2="172.75" y2="214.17" stroke="#222" stroke-width="1.2" />
<line x1="169.95" y1="207.57" x2="175.55" y2="207.57" stroke="#222" stroke-width="1.2" />
<rect x="168.45" y="214.17" width="8.6" height="54.73" fill="#000" stroke="#000" stroke-width="1.4" />
<text x="0" y="0" font-size="7.5" font-weight="bold" font-style="normal" text-anchor="end" fill="#000" transform="translate(60.800000000000004,280.2) rotate(-45)">t=0</text>
<text x="0" y="0" font-size="7.5" font-weight="bold" font-style="normal" text-anchor="end" fill="#000" transform="translate(111.0,280.2) rotate(-45)">t=2</text>
<text x="0" y="0" font-size="7.5" font-weight="bold" font-style="normal" text-anchor="end" fill="#000" transform="translate(161.2,280.2) rotate(-45)">t=4</text>
<path d="M91.2,192.9 L91.2,189.3 L124.8,189.3" fill="none" stroke="#111" stroke-width="1.3"/>
<text x="108.4" y="191.9" font-size="8.6" font-weight="bold" font-style="normal" text-anchor="middle" fill="#111" >*</text>
<path d="M104.1,205.5 L104.1,201.9 L124.8,201.9" fill="none" stroke="#111" stroke-width="1.3"/>
<text x="115.3" y="204.5" font-size="8.6" font-weight="bold" font-style="normal" text-anchor="middle" fill="#111" >*</text>
<path d="M139.3,192.9 L139.3,189.3 L173,189.3" fill="none" stroke="#111" stroke-width="1.3"/>
<text x="157.6" y="191.9" font-size="8.6" font-weight="bold" font-style="normal" text-anchor="middle" fill="#111" >*</text>
<path d="M152.4,205.5 L152.4,201.9 L173,201.9" fill="none" stroke="#111" stroke-width="1.3"/>
<text x="163.4" y="204.5" font-size="8.6" font-weight="bold" font-style="normal" text-anchor="middle" fill="#111" >*</text>
<rect x="206.6" y="178.3" width="15.2" height="5.9" fill="#fff" stroke="#000" stroke-width="1.4" />
<text x="224" y="184.1" font-size="8.2" font-weight="normal" font-style="normal" text-anchor="start" fill="#000" >-</text>
<rect x="206.6" y="189.9" width="15.2" height="5.9" fill="#8c8c8c" stroke="#000" stroke-width="1.4" />
<text x="224" y="195.7" font-size="8.2" font-weight="normal" font-style="normal" text-anchor="start" fill="#000" >rhIL-2</text>
<rect x="206.6" y="201.5" width="15.2" height="5.9" fill="#000" stroke="#000" stroke-width="1.4" />
<text x="224" y="207.3" font-size="8.2" font-weight="normal" font-style="normal" text-anchor="start" fill="#000" >rhIL-15</text>
<line x1="28.2" y1="319.6" x2="28.2" y2="367.3" stroke="#000" stroke-width="1.45" />
<line x1="28.2" y1="383.2" x2="28.2" y2="445.6" stroke="#000" stroke-width="1.45" />
<line x1="27.55" y1="445.6" x2="250.8" y2="445.6" stroke="#000" stroke-width="1.6" />
<line x1="25.2" y1="320" x2="28.2" y2="320" stroke="#000" stroke-width="1.2" />
<text x="25.6" y="322.7" font-size="7.5" font-weight="bold" font-style="normal" text-anchor="end" fill="#000" >40</text>
<line x1="25.2" y1="335.77" x2="28.2" y2="335.77" stroke="#000" stroke-width="1.2" />
<text x="25.6" y="338.47" font-size="7.5" font-weight="bold" font-style="normal" text-anchor="end" fill="#000" >30</text>
<line x1="25.2" y1="351.53" x2="28.2" y2="351.53" stroke="#000" stroke-width="1.2" />
<text x="25.6" y="354.23" font-size="7.5" font-weight="bold" font-style="normal" text-anchor="end" fill="#000" >20</text>
<line x1="25.2" y1="367.3" x2="28.2" y2="367.3" stroke="#000" stroke-width="1.2" />
<text x="25.6" y="370" font-size="7.5" font-weight="bold" font-style="normal" text-anchor="end" fill="#000" >10</text>
<line x1="25.2" y1="383.2" x2="28.2" y2="383.2" stroke="#000" stroke-width="1.2" />
<text x="25.6" y="385.9" font-size="7.5" font-weight="bold" font-style="normal" text-anchor="end" fill="#000" >6</text>
<line x1="25.2" y1="404" x2="28.2" y2="404" stroke="#000" stroke-width="1.2" />
<text x="25.6" y="406.7" font-size="7.5" font-weight="bold" font-style="normal" text-anchor="end" fill="#000" >4</text>
<line x1="25.2" y1="424.8" x2="28.2" y2="424.8" stroke="#000" stroke-width="1.2" />
<text x="25.6" y="427.5" font-size="7.5" font-weight="bold" font-style="normal" text-anchor="end" fill="#000" >2</text>
<line x1="25.2" y1="445.6" x2="28.2" y2="445.6" stroke="#000" stroke-width="1.2" />
<text x="25.6" y="448.3" font-size="7.5" font-weight="bold" font-style="normal" text-anchor="end" fill="#000" >0</text>
<line x1="28.2" y1="367.3" x2="31.2" y2="367.3" stroke="#000" stroke-width="1.2" />
<line x1="28.2" y1="383.2" x2="31.2" y2="383.2" stroke="#000" stroke-width="1.2" />
<text x="0" y="0" font-size="8.6" font-weight="bold" font-style="normal" text-anchor="middle" fill="#000" transform="translate(11.1,382.6) rotate(-90)">Fc<tspan font-family="Liberation Serif" font-weight="normal">&#947;</tspan>RIIc mRNA fold increase</text>
<line x1="46" y1="445.6" x2="46" y2="449.5" stroke="#000" stroke-width="1.2" />
<line x1="39" y1="432.6" x2="39" y2="435.2" stroke="#222" stroke-width="1.2" />
<line x1="36.8" y1="432.6" x2="41.2" y2="432.6" stroke="#222" stroke-width="1.2" />
<rect x="34.2" y="435.2" width="9.6" height="10.4" fill="#fff" stroke="#000" stroke-width="1.3" />
<line x1="53" y1="423.24" x2="53" y2="426.36" stroke="#222" stroke-width="1.2" />
<line x1="50.8" y1="423.24" x2="55.2" y2="423.24" stroke="#222" stroke-width="1.2" />
<rect x="48.2" y="426.36" width="9.6" height="19.24" fill="#000" stroke="#000" stroke-width="1.3" />
<line x1="83.1" y1="445.6" x2="83.1" y2="449.5" stroke="#000" stroke-width="1.2" />
<line x1="76.1" y1="346.8" x2="76.1" y2="351.53" stroke="#222" stroke-width="1.2" />
<line x1="73.9" y1="346.8" x2="78.3" y2="346.8" stroke="#222" stroke-width="1.2" />
<path d="M71.3,367.3 L71.3,351.533 L80.89999999999999,351.533 L80.89999999999999,367.3" fill="none" stroke="#000" stroke-width="1.3"/>
<path d="M71.3,383.2 L71.3,445.6 M80.89999999999999,383.2 L80.89999999999999,445.6" fill="none" stroke="#000" stroke-width="1.3"/>
<line x1="90.1" y1="399.32" x2="90.1" y2="404" stroke="#222" stroke-width="1.2" />
<line x1="87.9" y1="399.32" x2="92.3" y2="399.32" stroke="#222" stroke-width="1.2" />
<rect x="85.3" y="404" width="9.6" height="41.6" fill="#000" stroke="#000" stroke-width="1.3" />
<line x1="120.1" y1="445.6" x2="120.1" y2="449.5" stroke="#000" stroke-width="1.2" />
<rect x="108.3" y="431.04" width="9.6" height="14.56" fill="#fff" stroke="#000" stroke-width="1.3" />
<line x1="127.1" y1="411.28" x2="127.1" y2="419.6" stroke="#222" stroke-width="1.2" />
<line x1="124.9" y1="411.28" x2="129.3" y2="411.28" stroke="#222" stroke-width="1.2" />
<rect x="122.3" y="419.6" width="9.6" height="26" fill="#000" stroke="#000" stroke-width="1.3" />
<line x1="157.5" y1="445.6" x2="157.5" y2="449.5" stroke="#000" stroke-width="1.2" />
<line x1="150.5" y1="437.8" x2="150.5" y2="439.36" stroke="#222" stroke-width="1.2" />
<line x1="148.3" y1="437.8" x2="152.7" y2="437.8" stroke="#222" stroke-width="1.2" />
<rect x="145.7" y="439.36" width="9.6" height="6.24" fill="#fff" stroke="#000" stroke-width="1.3" />
<line x1="164.5" y1="428.44" x2="164.5" y2="431.56" stroke="#222" stroke-width="1.2" />
<line x1="162.3" y1="428.44" x2="166.7" y2="428.44" stroke="#222" stroke-width="1.2" />
<rect x="159.7" y="431.56" width="9.6" height="14.04" fill="#000" stroke="#000" stroke-width="1.3" />
<line x1="194.5" y1="445.6" x2="194.5" y2="449.5" stroke="#000" stroke-width="1.2" />
<line x1="187.5" y1="409.2" x2="187.5" y2="416.48" stroke="#222" stroke-width="1.2" />
<line x1="185.3" y1="409.2" x2="189.7" y2="409.2" stroke="#222" stroke-width="1.2" />
<rect x="182.7" y="416.48" width="9.6" height="29.12" fill="#fff" stroke="#000" stroke-width="1.3" />
<line x1="201.5" y1="432.08" x2="201.5" y2="432.91" stroke="#222" stroke-width="1.2" />
<line x1="199.3" y1="432.08" x2="203.7" y2="432.08" stroke="#222" stroke-width="1.2" />
<rect x="196.7" y="432.91" width="9.6" height="12.69" fill="#000" stroke="#000" stroke-width="1.3" />
<line x1="231.5" y1="445.6" x2="231.5" y2="449.5" stroke="#000" stroke-width="1.2" />
<rect x="219.7" y="438.11" width="9.6" height="7.49" fill="#fff" stroke="#000" stroke-width="1.3" />
<rect x="233.7" y="435.72" width="9.6" height="9.88" fill="#000" stroke="#000" stroke-width="1.3" />
<line x1="28.2" y1="435.20000000000005" x2="249.5" y2="435.20000000000005" stroke="#000" stroke-width="1.3" stroke-dasharray="3,2.2"/>
<path d="M73,338.8 L94.6,338.8 L94.6,342.0" fill="none" stroke="#111" stroke-width="1.3"/>
<text x="85.8" y="340.4" font-size="8.4" font-weight="bold" font-style="normal" text-anchor="middle" fill="#111" >**</text>
<path d="M183,404.2 L205,404.2 L205,407.4" fill="none" stroke="#111" stroke-width="1.3"/>
<text x="194.6" y="405.8" font-size="8.4" font-weight="bold" font-style="normal" text-anchor="middle" fill="#111" >**</text>
<text x="0" y="0" font-size="7.3" font-weight="bold" font-style="normal" text-anchor="end" fill="#000" transform="translate(47.9,458.6) rotate(-45)">LPS</text>
<text x="0" y="0" font-size="7.3" font-weight="bold" font-style="normal" text-anchor="end" fill="#000" transform="translate(85.0,458.6) rotate(-45)">GM-CSF</text>
<text x="0" y="0" font-size="7.3" font-weight="bold" font-style="normal" text-anchor="end" fill="#000" transform="translate(122.0,458.6) rotate(-45)">TNF<tspan font-family="Liberation Serif" font-weight="normal">&#945;</tspan></text>
<text x="0" y="0" font-size="7.3" font-weight="bold" font-style="normal" text-anchor="end" fill="#000" transform="translate(159.4,458.6) rotate(-45)">LPS</text>
<text x="0" y="0" font-size="7.3" font-weight="bold" font-style="normal" text-anchor="end" fill="#000" transform="translate(196.4,458.6) rotate(-45)">GM-CSF</text>
<text x="0" y="0" font-size="7.3" font-weight="bold" font-style="normal" text-anchor="end" fill="#000" transform="translate(233.4,458.6) rotate(-45)">TNF<tspan font-family="Liberation Serif" font-weight="normal">&#945;</tspan></text>
<path d="M27,481.5 L27,484.3 L137.7,484.3 L137.7,481.5" fill="none" stroke="#222" stroke-width="1.1"/>
<path d="M141.5,481.5 L141.5,484.3 L252.7,484.3 L252.7,481.5" fill="none" stroke="#222" stroke-width="1.1"/>
<text x="83.1" y="495.7" font-size="9.6" font-weight="normal" font-style="normal" text-anchor="middle" fill="#111" >neutrophils</text>
<text x="197.9" y="495.7" font-size="9.6" font-weight="normal" font-style="normal" text-anchor="middle" fill="#111" >PBMCs</text>
<rect x="189.6" y="348.9" width="15" height="5.7" fill="#fff" stroke="#000" stroke-width="1.3" />
<rect x="189.6" y="371.6" width="15" height="5.7" fill="#000" stroke="#000" stroke-width="1.3" />
<text x="206.9" y="357.8" font-size="8.5" font-weight="normal" font-style="italic" text-anchor="start" fill="#000" >FCGR2C<tspan font-size="6.2" font-style="normal" dy="-4.3">ORF</tspan></text>
<text x="206.9" y="380.6" font-size="8.5" font-weight="normal" font-style="italic" text-anchor="start" fill="#000" >FCGR2C<tspan font-size="6.2" font-style="normal" dy="-4.3">Stop</tspan></text>
<line x1="285.6" y1="316.8" x2="285.6" y2="384.1" stroke="#3a3a3a" stroke-width="1.05" />
<line x1="285.1" y1="384.1" x2="386.9" y2="384.1" stroke="#3a3a3a" stroke-width="1.05" />
<line x1="283.8" y1="384.1" x2="285.6" y2="384.1" stroke="#222" stroke-width="0.9" />
<text x="283.7" y="386" font-size="5.2" font-weight="bold" font-style="normal" text-anchor="end" fill="#222" >0</text>
<line x1="283.8" y1="370.64" x2="285.6" y2="370.64" stroke="#222" stroke-width="0.9" />
<text x="283.7" y="372.54" font-size="5.2" font-weight="bold" font-style="normal" text-anchor="end" fill="#222" >10</text>
<line x1="283.8" y1="357.18" x2="285.6" y2="357.18" stroke="#222" stroke-width="0.9" />
<text x="283.7" y="359.08" font-size="5.2" font-weight="bold" font-style="normal" text-anchor="end" fill="#222" >20</text>
<line x1="283.8" y1="343.72" x2="285.6" y2="343.72" stroke="#222" stroke-width="0.9" />
<text x="283.7" y="345.62" font-size="5.2" font-weight="bold" font-style="normal" text-anchor="end" fill="#222" >30</text>
<line x1="283.8" y1="330.26" x2="285.6" y2="330.26" stroke="#222" stroke-width="0.9" />
<text x="283.7" y="332.16" font-size="5.2" font-weight="bold" font-style="normal" text-anchor="end" fill="#222" >40</text>
<line x1="283.8" y1="316.8" x2="285.6" y2="316.8" stroke="#222" stroke-width="0.9" />
<text x="283.7" y="318.7" font-size="5.2" font-weight="bold" font-style="normal" text-anchor="end" fill="#222" >50</text>
<line x1="285.5" y1="384.1" x2="285.5" y2="386.4" stroke="#222" stroke-width="0.9" />
<text x="285.5" y="391.7" font-size="5.6" font-weight="bold" font-style="normal" text-anchor="middle" fill="#222" >64</text>
<line x1="310.85" y1="384.1" x2="310.85" y2="386.4" stroke="#222" stroke-width="0.9" />
<text x="310.85" y="391.7" font-size="5.6" font-weight="bold" font-style="normal" text-anchor="middle" fill="#222" >32</text>
<line x1="336.2" y1="384.1" x2="336.2" y2="386.4" stroke="#222" stroke-width="0.9" />
<text x="336.2" y="391.7" font-size="5.6" font-weight="bold" font-style="normal" text-anchor="middle" fill="#222" >16</text>
<line x1="361.55" y1="384.1" x2="361.55" y2="386.4" stroke="#222" stroke-width="0.9" />
<text x="361.55" y="391.7" font-size="5.6" font-weight="bold" font-style="normal" text-anchor="middle" fill="#222" >8</text>
<line x1="386.9" y1="384.1" x2="386.9" y2="386.4" stroke="#222" stroke-width="0.9" />
<text x="386.9" y="391.7" font-size="5.6" font-weight="bold" font-style="normal" text-anchor="middle" fill="#222" >4</text>
<text x="335.7" y="399.6" font-size="6.2" font-weight="bold" font-style="normal" text-anchor="middle" fill="#222" >E:T ratio</text>
<text x="0" y="0" font-size="5.75" font-weight="bold" font-style="normal" text-anchor="middle" fill="#222" transform="translate(274.6,350.5) rotate(-90)">% specific cell death</text>
<text x="314.7" y="308.4" font-size="6.6" font-weight="bold" font-style="normal" text-anchor="start" fill="#111" ><tspan font-style="italic">FCGR2C</tspan>-Stop</text>
<line x1="294.53" y1="339" x2="294.53" y2="364.6" stroke="#333" stroke-width="0.9" />
<line x1="293.33" y1="339" x2="295.73" y2="339" stroke="#333" stroke-width="0.9" />
<line x1="293.33" y1="364.6" x2="295.73" y2="364.6" stroke="#333" stroke-width="0.9" />
<line x1="319.88" y1="357.3" x2="319.88" y2="368.5" stroke="#333" stroke-width="0.9" />
<line x1="318.68" y1="357.3" x2="321.08" y2="357.3" stroke="#333" stroke-width="0.9" />
<line x1="318.68" y1="368.5" x2="321.08" y2="368.5" stroke="#333" stroke-width="0.9" />
<line x1="346.72" y1="361.2" x2="346.72" y2="370.8" stroke="#333" stroke-width="0.9" />
<line x1="345.52" y1="361.2" x2="347.92" y2="361.2" stroke="#333" stroke-width="0.9" />
<line x1="345.52" y1="370.8" x2="347.92" y2="370.8" stroke="#333" stroke-width="0.9" />
<line x1="372.07" y1="371.3" x2="372.07" y2="378.1" stroke="#333" stroke-width="0.9" />
<line x1="370.87" y1="371.3" x2="373.27" y2="371.3" stroke="#333" stroke-width="0.9" />
<line x1="370.87" y1="378.1" x2="373.27" y2="378.1" stroke="#333" stroke-width="0.9" />
<polyline points="294.5,352.1 319.9,362.7 346.7,366.0 372.1,374.6" fill="none" stroke="#222" stroke-width="1.0"/>
<rect x="293.63" y="351.2" width="1.8" height="1.8" fill="#222" stroke="none" stroke-width="0" />
<rect x="318.98" y="361.8" width="1.8" height="1.8" fill="#222" stroke="none" stroke-width="0" />
<rect x="345.82" y="365.1" width="1.8" height="1.8" fill="#222" stroke="none" stroke-width="0" />
<rect x="371.17" y="373.7" width="1.8" height="1.8" fill="#222" stroke="none" stroke-width="0" />
<line x1="352.3" y1="337.3" x2="362.3" y2="337.3" stroke="#333" stroke-width="1.0" />
<rect x="356.4" y="336.4" width="1.8" height="1.8" fill="#222" stroke="none" stroke-width="0" />
<text x="362.9" y="339.3" font-size="5.7" font-weight="normal" font-style="normal" text-anchor="start" fill="#555" ><tspan font-family="Liberation Serif">&#945;</tspan>-Fc<tspan font-family="Liberation Serif">&#947;</tspan>RIII</text>
<line x1="413.5" y1="316.4" x2="413.5" y2="383.9" stroke="#3a3a3a" stroke-width="1.05" />
<line x1="413" y1="383.9" x2="516" y2="383.9" stroke="#3a3a3a" stroke-width="1.05" />
<line x1="411.7" y1="383.9" x2="413.5" y2="383.9" stroke="#222" stroke-width="0.9" />
<text x="411.6" y="385.8" font-size="5.2" font-weight="bold" font-style="normal" text-anchor="end" fill="#222" >0</text>
<line x1="411.7" y1="370.4" x2="413.5" y2="370.4" stroke="#222" stroke-width="0.9" />
<text x="411.6" y="372.3" font-size="5.2" font-weight="bold" font-style="normal" text-anchor="end" fill="#222" >10</text>
<line x1="411.7" y1="356.9" x2="413.5" y2="356.9" stroke="#222" stroke-width="0.9" />
<text x="411.6" y="358.8" font-size="5.2" font-weight="bold" font-style="normal" text-anchor="end" fill="#222" >20</text>
<line x1="411.7" y1="343.4" x2="413.5" y2="343.4" stroke="#222" stroke-width="0.9" />
<text x="411.6" y="345.3" font-size="5.2" font-weight="bold" font-style="normal" text-anchor="end" fill="#222" >30</text>
<line x1="411.7" y1="329.9" x2="413.5" y2="329.9" stroke="#222" stroke-width="0.9" />
<text x="411.6" y="331.8" font-size="5.2" font-weight="bold" font-style="normal" text-anchor="end" fill="#222" >40</text>
<line x1="411.7" y1="316.4" x2="413.5" y2="316.4" stroke="#222" stroke-width="0.9" />
<text x="411.6" y="318.3" font-size="5.2" font-weight="bold" font-style="normal" text-anchor="end" fill="#222" >50</text>
<line x1="413.6" y1="383.9" x2="413.6" y2="386.2" stroke="#222" stroke-width="0.9" />
<text x="413.6" y="391.5" font-size="5.6" font-weight="bold" font-style="normal" text-anchor="middle" fill="#222" >64</text>
<line x1="439.2" y1="383.9" x2="439.2" y2="386.2" stroke="#222" stroke-width="0.9" />
<text x="439.2" y="391.5" font-size="5.6" font-weight="bold" font-style="normal" text-anchor="middle" fill="#222" >32</text>
<line x1="464.8" y1="383.9" x2="464.8" y2="386.2" stroke="#222" stroke-width="0.9" />
<text x="464.8" y="391.5" font-size="5.6" font-weight="bold" font-style="normal" text-anchor="middle" fill="#222" >16</text>
<line x1="490.4" y1="383.9" x2="490.4" y2="386.2" stroke="#222" stroke-width="0.9" />
<text x="490.4" y="391.5" font-size="5.6" font-weight="bold" font-style="normal" text-anchor="middle" fill="#222" >8</text>
<line x1="516" y1="383.9" x2="516" y2="386.2" stroke="#222" stroke-width="0.9" />
<text x="516" y="391.5" font-size="5.6" font-weight="bold" font-style="normal" text-anchor="middle" fill="#222" >4</text>
<text x="464.3" y="399.4" font-size="6.2" font-weight="bold" font-style="normal" text-anchor="middle" fill="#222" >E:T ratio</text>
<text x="0" y="0" font-size="5.75" font-weight="bold" font-style="normal" text-anchor="middle" fill="#222" transform="translate(402.5,350.29999999999995) rotate(-90)">% specific cell death</text>
<text x="442.6" y="307.1" font-size="6.6" font-weight="bold" font-style="normal" text-anchor="start" fill="#111" ><tspan font-style="italic">FCGR2C</tspan>-Stop</text>
<line x1="501.02" y1="382.1" x2="501.02" y2="383.3" stroke="#333" stroke-width="0.9" />
<line x1="499.82" y1="382.1" x2="502.22" y2="382.1" stroke="#333" stroke-width="0.9" />
<line x1="499.82" y1="383.3" x2="502.22" y2="383.3" stroke="#333" stroke-width="0.9" />
<polyline points="422.7,383.7 448.3,383.6 475.4,383.4 501.0,382.7" fill="none" stroke="#222" stroke-width="1.0"/>
<rect x="421.82" y="382.8" width="1.8" height="1.8" fill="#222" stroke="none" stroke-width="0" />
<rect x="447.42" y="382.7" width="1.8" height="1.8" fill="#222" stroke="none" stroke-width="0" />
<rect x="474.52" y="382.5" width="1.8" height="1.8" fill="#222" stroke="none" stroke-width="0" />
<rect x="500.12" y="381.8" width="1.8" height="1.8" fill="#222" stroke="none" stroke-width="0" />
<line x1="483.1" y1="335.1" x2="493.1" y2="335.1" stroke="#333" stroke-width="1.0" />
<rect x="487.2" y="334.2" width="1.8" height="1.8" fill="#222" stroke="none" stroke-width="0" />
<text x="493.7" y="337.1" font-size="5.7" font-weight="normal" font-style="normal" text-anchor="start" fill="#555" ><tspan font-family="Liberation Serif">&#945;</tspan>-Fc<tspan font-family="Liberation Serif">&#947;</tspan>RII</text>
<line x1="285.6" y1="421.8" x2="285.6" y2="489.1" stroke="#3a3a3a" stroke-width="1.05" />
<line x1="285.1" y1="489.1" x2="386.9" y2="489.1" stroke="#3a3a3a" stroke-width="1.05" />
<line x1="283.8" y1="489.1" x2="285.6" y2="489.1" stroke="#222" stroke-width="0.9" />
<text x="283.7" y="491" font-size="5.2" font-weight="bold" font-style="normal" text-anchor="end" fill="#222" >0</text>
<line x1="283.8" y1="475.64" x2="285.6" y2="475.64" stroke="#222" stroke-width="0.9" />
<text x="283.7" y="477.54" font-size="5.2" font-weight="bold" font-style="normal" text-anchor="end" fill="#222" >10</text>
<line x1="283.8" y1="462.18" x2="285.6" y2="462.18" stroke="#222" stroke-width="0.9" />
<text x="283.7" y="464.08" font-size="5.2" font-weight="bold" font-style="normal" text-anchor="end" fill="#222" >20</text>
<line x1="283.8" y1="448.72" x2="285.6" y2="448.72" stroke="#222" stroke-width="0.9" />
<text x="283.7" y="450.62" font-size="5.2" font-weight="bold" font-style="normal" text-anchor="end" fill="#222" >30</text>
<line x1="283.8" y1="435.26" x2="285.6" y2="435.26" stroke="#222" stroke-width="0.9" />
<text x="283.7" y="437.16" font-size="5.2" font-weight="bold" font-style="normal" text-anchor="end" fill="#222" >40</text>
<line x1="283.8" y1="421.8" x2="285.6" y2="421.8" stroke="#222" stroke-width="0.9" />
<text x="283.7" y="423.7" font-size="5.2" font-weight="bold" font-style="normal" text-anchor="end" fill="#222" >50</text>
<line x1="285.6" y1="489.1" x2="285.6" y2="491.4" stroke="#222" stroke-width="0.9" />
<text x="285.6" y="496.7" font-size="5.6" font-weight="bold" font-style="normal" text-anchor="middle" fill="#222" >64</text>
<line x1="310.93" y1="489.1" x2="310.93" y2="491.4" stroke="#222" stroke-width="0.9" />
<text x="310.93" y="496.7" font-size="5.6" font-weight="bold" font-style="normal" text-anchor="middle" fill="#222" >32</text>
<line x1="336.25" y1="489.1" x2="336.25" y2="491.4" stroke="#222" stroke-width="0.9" />
<text x="336.25" y="496.7" font-size="5.6" font-weight="bold" font-style="normal" text-anchor="middle" fill="#222" >16</text>
<line x1="361.57" y1="489.1" x2="361.57" y2="491.4" stroke="#222" stroke-width="0.9" />
<text x="361.57" y="496.7" font-size="5.6" font-weight="bold" font-style="normal" text-anchor="middle" fill="#222" >8</text>
<line x1="386.9" y1="489.1" x2="386.9" y2="491.4" stroke="#222" stroke-width="0.9" />
<text x="386.9" y="496.7" font-size="5.6" font-weight="bold" font-style="normal" text-anchor="middle" fill="#222" >4</text>
<text x="335.75" y="504.6" font-size="6.2" font-weight="bold" font-style="normal" text-anchor="middle" fill="#222" >E:T ratio</text>
<text x="0" y="0" font-size="5.75" font-weight="bold" font-style="normal" text-anchor="middle" fill="#222" transform="translate(274.6,455.5) rotate(-90)">% specific cell death</text>
<text x="314.8" y="413.5" font-size="6.6" font-weight="bold" font-style="normal" text-anchor="start" fill="#111" ><tspan font-style="italic">FCGR2C-ORF</tspan></text>
<line x1="294.62" y1="453.8" x2="294.62" y2="461.4" stroke="#333" stroke-width="0.9" />
<line x1="293.42" y1="453.8" x2="295.82" y2="453.8" stroke="#333" stroke-width="0.9" />
<line x1="293.42" y1="461.4" x2="295.82" y2="461.4" stroke="#333" stroke-width="0.9" />
<line x1="319.94" y1="471.4" x2="319.94" y2="489.1" stroke="#333" stroke-width="0.9" />
<line x1="318.74" y1="471.4" x2="321.14" y2="471.4" stroke="#333" stroke-width="0.9" />
<line x1="318.74" y1="489.1" x2="321.14" y2="489.1" stroke="#333" stroke-width="0.9" />
<line x1="346.76" y1="477.3" x2="346.76" y2="489.1" stroke="#333" stroke-width="0.9" />
<line x1="345.56" y1="477.3" x2="347.96" y2="477.3" stroke="#333" stroke-width="0.9" />
<line x1="345.56" y1="489.1" x2="347.96" y2="489.1" stroke="#333" stroke-width="0.9" />
<line x1="372.09" y1="485.6" x2="372.09" y2="489.1" stroke="#333" stroke-width="0.9" />
<line x1="370.89" y1="485.6" x2="373.29" y2="485.6" stroke="#333" stroke-width="0.9" />
<line x1="370.89" y1="489.1" x2="373.29" y2="489.1" stroke="#333" stroke-width="0.9" />
<polyline points="294.6,457.9 319.9,480.0 346.8,484.3 372.1,487.5" fill="none" stroke="#222" stroke-width="1.0"/>
<rect x="293.72" y="457" width="1.8" height="1.8" fill="#222" stroke="none" stroke-width="0" />
<rect x="319.04" y="479.1" width="1.8" height="1.8" fill="#222" stroke="none" stroke-width="0" />
<rect x="345.86" y="483.4" width="1.8" height="1.8" fill="#222" stroke="none" stroke-width="0" />
<rect x="371.19" y="486.6" width="1.8" height="1.8" fill="#222" stroke="none" stroke-width="0" />
<line x1="352.5" y1="449" x2="362.5" y2="449" stroke="#333" stroke-width="1.0" />
<rect x="356.6" y="448.1" width="1.8" height="1.8" fill="#222" stroke="none" stroke-width="0" />
<text x="363.1" y="451" font-size="5.7" font-weight="normal" font-style="normal" text-anchor="start" fill="#555" ><tspan font-family="Liberation Serif">&#945;</tspan>-Fc<tspan font-family="Liberation Serif">&#947;</tspan>RIII</text>
<line x1="413.9" y1="421.1" x2="413.9" y2="489.1" stroke="#3a3a3a" stroke-width="1.05" />
<line x1="413.4" y1="489.1" x2="515.6" y2="489.1" stroke="#3a3a3a" stroke-width="1.05" />
<line x1="412.1" y1="489.1" x2="413.9" y2="489.1" stroke="#222" stroke-width="0.9" />
<text x="412" y="491" font-size="5.2" font-weight="bold" font-style="normal" text-anchor="end" fill="#222" >0</text>
<line x1="412.1" y1="475.5" x2="413.9" y2="475.5" stroke="#222" stroke-width="0.9" />
<text x="412" y="477.4" font-size="5.2" font-weight="bold" font-style="normal" text-anchor="end" fill="#222" >10</text>
<line x1="412.1" y1="461.9" x2="413.9" y2="461.9" stroke="#222" stroke-width="0.9" />
<text x="412" y="463.8" font-size="5.2" font-weight="bold" font-style="normal" text-anchor="end" fill="#222" >20</text>
<line x1="412.1" y1="448.3" x2="413.9" y2="448.3" stroke="#222" stroke-width="0.9" />
<text x="412" y="450.2" font-size="5.2" font-weight="bold" font-style="normal" text-anchor="end" fill="#222" >30</text>
<line x1="412.1" y1="434.7" x2="413.9" y2="434.7" stroke="#222" stroke-width="0.9" />
<text x="412" y="436.6" font-size="5.2" font-weight="bold" font-style="normal" text-anchor="end" fill="#222" >40</text>
<line x1="412.1" y1="421.1" x2="413.9" y2="421.1" stroke="#222" stroke-width="0.9" />
<text x="412" y="423" font-size="5.2" font-weight="bold" font-style="normal" text-anchor="end" fill="#222" >50</text>
<line x1="413.8" y1="489.1" x2="413.8" y2="491.4" stroke="#222" stroke-width="0.9" />
<text x="413.8" y="496.7" font-size="5.6" font-weight="bold" font-style="normal" text-anchor="middle" fill="#222" >64</text>
<line x1="439.25" y1="489.1" x2="439.25" y2="491.4" stroke="#222" stroke-width="0.9" />
<text x="439.25" y="496.7" font-size="5.6" font-weight="bold" font-style="normal" text-anchor="middle" fill="#222" >32</text>
<line x1="464.7" y1="489.1" x2="464.7" y2="491.4" stroke="#222" stroke-width="0.9" />
<text x="464.7" y="496.7" font-size="5.6" font-weight="bold" font-style="normal" text-anchor="middle" fill="#222" >16</text>
<line x1="490.15" y1="489.1" x2="490.15" y2="491.4" stroke="#222" stroke-width="0.9" />
<text x="490.15" y="496.7" font-size="5.6" font-weight="bold" font-style="normal" text-anchor="middle" fill="#222" >8</text>
<line x1="515.6" y1="489.1" x2="515.6" y2="491.4" stroke="#222" stroke-width="0.9" />
<text x="515.6" y="496.7" font-size="5.6" font-weight="bold" font-style="normal" text-anchor="middle" fill="#222" >4</text>
<text x="464.2" y="504.6" font-size="6.2" font-weight="bold" font-style="normal" text-anchor="middle" fill="#222" >E:T ratio</text>
<text x="0" y="0" font-size="5.75" font-weight="bold" font-style="normal" text-anchor="middle" fill="#222" transform="translate(402.9,455.5) rotate(-90)">% specific cell death</text>
<text x="442.6" y="413" font-size="6.6" font-weight="bold" font-style="normal" text-anchor="start" fill="#111" ><tspan font-style="italic">FCGR2C-ORF</tspan></text>
<line x1="422.86" y1="446.7" x2="422.86" y2="455" stroke="#333" stroke-width="0.9" />
<line x1="421.66" y1="446.7" x2="424.06" y2="446.7" stroke="#333" stroke-width="0.9" />
<line x1="421.66" y1="455" x2="424.06" y2="455" stroke="#333" stroke-width="0.9" />
<line x1="448.31" y1="431.7" x2="448.31" y2="434.4" stroke="#333" stroke-width="0.9" />
<line x1="447.11" y1="431.7" x2="449.51" y2="431.7" stroke="#333" stroke-width="0.9" />
<line x1="447.11" y1="434.4" x2="449.51" y2="434.4" stroke="#333" stroke-width="0.9" />
<line x1="475.26" y1="442" x2="475.26" y2="455.8" stroke="#333" stroke-width="0.9" />
<line x1="474.06" y1="442" x2="476.46" y2="442" stroke="#333" stroke-width="0.9" />
<line x1="474.06" y1="455.8" x2="476.46" y2="455.8" stroke="#333" stroke-width="0.9" />
<line x1="500.71" y1="464.4" x2="500.71" y2="475.3" stroke="#333" stroke-width="0.9" />
<line x1="499.51" y1="464.4" x2="501.91" y2="464.4" stroke="#333" stroke-width="0.9" />
<line x1="499.51" y1="475.3" x2="501.91" y2="475.3" stroke="#333" stroke-width="0.9" />
<polyline points="422.9,450.6 448.3,433.0 475.3,448.8 500.7,469.6" fill="none" stroke="#222" stroke-width="1.0"/>
<rect x="421.96" y="449.7" width="1.8" height="1.8" fill="#222" stroke="none" stroke-width="0" />
<rect x="447.41" y="432.1" width="1.8" height="1.8" fill="#222" stroke="none" stroke-width="0" />
<rect x="474.36" y="447.9" width="1.8" height="1.8" fill="#222" stroke="none" stroke-width="0" />
<rect x="499.81" y="468.7" width="1.8" height="1.8" fill="#222" stroke="none" stroke-width="0" />
<line x1="486.8" y1="431.7" x2="496.8" y2="431.7" stroke="#333" stroke-width="1.0" />
<rect x="490.9" y="430.8" width="1.8" height="1.8" fill="#222" stroke="none" stroke-width="0" />
<text x="497.4" y="433.7" font-size="5.7" font-weight="normal" font-style="normal" text-anchor="start" fill="#555" ><tspan font-family="Liberation Serif">&#945;</tspan>-Fc<tspan font-family="Liberation Serif">&#947;</tspan>RII</text>
<line x1="25.4" y1="540.65" x2="25.4" y2="637.9" stroke="#000" stroke-width="1.45" />
<line x1="24.7" y1="637.9" x2="171.2" y2="637.9" stroke="#000" stroke-width="1.5" />
<line x1="22.4" y1="637.9" x2="25.4" y2="637.9" stroke="#000" stroke-width="1.2" />
<text x="22.1" y="640.5" font-size="7.1" font-weight="bold" font-style="normal" text-anchor="end" fill="#000" >0</text>
<line x1="22.4" y1="618.45" x2="25.4" y2="618.45" stroke="#000" stroke-width="1.2" />
<text x="22.1" y="621.05" font-size="7.1" font-weight="bold" font-style="normal" text-anchor="end" fill="#000" >10</text>
<line x1="22.4" y1="599" x2="25.4" y2="599" stroke="#000" stroke-width="1.2" />
<text x="22.1" y="601.6" font-size="7.1" font-weight="bold" font-style="normal" text-anchor="end" fill="#000" >20</text>
<line x1="22.4" y1="579.55" x2="25.4" y2="579.55" stroke="#000" stroke-width="1.2" />
<text x="22.1" y="582.15" font-size="7.1" font-weight="bold" font-style="normal" text-anchor="end" fill="#000" >30</text>
<line x1="22.4" y1="560.1" x2="25.4" y2="560.1" stroke="#000" stroke-width="1.2" />
<text x="22.1" y="562.7" font-size="7.1" font-weight="bold" font-style="normal" text-anchor="end" fill="#000" >40</text>
<line x1="22.4" y1="540.65" x2="25.4" y2="540.65" stroke="#000" stroke-width="1.2" />
<text x="22.1" y="543.25" font-size="7.1" font-weight="bold" font-style="normal" text-anchor="end" fill="#000" >50</text>
<text x="0" y="0" font-size="8.1" font-weight="bold" font-style="normal" text-anchor="middle" fill="#000" transform="translate(9.4,589.2) rotate(-90)">% specific cell death</text>
<line x1="50" y1="637.9" x2="50" y2="640.9" stroke="#000" stroke-width="1.2" />
<line x1="36.5" y1="611.45" x2="36.5" y2="614.95" stroke="#222" stroke-width="1.2" />
<line x1="34.1" y1="611.45" x2="38.9" y2="611.45" stroke="#222" stroke-width="1.2" />
<rect x="32.05" y="614.95" width="8.9" height="22.95" fill="#000" stroke="#000" stroke-width="1.3" />
<line x1="50" y1="606.97" x2="50" y2="608.73" stroke="#222" stroke-width="1.2" />
<line x1="47.6" y1="606.97" x2="52.4" y2="606.97" stroke="#222" stroke-width="1.2" />
<rect x="45.55" y="608.73" width="8.9" height="29.17" fill="#fff" stroke="#000" stroke-width="1.3" />
<line x1="98.1" y1="637.9" x2="98.1" y2="640.9" stroke="#000" stroke-width="1.2" />
<line x1="84.6" y1="596.47" x2="84.6" y2="610.48" stroke="#222" stroke-width="1.2" />
<line x1="82.2" y1="596.47" x2="87" y2="596.47" stroke="#222" stroke-width="1.2" />
<rect x="80.15" y="610.48" width="8.9" height="27.42" fill="#000" stroke="#000" stroke-width="1.3" />
<line x1="98.1" y1="589.27" x2="98.1" y2="603.28" stroke="#222" stroke-width="1.2" />
<line x1="95.7" y1="589.27" x2="100.5" y2="589.27" stroke="#222" stroke-width="1.2" />
<rect x="93.65" y="603.28" width="8.9" height="34.62" fill="#fff" stroke="#000" stroke-width="1.3" />
<line x1="146.5" y1="637.9" x2="146.5" y2="640.9" stroke="#000" stroke-width="1.2" />
<line x1="133" y1="583.83" x2="133" y2="594.53" stroke="#222" stroke-width="1.2" />
<line x1="130.6" y1="583.83" x2="135.4" y2="583.83" stroke="#222" stroke-width="1.2" />
<rect x="128.55" y="594.53" width="8.9" height="43.37" fill="#000" stroke="#000" stroke-width="1.3" />
<line x1="146.5" y1="580.33" x2="146.5" y2="586.75" stroke="#222" stroke-width="1.2" />
<line x1="144.1" y1="580.33" x2="148.9" y2="580.33" stroke="#222" stroke-width="1.2" />
<rect x="142.05" y="586.75" width="8.9" height="51.15" fill="#fff" stroke="#000" stroke-width="1.3" />
<text x="50" y="647.5" font-size="6.6" font-weight="bold" font-style="normal" text-anchor="middle" fill="#000" >-</text>
<text x="98.1" y="647.5" font-size="6.6" font-weight="bold" font-style="normal" text-anchor="middle" fill="#000" >rhIL-2</text>
<text x="146.5" y="647.5" font-size="6.6" font-weight="bold" font-style="normal" text-anchor="middle" fill="#000" >rhIL-15</text>
<text x="79" y="527.6" font-size="9.2" font-weight="bold" font-style="normal" text-anchor="start" fill="#000" ><tspan font-family="Liberation Serif">&#945;</tspan><tspan dx="0.9">-Fc</tspan><tspan font-family="Liberation Serif">&#947;</tspan>RIII</text>
<rect x="180.4" y="544.7" width="14.6" height="5.9" fill="#000" stroke="#000" stroke-width="1.2" />
<rect x="180.4" y="556.8" width="14.6" height="5.9" fill="#fff" stroke="#000" stroke-width="1.2" />
<text x="196.6" y="550.9" font-size="8.1" font-weight="normal" font-style="normal" text-anchor="start" fill="#000" ><tspan font-style="italic">FCGR</tspan>2<tspan font-style="italic">C</tspan>-Stop</text>
<text x="196.6" y="563" font-size="8.1" font-weight="normal" font-style="normal" text-anchor="start" fill="#000" ><tspan font-style="italic">FCGR</tspan>2<tspan font-style="italic">C</tspan>-ORF</text>
<line x1="294.6" y1="540.6" x2="294.6" y2="637.8" stroke="#000" stroke-width="1.45" />
<line x1="293.9" y1="637.8" x2="440.8" y2="637.8" stroke="#000" stroke-width="1.5" />
<line x1="291.6" y1="637.8" x2="294.6" y2="637.8" stroke="#000" stroke-width="1.2" />
<text x="291.3" y="640.4" font-size="7.1" font-weight="bold" font-style="normal" text-anchor="end" fill="#000" >0</text>
<line x1="291.6" y1="618.36" x2="294.6" y2="618.36" stroke="#000" stroke-width="1.2" />
<text x="291.3" y="620.96" font-size="7.1" font-weight="bold" font-style="normal" text-anchor="end" fill="#000" >10</text>
<line x1="291.6" y1="598.92" x2="294.6" y2="598.92" stroke="#000" stroke-width="1.2" />
<text x="291.3" y="601.52" font-size="7.1" font-weight="bold" font-style="normal" text-anchor="end" fill="#000" >20</text>
<line x1="291.6" y1="579.48" x2="294.6" y2="579.48" stroke="#000" stroke-width="1.2" />
<text x="291.3" y="582.08" font-size="7.1" font-weight="bold" font-style="normal" text-anchor="end" fill="#000" >30</text>
<line x1="291.6" y1="560.04" x2="294.6" y2="560.04" stroke="#000" stroke-width="1.2" />
<text x="291.3" y="562.64" font-size="7.1" font-weight="bold" font-style="normal" text-anchor="end" fill="#000" >40</text>
<line x1="291.6" y1="540.6" x2="294.6" y2="540.6" stroke="#000" stroke-width="1.2" />
<text x="291.3" y="543.2" font-size="7.1" font-weight="bold" font-style="normal" text-anchor="end" fill="#000" >50</text>
<text x="0" y="0" font-size="8.1" font-weight="bold" font-style="normal" text-anchor="middle" fill="#000" transform="translate(278.8,589.2) rotate(-90)">% specific cell death</text>
<line x1="320" y1="637.8" x2="320" y2="640.8" stroke="#000" stroke-width="1.2" />
<rect x="302.05" y="635.86" width="8.9" height="1.94" fill="#000" stroke="#000" stroke-width="1.3" />
<line x1="320" y1="618.94" x2="320" y2="620.5" stroke="#222" stroke-width="1.2" />
<line x1="317.6" y1="618.94" x2="322.4" y2="618.94" stroke="#222" stroke-width="1.2" />
<rect x="315.55" y="620.5" width="8.9" height="17.3" fill="#fff" stroke="#000" stroke-width="1.3" />
<line x1="368.5" y1="637.8" x2="368.5" y2="640.8" stroke="#000" stroke-width="1.2" />
<rect x="350.55" y="635.86" width="8.9" height="1.94" fill="#000" stroke="#000" stroke-width="1.3" />
<line x1="368.5" y1="614.86" x2="368.5" y2="619.14" stroke="#222" stroke-width="1.2" />
<line x1="366.1" y1="614.86" x2="370.9" y2="614.86" stroke="#222" stroke-width="1.2" />
<rect x="364.05" y="619.14" width="8.9" height="18.66" fill="#fff" stroke="#000" stroke-width="1.3" />
<line x1="416.9" y1="637.8" x2="416.9" y2="640.8" stroke="#000" stroke-width="1.2" />
<rect x="398.95" y="635.86" width="8.9" height="1.94" fill="#000" stroke="#000" stroke-width="1.3" />
<line x1="416.9" y1="563.34" x2="416.9" y2="567.62" stroke="#222" stroke-width="1.2" />
<line x1="414.5" y1="563.34" x2="419.3" y2="563.34" stroke="#222" stroke-width="1.2" />
<rect x="412.45" y="567.62" width="8.9" height="70.18" fill="#fff" stroke="#000" stroke-width="1.3" />
<text x="320" y="647.4" font-size="6.6" font-weight="bold" font-style="normal" text-anchor="middle" fill="#000" >-</text>
<text x="368.5" y="647.4" font-size="6.6" font-weight="bold" font-style="normal" text-anchor="middle" fill="#000" >rhIL-2</text>
<text x="416.9" y="647.4" font-size="6.6" font-weight="bold" font-style="normal" text-anchor="middle" fill="#000" >rhIL-15</text>
<text x="349.2" y="529.6" font-size="9.2" font-weight="bold" font-style="normal" text-anchor="start" fill="#000" ><tspan font-family="Liberation Serif">&#945;</tspan><tspan dx="0.9">-Fc</tspan><tspan font-family="Liberation Serif">&#947;</tspan>RII</text>
<rect x="450.2" y="544.7" width="14.6" height="5.9" fill="#000" stroke="#000" stroke-width="1.2" />
<rect x="450.2" y="556.8" width="14.6" height="5.9" fill="#fff" stroke="#000" stroke-width="1.2" />
<text x="466.4" y="550.9" font-size="8.1" font-weight="normal" font-style="normal" text-anchor="start" fill="#000" ><tspan font-style="italic">FCGR</tspan>2<tspan font-style="italic">C</tspan>-Stop</text>
<text x="466.4" y="563" font-size="8.1" font-weight="normal" font-style="normal" text-anchor="start" fill="#000" ><tspan font-style="italic">FCGR</tspan>2<tspan font-style="italic">C</tspan>-ORF</text>
</svg></body></html>
